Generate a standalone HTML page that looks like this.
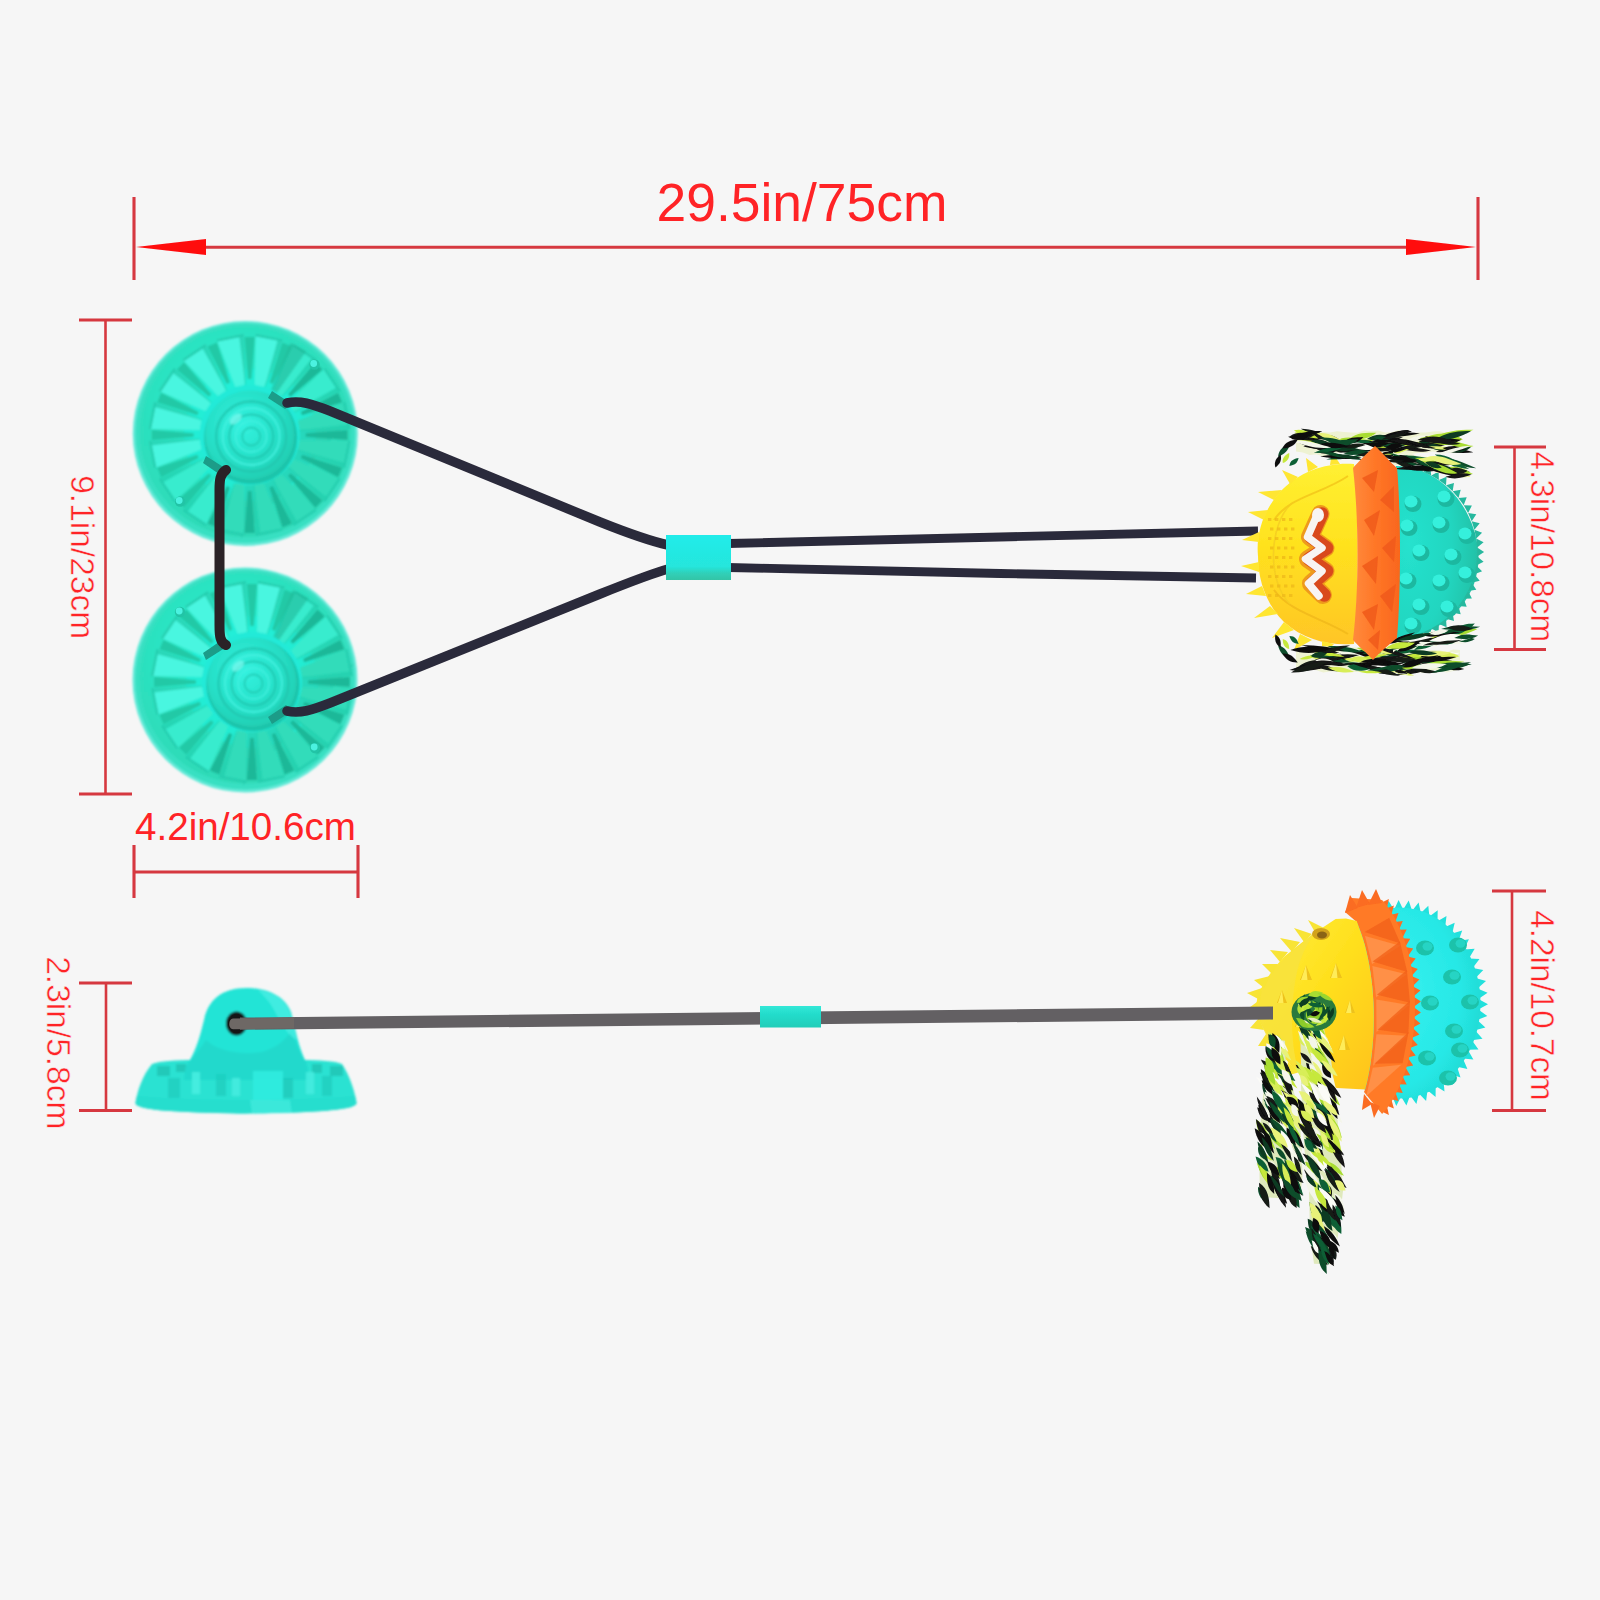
<!DOCTYPE html>
<html><head><meta charset="utf-8">
<style>
html,body{margin:0;padding:0;background:#f6f6f6;}
body{width:1600px;height:1600px;overflow:hidden;position:relative;font-family:"Liberation Sans",sans-serif;}
svg{position:absolute;left:0;top:0;display:block}
text{font-family:"Liberation Sans",sans-serif;fill:#ff2326}
</style></head>
<body>
<svg width="1600" height="1600" viewBox="0 0 1600 1600">
<defs>
<filter id="soft" x="-5%" y="-5%" width="110%" height="110%"><feGaussianBlur stdDeviation="0.7"/></filter>
<filter id="soft2" x="-5%" y="-5%" width="110%" height="110%"><feGaussianBlur stdDeviation="1.1"/></filter>
<filter id="soft3" x="-10%" y="-10%" width="120%" height="120%"><feGaussianBlur stdDeviation="2"/></filter>
<radialGradient id="cupg" cx="0.45" cy="0.4" r="0.65">
<stop offset="0" stop-color="#20f0d6"/><stop offset="0.5" stop-color="#2ce5c4"/><stop offset="1" stop-color="#2ed7b3"/>
</radialGradient>
<radialGradient id="hubg" cx="0.42" cy="0.38" r="0.65">
<stop offset="0" stop-color="#34f2e0"/><stop offset="0.6" stop-color="#26e0c8"/><stop offset="1" stop-color="#22ceb2"/>
</radialGradient>
<linearGradient id="yel1" x1="0" y1="0" x2="0" y2="1">
<stop offset="0" stop-color="#fff032"/><stop offset="0.45" stop-color="#ffe21e"/><stop offset="1" stop-color="#ffc526"/>
</linearGradient>
<linearGradient id="yel2" x1="0" y1="0" x2="1" y2="1">
<stop offset="0" stop-color="#fff040"/><stop offset="0.5" stop-color="#ffdf1c"/><stop offset="1" stop-color="#ffc21c"/>
</linearGradient>
<linearGradient id="org1" x1="0" y1="0" x2="1" y2="0">
<stop offset="0" stop-color="#ff8a3c"/><stop offset="0.5" stop-color="#ff7626"/><stop offset="1" stop-color="#f9661e"/>
</linearGradient>
<radialGradient id="teal1" cx="0.15" cy="0.45" r="0.95">
<stop offset="0" stop-color="#26e2ce"/><stop offset="0.55" stop-color="#20d6c0"/><stop offset="0.85" stop-color="#24c4aa"/><stop offset="1" stop-color="#27b096"/>
</radialGradient>
<radialGradient id="teal2" cx="0.35" cy="0.45" r="0.75">
<stop offset="0" stop-color="#3cf4f2"/><stop offset="0.7" stop-color="#26e8e6"/><stop offset="1" stop-color="#20d4cc"/>
</radialGradient>
<linearGradient id="clipg" x1="0" y1="0" x2="0" y2="1">
<stop offset="0" stop-color="#22ecea"/><stop offset="0.7" stop-color="#25e6dc"/><stop offset="0.85" stop-color="#2fd0b8"/><stop offset="1" stop-color="#34c4a6"/>
</linearGradient>
<linearGradient id="clip2g" x1="0" y1="0" x2="0" y2="1">
<stop offset="0" stop-color="#34e8d8"/><stop offset="0.4" stop-color="#22dccb"/><stop offset="1" stop-color="#20cdb8"/>
</linearGradient>
<linearGradient id="sideg" x1="0" y1="0" x2="1" y2="0">
<stop offset="0" stop-color="#36dcc8"/><stop offset="0.5" stop-color="#24dccc"/><stop offset="1" stop-color="#30d8c4"/>
</linearGradient>
</defs>
<rect width="1600" height="1600" fill="#f6f6f6"/>

<g stroke="#d6383f" stroke-width="3.1" fill="none" filter="url(#soft)">
<line x1="134" y1="197" x2="134" y2="280"/>
<line x1="1478" y1="197" x2="1478" y2="280"/>
<line x1="200" y1="247.3" x2="1410" y2="247.3"/>
<line x1="79" y1="320" x2="132" y2="320"/>
<line x1="79" y1="794" x2="132" y2="794"/>
<line x1="105.5" y1="320" x2="105.5" y2="794" stroke-width="2.6"/>
<line x1="134" y1="872" x2="358" y2="872"/>
<line x1="134" y1="845" x2="134" y2="898"/>
<line x1="358" y1="845" x2="358" y2="898"/>
<line x1="79" y1="983" x2="132" y2="983"/>
<line x1="79" y1="1110.5" x2="132" y2="1110.5"/>
<line x1="106" y1="983" x2="106" y2="1110" stroke-width="2.6"/>
<line x1="1494" y1="447" x2="1546" y2="447"/>
<line x1="1494" y1="649.5" x2="1546" y2="649.5"/>
<line x1="1514.5" y1="447" x2="1514.5" y2="649" stroke-width="2.6"/>
<line x1="1492" y1="891" x2="1546" y2="891"/>
<line x1="1492" y1="1110.5" x2="1546" y2="1110.5"/>
<line x1="1512" y1="891" x2="1512" y2="1110" stroke-width="2.6"/>
</g>
<g fill="#ff0a0e" filter="url(#soft)">
<polygon points="136,247 206,239 206,255"/>
<polygon points="1476,247 1406,239 1406,255"/>
</g>
<g>
<text id="t1" x="656.5" y="221" font-size="53.4">29.5in/75cm</text>
<text id="t3" x="135" y="840" font-size="38.6">4.2in/10.6cm</text>
<text id="t2" transform="translate(70.5,475.2) rotate(90)" stroke="#f6f6f6" stroke-width="0.5" font-size="33.5">9.1in/23cm</text>
<text id="t4" transform="translate(47.3,956.2) rotate(90)" stroke="#f6f6f6" stroke-width="0.5" font-size="33.5">2.3in/5.8cm</text>
<text id="t5" transform="translate(1531.3,451.5) rotate(90)" stroke="#f6f6f6" stroke-width="0.5" font-size="33.3">4.3in/10.8cm</text>
<text id="t6" transform="translate(1531.3,910.2) rotate(90)" stroke="#f6f6f6" stroke-width="0.5" font-size="33.3">4.2in/10.7cm</text>
</g>

<g id="cups">
<g filter="url(#soft2)">
<circle cx="245.3" cy="433.5" r="112.5" fill="#62ead8"/>
<circle cx="245.3" cy="433.0" r="110.0" fill="#38e0c2"/>
<circle cx="245.3" cy="431.5" r="105.5" fill="url(#cupg)"/>
<circle cx="249.7" cy="435" r="66" fill="#1ff0de" opacity="0.55"/>
<path d="M293,427.4 L352.1,416.9 L240.6,538.6 L245.9,478.8Z" fill="#27c6a6" opacity="0.5"/>
<path d="M299.4,440.1 L348.5,440.9 L343.2,467.4 L297.6,449.3Z" fill="#30dcba"/>
<path d="M297.4,450 L344.7,463 L343.2,467.4 L297.2,450.5Z" fill="#24cfae" opacity="0.8"/>
<path d="M305.7,433.2 L347.6,429.9 L347.6,440.1 L305.7,436.8Z" fill="#1fb898"/>
<path d="M349.5,440.9 L344.2,467.7" stroke="#25cdae" stroke-width="2.2" fill="none"/>
<path d="M293.7,458.8 L338.8,478.2 L323.7,500.7 L288.5,466.5Z" fill="#30dcba"/>
<path d="M288.1,467.1 L326.7,497.2 L323.7,500.7 L287.7,467.5Z" fill="#24cfae" opacity="0.8"/>
<path d="M302.1,454.8 L342.1,467.7 L338.2,477.2 L300.7,458Z" fill="#1fb898"/>
<path d="M339.7,478.7 L324.5,501.4" stroke="#25cdae" stroke-width="2.2" fill="none"/>
<path d="M281.2,473.8 L315.4,509 L292.9,524.1 L273.5,479Z" fill="#30dcba"/>
<path d="M272.9,479.3 L297.1,521.9 L292.9,524.1 L272.3,479.6Z" fill="#24cfae" opacity="0.8"/>
<path d="M290.5,473.3 L322.5,500.6 L315.3,507.8 L288,475.8Z" fill="#1fb898"/>
<path d="M316.1,509.8 L293.4,525" stroke="#25cdae" stroke-width="2.2" fill="none"/>
<path d="M264,482.9 L282.1,528.5 L255.6,533.8 L254.8,484.7Z" fill="#30dcba"/>
<path d="M254.1,484.8 L260.2,533.4 L255.6,533.8 L253.5,484.9Z" fill="#24cfae" opacity="0.8"/>
<path d="M272.7,486 L291.9,523.5 L282.4,527.4 L269.5,487.4Z" fill="#1fb898"/>
<path d="M282.4,529.5 L255.6,534.8" stroke="#25cdae" stroke-width="2.2" fill="none"/>
<path d="M244.6,484.7 L243.8,533.8 L217.3,528.5 L235.4,482.9Z" fill="#30dcba"/>
<path d="M234.7,482.7 L221.7,530 L217.3,528.5 L234.2,482.5Z" fill="#24cfae" opacity="0.8"/>
<path d="M251.5,491 L254.8,532.9 L244.6,532.9 L247.9,491Z" fill="#1fb898"/>
<path d="M243.8,534.8 L217,529.5" stroke="#25cdae" stroke-width="2.2" fill="none"/>
<path d="M225.9,479 L206.5,524.1 L184,509 L218.2,473.8Z" fill="#38ecce"/>
<path d="M217.6,473.4 L187.5,512 L184,509 L217.2,473Z" fill="#24cfae" opacity="0.8"/>
<path d="M229.9,487.4 L217,527.4 L207.5,523.5 L226.7,486Z" fill="#1fb898"/>
<path d="M206,525 L183.3,509.8" stroke="#25cdae" stroke-width="2.2" fill="none"/>
<path d="M210.9,466.5 L175.7,500.7 L160.6,478.2 L205.7,458.8Z" fill="#38ecce"/>
<path d="M205.4,458.2 L162.8,482.4 L160.6,478.2 L205.1,457.6Z" fill="#24cfae" opacity="0.8"/>
<path d="M211.4,475.8 L184.1,507.8 L176.9,500.6 L208.9,473.3Z" fill="#22c9a6"/>
<path d="M174.9,501.4 L159.7,478.7" stroke="#25cdae" stroke-width="2.2" fill="none"/>
<path d="M201.8,449.3 L156.2,467.4 L150.9,440.9 L200,440.1Z" fill="#48f6e0"/>
<path d="M199.9,439.4 L151.3,445.5 L150.9,440.9 L199.8,438.8Z" fill="#24cfae" opacity="0.8"/>
<path d="M198.7,458 L161.2,477.2 L157.3,467.7 L197.3,454.8Z" fill="#22c9a6"/>
<path d="M155.2,467.7 L149.9,440.9" stroke="#25cdae" stroke-width="2.2" fill="none"/>
<path d="M200,429.9 L150.9,429.1 L156.2,402.6 L201.8,420.7Z" fill="#48f6e0"/>
<path d="M202,420 L154.7,407 L156.2,402.6 L202.2,419.5Z" fill="#24cfae" opacity="0.8"/>
<path d="M193.7,436.8 L151.8,440.1 L151.8,429.9 L193.7,433.2Z" fill="#22c9a6"/>
<path d="M149.9,429.1 L155.2,402.3" stroke="#25cdae" stroke-width="2.2" fill="none"/>
<path d="M205.7,411.2 L160.6,391.8 L175.7,369.3 L210.9,403.5Z" fill="#48f6e0"/>
<path d="M211.3,402.9 L172.7,372.8 L175.7,369.3 L211.7,402.5Z" fill="#24cfae" opacity="0.8"/>
<path d="M197.3,415.2 L157.3,402.3 L161.2,392.8 L198.7,412Z" fill="#22c9a6"/>
<path d="M159.7,391.3 L174.9,368.6" stroke="#25cdae" stroke-width="2.2" fill="none"/>
<path d="M218.2,396.2 L184,361 L206.5,345.9 L225.9,391Z" fill="#48f6e0"/>
<path d="M226.5,390.7 L202.3,348.1 L206.5,345.9 L227.1,390.4Z" fill="#24cfae" opacity="0.8"/>
<path d="M208.9,396.7 L176.9,369.4 L184.1,362.2 L211.4,394.2Z" fill="#22c9a6"/>
<path d="M183.3,360.2 L206,345" stroke="#25cdae" stroke-width="2.2" fill="none"/>
<path d="M235.4,387.1 L217.3,341.5 L243.8,336.2 L244.6,385.3Z" fill="#48f6e0"/>
<path d="M245.3,385.2 L239.2,336.6 L243.8,336.2 L245.9,385.1Z" fill="#24cfae" opacity="0.8"/>
<path d="M226.7,384 L207.5,346.5 L217,342.6 L229.9,382.6Z" fill="#22c9a6"/>
<path d="M217,340.5 L243.8,335.2" stroke="#25cdae" stroke-width="2.2" fill="none"/>
<path d="M254.8,385.3 L255.6,336.2 L282.1,341.5 L264,387.1Z" fill="#48f6e0"/>
<path d="M264.7,387.3 L277.7,340 L282.1,341.5 L265.2,387.5Z" fill="#24cfae" opacity="0.8"/>
<path d="M247.9,379 L244.6,337.1 L254.8,337.1 L251.5,379Z" fill="#22c9a6"/>
<path d="M255.6,335.2 L282.4,340.5" stroke="#25cdae" stroke-width="2.2" fill="none"/>
<path d="M273.5,391 L292.9,345.9 L315.4,361 L281.2,396.2Z" fill="#38ecce"/>
<path d="M281.8,396.6 L311.9,358 L315.4,361 L282.2,397Z" fill="#24cfae" opacity="0.8"/>
<path d="M269.5,382.6 L282.4,342.6 L291.9,346.5 L272.7,384Z" fill="#22c9a6"/>
<path d="M293.4,345 L316.1,360.2" stroke="#25cdae" stroke-width="2.2" fill="none"/>
<path d="M288.5,403.5 L323.7,369.3 L338.8,391.8 L293.7,411.2Z" fill="#38ecce"/>
<path d="M294,411.8 L336.6,387.6 L338.8,391.8 L294.3,412.4Z" fill="#24cfae" opacity="0.8"/>
<path d="M288,394.2 L315.3,362.2 L322.5,369.4 L290.5,396.7Z" fill="#1fb898"/>
<path d="M324.5,368.6 L339.7,391.3" stroke="#25cdae" stroke-width="2.2" fill="none"/>
<path d="M297.6,420.7 L343.2,402.6 L348.5,429.1 L299.4,429.9Z" fill="#30dcba"/>
<path d="M299.5,430.6 L348.1,424.5 L348.5,429.1 L299.6,431.2Z" fill="#24cfae" opacity="0.8"/>
<path d="M300.7,412 L338.2,392.8 L342.1,402.3 L302.1,415.2Z" fill="#1fb898"/>
<path d="M344.2,402.3 L349.5,429.1" stroke="#25cdae" stroke-width="2.2" fill="none"/>
<path d="M269.5,393.5 L290.8,342.7 L306.2,351.3 L274.4,396.2Z" fill="#1fb494" opacity="0.55"/>
<circle cx="249.7" cy="435" r="50" fill="#20ead8"/>
<circle cx="250.7" cy="437.5" r="46.5" fill="#1fc4aa"/>
<circle cx="249.7" cy="435" r="44.5" fill="url(#hubg)"/>
<circle cx="251.2" cy="436.5" r="35" fill="none" stroke="#20c6ae" stroke-width="2.4" opacity="0.85"/>
<circle cx="251.2" cy="436.5" r="28.5" fill="none" stroke="#46f4e4" stroke-width="1.8" opacity="0.85"/>
<circle cx="251.2" cy="436.5" r="22" fill="none" stroke="#20c6ae" stroke-width="2.0" opacity="0.85"/>
<circle cx="251.2" cy="436.5" r="15.5" fill="none" stroke="#44f2e2" stroke-width="1.6" opacity="0.85"/>
<circle cx="251.2" cy="436.5" r="9" fill="none" stroke="#22cab2" stroke-width="1.8" opacity="0.85"/>
<ellipse cx="235.7" cy="419" rx="7" ry="4" fill="#7ffaf0" opacity="0.7" transform="rotate(-40 235.7 419)"/>
</g>
<g filter="url(#soft2)">
<circle cx="245" cy="680" r="112.5" fill="#62ead8"/>
<circle cx="245" cy="679.5" r="110.0" fill="#38e0c2"/>
<circle cx="245" cy="678" r="105.5" fill="url(#cupg)"/>
<circle cx="252" cy="682" r="66" fill="#1ff0de" opacity="0.55"/>
<path d="M295.3,674.4 L354.4,663.9 L242.9,785.6 L248.2,725.8Z" fill="#27c6a6" opacity="0.5"/>
<path d="M301.7,687.1 L350.8,687.9 L345.5,714.4 L299.9,696.3Z" fill="#30dcba"/>
<path d="M299.7,697 L347,710 L345.5,714.4 L299.5,697.5Z" fill="#24cfae" opacity="0.8"/>
<path d="M308,680.2 L349.9,676.9 L349.9,687.1 L308,683.8Z" fill="#1fb898"/>
<path d="M351.8,687.9 L346.5,714.7" stroke="#25cdae" stroke-width="2.2" fill="none"/>
<path d="M296,705.8 L341.1,725.2 L326,747.7 L290.8,713.5Z" fill="#30dcba"/>
<path d="M290.4,714.1 L329,744.2 L326,747.7 L290,714.5Z" fill="#24cfae" opacity="0.8"/>
<path d="M304.4,701.8 L344.4,714.7 L340.5,724.2 L303,705Z" fill="#1fb898"/>
<path d="M342,725.7 L326.8,748.4" stroke="#25cdae" stroke-width="2.2" fill="none"/>
<path d="M283.5,720.8 L317.7,756 L295.2,771.1 L275.8,726Z" fill="#30dcba"/>
<path d="M275.2,726.3 L299.4,768.9 L295.2,771.1 L274.6,726.6Z" fill="#24cfae" opacity="0.8"/>
<path d="M292.8,720.3 L324.8,747.6 L317.6,754.8 L290.3,722.8Z" fill="#1fb898"/>
<path d="M318.4,756.8 L295.7,772" stroke="#25cdae" stroke-width="2.2" fill="none"/>
<path d="M266.3,729.9 L284.4,775.5 L257.9,780.8 L257.1,731.7Z" fill="#30dcba"/>
<path d="M256.4,731.8 L262.5,780.4 L257.9,780.8 L255.8,731.9Z" fill="#24cfae" opacity="0.8"/>
<path d="M275,733 L294.2,770.5 L284.7,774.4 L271.8,734.4Z" fill="#1fb898"/>
<path d="M284.7,776.5 L257.9,781.8" stroke="#25cdae" stroke-width="2.2" fill="none"/>
<path d="M246.9,731.7 L246.1,780.8 L219.6,775.5 L237.7,729.9Z" fill="#30dcba"/>
<path d="M237,729.7 L224,777 L219.6,775.5 L236.5,729.5Z" fill="#24cfae" opacity="0.8"/>
<path d="M253.8,738 L257.1,779.9 L246.9,779.9 L250.2,738Z" fill="#1fb898"/>
<path d="M246.1,781.8 L219.3,776.5" stroke="#25cdae" stroke-width="2.2" fill="none"/>
<path d="M228.2,726 L208.8,771.1 L186.3,756 L220.5,720.8Z" fill="#38ecce"/>
<path d="M219.9,720.4 L189.8,759 L186.3,756 L219.5,720Z" fill="#24cfae" opacity="0.8"/>
<path d="M232.2,734.4 L219.3,774.4 L209.8,770.5 L229,733Z" fill="#1fb898"/>
<path d="M208.3,772 L185.6,756.8" stroke="#25cdae" stroke-width="2.2" fill="none"/>
<path d="M213.2,713.5 L178,747.7 L162.9,725.2 L208,705.8Z" fill="#38ecce"/>
<path d="M207.7,705.2 L165.1,729.4 L162.9,725.2 L207.4,704.6Z" fill="#24cfae" opacity="0.8"/>
<path d="M213.7,722.8 L186.4,754.8 L179.2,747.6 L211.2,720.3Z" fill="#22c9a6"/>
<path d="M177.2,748.4 L162,725.7" stroke="#25cdae" stroke-width="2.2" fill="none"/>
<path d="M204.1,696.3 L158.5,714.4 L153.2,687.9 L202.3,687.1Z" fill="#48f6e0"/>
<path d="M202.2,686.4 L153.6,692.5 L153.2,687.9 L202.1,685.8Z" fill="#24cfae" opacity="0.8"/>
<path d="M201,705 L163.5,724.2 L159.6,714.7 L199.6,701.8Z" fill="#22c9a6"/>
<path d="M157.5,714.7 L152.2,687.9" stroke="#25cdae" stroke-width="2.2" fill="none"/>
<path d="M202.3,676.9 L153.2,676.1 L158.5,649.6 L204.1,667.7Z" fill="#48f6e0"/>
<path d="M204.3,667 L157,654 L158.5,649.6 L204.5,666.5Z" fill="#24cfae" opacity="0.8"/>
<path d="M196,683.8 L154.1,687.1 L154.1,676.9 L196,680.2Z" fill="#22c9a6"/>
<path d="M152.2,676.1 L157.5,649.3" stroke="#25cdae" stroke-width="2.2" fill="none"/>
<path d="M208,658.2 L162.9,638.8 L178,616.3 L213.2,650.5Z" fill="#48f6e0"/>
<path d="M213.6,649.9 L175,619.8 L178,616.3 L214,649.5Z" fill="#24cfae" opacity="0.8"/>
<path d="M199.6,662.2 L159.6,649.3 L163.5,639.8 L201,659Z" fill="#22c9a6"/>
<path d="M162,638.3 L177.2,615.6" stroke="#25cdae" stroke-width="2.2" fill="none"/>
<path d="M220.5,643.2 L186.3,608 L208.8,592.9 L228.2,638Z" fill="#48f6e0"/>
<path d="M228.8,637.7 L204.6,595.1 L208.8,592.9 L229.4,637.4Z" fill="#24cfae" opacity="0.8"/>
<path d="M211.2,643.7 L179.2,616.4 L186.4,609.2 L213.7,641.2Z" fill="#22c9a6"/>
<path d="M185.6,607.2 L208.3,592" stroke="#25cdae" stroke-width="2.2" fill="none"/>
<path d="M237.7,634.1 L219.6,588.5 L246.1,583.2 L246.9,632.3Z" fill="#48f6e0"/>
<path d="M247.6,632.2 L241.5,583.6 L246.1,583.2 L248.2,632.1Z" fill="#24cfae" opacity="0.8"/>
<path d="M229,631 L209.8,593.5 L219.3,589.6 L232.2,629.6Z" fill="#22c9a6"/>
<path d="M219.3,587.5 L246.1,582.2" stroke="#25cdae" stroke-width="2.2" fill="none"/>
<path d="M257.1,632.3 L257.9,583.2 L284.4,588.5 L266.3,634.1Z" fill="#48f6e0"/>
<path d="M267,634.3 L280,587 L284.4,588.5 L267.5,634.5Z" fill="#24cfae" opacity="0.8"/>
<path d="M250.2,626 L246.9,584.1 L257.1,584.1 L253.8,626Z" fill="#22c9a6"/>
<path d="M257.9,582.2 L284.7,587.5" stroke="#25cdae" stroke-width="2.2" fill="none"/>
<path d="M275.8,638 L295.2,592.9 L317.7,608 L283.5,643.2Z" fill="#38ecce"/>
<path d="M284.1,643.6 L314.2,605 L317.7,608 L284.5,644Z" fill="#24cfae" opacity="0.8"/>
<path d="M271.8,629.6 L284.7,589.6 L294.2,593.5 L275,631Z" fill="#22c9a6"/>
<path d="M295.7,592 L318.4,607.2" stroke="#25cdae" stroke-width="2.2" fill="none"/>
<path d="M290.8,650.5 L326,616.3 L341.1,638.8 L296,658.2Z" fill="#38ecce"/>
<path d="M296.3,658.8 L338.9,634.6 L341.1,638.8 L296.6,659.4Z" fill="#24cfae" opacity="0.8"/>
<path d="M290.3,641.2 L317.6,609.2 L324.8,616.4 L292.8,643.7Z" fill="#1fb898"/>
<path d="M326.8,615.6 L342,638.3" stroke="#25cdae" stroke-width="2.2" fill="none"/>
<path d="M299.9,667.7 L345.5,649.6 L350.8,676.1 L301.7,676.9Z" fill="#30dcba"/>
<path d="M301.8,677.6 L350.4,671.5 L350.8,676.1 L301.9,678.2Z" fill="#24cfae" opacity="0.8"/>
<path d="M303,659 L340.5,639.8 L344.4,649.3 L304.4,662.2Z" fill="#1fb898"/>
<path d="M346.5,649.3 L351.8,676.1" stroke="#25cdae" stroke-width="2.2" fill="none"/>
<path d="M271.8,640.5 L293.1,589.7 L308.5,598.3 L276.7,643.2Z" fill="#1fb494" opacity="0.55"/>
<circle cx="252" cy="682" r="50" fill="#20ead8"/>
<circle cx="253" cy="684.5" r="46.5" fill="#1fc4aa"/>
<circle cx="252" cy="682" r="44.5" fill="url(#hubg)"/>
<circle cx="253.5" cy="683.5" r="35" fill="none" stroke="#20c6ae" stroke-width="2.4" opacity="0.85"/>
<circle cx="253.5" cy="683.5" r="28.5" fill="none" stroke="#46f4e4" stroke-width="1.8" opacity="0.85"/>
<circle cx="253.5" cy="683.5" r="22" fill="none" stroke="#20c6ae" stroke-width="2.0" opacity="0.85"/>
<circle cx="253.5" cy="683.5" r="15.5" fill="none" stroke="#44f2e2" stroke-width="1.6" opacity="0.85"/>
<circle cx="253.5" cy="683.5" r="9" fill="none" stroke="#22cab2" stroke-width="1.8" opacity="0.85"/>
<ellipse cx="238" cy="666" rx="7" ry="4" fill="#7ffaf0" opacity="0.7" transform="rotate(-40 238 666)"/>
</g>
<g filter="url(#soft)">
<circle cx="314.5" cy="364.5" r="5.2" fill="#21c4a6"/>
<circle cx="313.7" cy="363.5" r="3.4" fill="#4cf2e0"/>
<circle cx="180" cy="501.5" r="5.2" fill="#21c4a6"/>
<circle cx="179.2" cy="500.5" r="3.4" fill="#4cf2e0"/>
<circle cx="180" cy="612" r="5.2" fill="#21c4a6"/>
<circle cx="179.2" cy="611" r="3.4" fill="#4cf2e0"/>
<circle cx="315" cy="748" r="5.2" fill="#21c4a6"/>
<circle cx="314.2" cy="747" r="3.4" fill="#4cf2e0"/>
</g>
</g>
<g id="cords" fill="none" stroke-linecap="round" filter="url(#soft)">
<path d="M272,391 L292,404 L285,409 L268,398Z" fill="#1a9c88" stroke="none"/>
<path d="M206,456 L228,470 L222,476 L203,463Z" fill="#1a9c88" stroke="none"/>
<path d="M272,724 L292,711 L286,705 L268,717Z" fill="#1a9c88" stroke="none"/>
<path d="M206,660 L228,646 L222,640 L203,653Z" fill="#1a9c88" stroke="none"/>
<path d="M226,470 C220,474 219.5,480 219.5,490 L219.5,625 C219.5,636 220,642 226,645" stroke="#2a2426" stroke-width="10"/>
<path d="M287,403 C300,400 312,404 330,411 L600,522 C630,534 650,541 668,545" stroke="#2b2a3a" stroke-width="9.5"/>
<path d="M287,711 C300,714 312,710 330,703 L600,594 C630,582 650,574 668,569" stroke="#2b2a3a" stroke-width="9.5"/>
<path d="M728,543.5 L1000,537 L1258,531" stroke="#2b2a3a" stroke-width="8.8" stroke-linecap="butt"/>
<path d="M728,567.5 L1000,573.5 L1256,578" stroke="#2b2a3a" stroke-width="8.8" stroke-linecap="butt"/>
</g>
<g filter="url(#soft)"><rect x="666" y="535" width="65" height="45" fill="url(#clipg)"/></g>
<g id="sidecup" filter="url(#soft2)">
<path d="M135.5,1103 C137,1092 142,1076 152,1064 C160,1061 175,1060 195,1060 L300,1060 C320,1060 335,1061 342,1064 C350,1076 355,1092 356.5,1103 C356,1109 330,1112.5 246,1113.5 C162,1112.5 136,1109 135.5,1103Z" fill="#2ae2d2"/>
<rect x="157" y="1066" width="13" height="10" fill="#1fc6b6" opacity="0.9"/>
<rect x="176" y="1064" width="10" height="8" fill="#1fc6b6" opacity="0.9"/>
<rect x="286" y="1066" width="19" height="13" fill="#1fc6b6" opacity="0.9"/>
<rect x="312" y="1064" width="10" height="9" fill="#1fc6b6" opacity="0.9"/>
<rect x="330" y="1066" width="13" height="10" fill="#1fc6b6" opacity="0.9"/>
<path d="M186,1066 C196,1052 200,1036 204,1020 C208,1000 222,988 246,988 C270,988 286,998 291,1012 C296,1030 298,1046 306,1062 L310,1080 L184,1080Z" fill="#24e4d6"/>
<path d="M206,1040 C216,1050 240,1056 262,1052 C276,1048 286,1040 292,1030 C296,1044 300,1054 306,1062 L310,1080 L184,1080 L186,1066 C196,1054 202,1046 206,1040Z" fill="#1fd6c8" opacity="0.75"/>
<path d="M258,990 C274,992 286,1000 290,1012 C293,1022 295,1032 297,1040 C288,1036 282,1024 274,1010 C270,1002 264,996 258,990Z" fill="#4cf0e6" opacity="0.7"/>
<rect x="168" y="1078" width="12" height="20" fill="#20cfc0" opacity="0.85"/>
<rect x="192" y="1072" width="8" height="22" fill="#4aeee2" opacity="0.85"/>
<rect x="216" y="1074" width="10" height="22" fill="#20cfc0" opacity="0.85"/>
<rect x="232" y="1078" width="8" height="18" fill="#46ece0" opacity="0.85"/>
<rect x="253" y="1071" width="30" height="29" fill="#30ece0" opacity="0.85"/>
<rect x="283" y="1078" width="10" height="20" fill="#1fcabc" opacity="0.85"/>
<rect x="306" y="1072" width="8" height="22" fill="#46ece0" opacity="0.85"/>
<rect x="322" y="1076" width="10" height="20" fill="#20cfc0" opacity="0.85"/>
<path d="M137,1096 C170,1099 210,1100 246,1100 C282,1100 322,1099 355,1096 C356,1100 356.5,1102 356.5,1103 C356,1109 330,1112.5 246,1113.5 C162,1112.5 136,1109 135.5,1103 C135.5,1102 136,1100 137,1096Z" fill="#26dece"/>
<path d="M250,1100 L290,1100 L292,1113 L252,1113.5Z" fill="#48eee2" opacity="0.6"/>
<ellipse cx="236.5" cy="1023.5" rx="10.5" ry="12" fill="#121212"/>
</g>
<g id="ball1">
<g filter="url(#soft)">
<path d="M1396,466 C1430,466 1462,492 1474,530 C1480,550 1480,566 1474,584 C1462,616 1430,638 1396,638Z" fill="url(#teal1)"/>
<path d="M1406.2,467.1 L1411.9,461 L1414.8,468.9Z M1414.8,468.9 L1421.2,463.6 L1423.2,471.7Z M1423.2,471.7 L1430.1,467 L1431.3,475.4Z M1431.3,475.4 L1438.6,471.5 L1438.9,479.9Z M1438.9,479.9 L1446.6,476.8 L1446,485.2Z M1446,485.2 L1454,482.9 L1452.6,491.2Z M1452.6,491.2 L1460.7,489.8 L1458.5,497.9Z M1458.5,497.9 L1466.7,497.3 L1463.7,505.2Z M1463.7,505.2 L1471.9,505.5 L1468.1,513Z M1468.1,513 L1476.3,514.2 L1471.7,521.2Z M1471.7,521.2 L1479.7,523.3 L1474.4,529.7Z M1474.4,529.7 L1482.1,532.7 L1476.2,538.5Z M1476.2,538.5 L1483.6,542.3 L1477.2,547.5Z M1477.2,547.5 L1484.1,552 L1477.2,556.5Z M1477.2,556.5 L1483.6,561.7 L1476.2,565.5Z M1476.2,565.5 L1482.1,571.3 L1474.4,574.3Z M1474.4,574.3 L1479.7,580.7 L1471.7,582.8Z M1471.7,582.8 L1476.3,589.8 L1468.1,591Z M1468.1,591 L1471.9,598.5 L1463.7,598.8Z M1463.7,598.8 L1466.7,606.7 L1458.5,606.1Z M1458.5,606.1 L1460.7,614.2 L1452.6,612.8Z M1452.6,612.8 L1454,621.1 L1446,618.8Z M1446,618.8 L1446.6,627.2 L1438.9,624.1Z M1438.9,624.1 L1438.6,632.5 L1431.3,628.6Z M1431.3,628.6 L1430.1,637 L1423.2,632.3Z M1423.2,632.3 L1421.2,640.4 L1414.8,635.1Z M1414.8,635.1 L1411.9,643 L1406.2,636.9Z" fill="#27b89e"/>
<ellipse cx="1413" cy="504" rx="8.5" ry="8" fill="#1fb8a0"/>
<ellipse cx="1411" cy="501.5" rx="6.5" ry="6" fill="#34f0dc"/>
<ellipse cx="1446" cy="499" rx="8.5" ry="8" fill="#1fb8a0"/>
<ellipse cx="1444" cy="496.5" rx="6.5" ry="6" fill="#34f0dc"/>
<ellipse cx="1409" cy="528" rx="8.5" ry="8" fill="#1fb8a0"/>
<ellipse cx="1407" cy="525.5" rx="6.5" ry="6" fill="#34f0dc"/>
<ellipse cx="1441" cy="525" rx="8.5" ry="8" fill="#1fb8a0"/>
<ellipse cx="1439" cy="522.5" rx="6.5" ry="6" fill="#34f0dc"/>
<ellipse cx="1467" cy="536" rx="8.5" ry="8" fill="#1fb8a0"/>
<ellipse cx="1465" cy="533.5" rx="6.5" ry="6" fill="#34f0dc"/>
<ellipse cx="1421" cy="553" rx="8.5" ry="8" fill="#1fb8a0"/>
<ellipse cx="1419" cy="550.5" rx="6.5" ry="6" fill="#34f0dc"/>
<ellipse cx="1453" cy="557" rx="8.5" ry="8" fill="#1fb8a0"/>
<ellipse cx="1451" cy="554.5" rx="6.5" ry="6" fill="#34f0dc"/>
<ellipse cx="1408" cy="581" rx="8.5" ry="8" fill="#1fb8a0"/>
<ellipse cx="1406" cy="578.5" rx="6.5" ry="6" fill="#34f0dc"/>
<ellipse cx="1441" cy="583" rx="8.5" ry="8" fill="#1fb8a0"/>
<ellipse cx="1439" cy="580.5" rx="6.5" ry="6" fill="#34f0dc"/>
<ellipse cx="1467" cy="575" rx="8.5" ry="8" fill="#1fb8a0"/>
<ellipse cx="1465" cy="572.5" rx="6.5" ry="6" fill="#34f0dc"/>
<ellipse cx="1421" cy="607" rx="8.5" ry="8" fill="#1fb8a0"/>
<ellipse cx="1419" cy="604.5" rx="6.5" ry="6" fill="#34f0dc"/>
<ellipse cx="1449" cy="609" rx="8.5" ry="8" fill="#1fb8a0"/>
<ellipse cx="1447" cy="606.5" rx="6.5" ry="6" fill="#34f0dc"/>
<ellipse cx="1413" cy="626" rx="8.5" ry="8" fill="#1fb8a0"/>
<ellipse cx="1411" cy="623.5" rx="6.5" ry="6" fill="#34f0dc"/>
<path d="M1354,464 C1330,462 1300,470 1280,492 C1262,512 1256,536 1258,556 C1258,580 1266,604 1284,622 C1304,640 1330,646 1354,644 C1359,600 1359,510 1354,464Z" fill="url(#yel1)"/>
<polygon points="1330,465 1332,452 1340,464" fill="#ffe630"/>
<polygon points="1308,472 1306,458 1318,467" fill="#ffe630"/>
<polygon points="1290,484 1282,470 1298,477" fill="#ffe630"/>
<polygon points="1274,500 1258,492 1282,490" fill="#ffe630"/>
<polygon points="1264,520 1248,512 1268,510" fill="#ffe630"/>
<polygon points="1259,542 1242,540 1259,532" fill="#ffe630"/>
<polygon points="1259,562 1241,566 1259,572" fill="#ffe630"/>
<polygon points="1262,586 1246,594 1266,596" fill="#ffe630"/>
<polygon points="1270,606 1254,618 1278,614" fill="#ffe630"/>
<polygon points="1284,622 1272,638 1294,630" fill="#ffe630"/>
<polygon points="1300,634 1294,650 1312,640" fill="#ffe630"/>
<polygon points="1322,641 1322,656 1334,644" fill="#ffe630"/>
<path d="M1348,476 C1322,494 1290,496 1274,520" fill="none" stroke="#f2c41a" stroke-width="2" opacity="0.8"/>
<path d="M1348,634 C1322,618 1290,612 1274,590" fill="none" stroke="#f0b81a" stroke-width="2" opacity="0.8"/>
<path d="M1290,505 C1270,525 1266,580 1290,604" fill="none" stroke="#f4cc20" stroke-width="1.6" opacity="0.8"/>
<rect x="1268" y="518.0" width="3.4" height="3" fill="#eeb818" opacity="0.75"/>
<rect x="1275" y="518.0" width="3.4" height="3" fill="#eeb818" opacity="0.75"/>
<rect x="1282" y="518.0" width="3.4" height="3" fill="#eeb818" opacity="0.75"/>
<rect x="1289" y="518.0" width="3.4" height="3" fill="#eeb818" opacity="0.75"/>
<rect x="1270" y="527.5" width="3.4" height="3" fill="#eeb818" opacity="0.75"/>
<rect x="1277" y="527.5" width="3.4" height="3" fill="#eeb818" opacity="0.75"/>
<rect x="1284" y="527.5" width="3.4" height="3" fill="#eeb818" opacity="0.75"/>
<rect x="1291" y="527.5" width="3.4" height="3" fill="#eeb818" opacity="0.75"/>
<rect x="1268" y="537.0" width="3.4" height="3" fill="#eeb818" opacity="0.75"/>
<rect x="1275" y="537.0" width="3.4" height="3" fill="#eeb818" opacity="0.75"/>
<rect x="1282" y="537.0" width="3.4" height="3" fill="#eeb818" opacity="0.75"/>
<rect x="1289" y="537.0" width="3.4" height="3" fill="#eeb818" opacity="0.75"/>
<rect x="1270" y="546.5" width="3.4" height="3" fill="#eeb818" opacity="0.75"/>
<rect x="1277" y="546.5" width="3.4" height="3" fill="#eeb818" opacity="0.75"/>
<rect x="1284" y="546.5" width="3.4" height="3" fill="#eeb818" opacity="0.75"/>
<rect x="1291" y="546.5" width="3.4" height="3" fill="#eeb818" opacity="0.75"/>
<rect x="1268" y="556.0" width="3.4" height="3" fill="#eeb818" opacity="0.75"/>
<rect x="1275" y="556.0" width="3.4" height="3" fill="#eeb818" opacity="0.75"/>
<rect x="1282" y="556.0" width="3.4" height="3" fill="#eeb818" opacity="0.75"/>
<rect x="1289" y="556.0" width="3.4" height="3" fill="#eeb818" opacity="0.75"/>
<rect x="1270" y="565.5" width="3.4" height="3" fill="#eeb818" opacity="0.75"/>
<rect x="1277" y="565.5" width="3.4" height="3" fill="#eeb818" opacity="0.75"/>
<rect x="1284" y="565.5" width="3.4" height="3" fill="#eeb818" opacity="0.75"/>
<rect x="1291" y="565.5" width="3.4" height="3" fill="#eeb818" opacity="0.75"/>
<rect x="1268" y="575.0" width="3.4" height="3" fill="#eeb818" opacity="0.75"/>
<rect x="1275" y="575.0" width="3.4" height="3" fill="#eeb818" opacity="0.75"/>
<rect x="1282" y="575.0" width="3.4" height="3" fill="#eeb818" opacity="0.75"/>
<rect x="1289" y="575.0" width="3.4" height="3" fill="#eeb818" opacity="0.75"/>
<rect x="1270" y="584.5" width="3.4" height="3" fill="#eeb818" opacity="0.75"/>
<rect x="1277" y="584.5" width="3.4" height="3" fill="#eeb818" opacity="0.75"/>
<rect x="1284" y="584.5" width="3.4" height="3" fill="#eeb818" opacity="0.75"/>
<rect x="1291" y="584.5" width="3.4" height="3" fill="#eeb818" opacity="0.75"/>
<rect x="1268" y="594.0" width="3.4" height="3" fill="#eeb818" opacity="0.75"/>
<rect x="1275" y="594.0" width="3.4" height="3" fill="#eeb818" opacity="0.75"/>
<rect x="1282" y="594.0" width="3.4" height="3" fill="#eeb818" opacity="0.75"/>
<rect x="1289" y="594.0" width="3.4" height="3" fill="#eeb818" opacity="0.75"/>
<path d="M1320.5,514 L1310,537 L1325.5,548 L1308,559 L1325.5,571 L1311,583.5 L1323,595" fill="none" stroke="#ee9a1a" stroke-width="18" stroke-linejoin="round" stroke-linecap="round"/>
<path d="M1320.5,514 L1310,537 L1325.5,548 L1308,559 L1325.5,571 L1311,583.5 L1323,595" fill="none" stroke="#d9481c" stroke-width="13.5" stroke-linejoin="round" stroke-linecap="round" transform="translate(1.2,0)"/>
<path d="M1318,513 L1307.5,537 L1322,548 L1305.5,559 L1322,571 L1308.5,583.5 L1319,596" fill="none" stroke="#f8f4f2" stroke-width="7.5" stroke-linejoin="round" stroke-linecap="round"/>
<ellipse cx="1318" cy="515" rx="6" ry="7" fill="#f8f4f2"/>
</g>
<g filter="url(#soft)">
<path d="M1296,434.7 L1302.8,432.7 L1309.7,433.7 L1316.5,432.2 L1323.3,432.3 L1330.2,432.5 L1337,431.2 L1343.8,432.1 L1350.7,432.4 L1357.5,432.8 L1364.3,430.6 L1371.2,431.2 L1378,430.5 L1384.8,432.6 L1391.7,432.2 L1398.5,430.1 L1405.3,433.1 L1412.2,433.2 L1419,432.5 L1425.8,432.6 L1432.7,431.4 L1439.5,431.2 L1446.3,432.9 L1453.2,431.7 L1460,432.3 L1460,451.8 L1453.2,452.9 L1446.3,452 L1439.5,452.4 L1432.7,451.6 L1425.8,453 L1419,453 L1412.2,453.8 L1405.3,453.7 L1398.5,454.7 L1391.7,455.8 L1384.8,454.1 L1378,454.6 L1371.2,455.6 L1364.3,456.5 L1357.5,458.1 L1350.7,458.9 L1343.8,459 L1337,458.9 L1330.2,456.1 L1323.3,456.4 L1316.5,454.3 L1309.7,454.9 L1302.8,452.4 L1296,451.5Z" fill="#eef2d2"/>
<path d="M1377.2,438 C1388.6,436.8 1398.2,437.6 1409,441.4 C1397.7,442.3 1388.1,442.1 1377.2,438Z" fill="#0c0c0c"/>
<path d="M1349.4,448.7 C1355,445.6 1359.7,442.7 1366.5,444.4 C1360.8,447.2 1356.3,450.7 1349.4,448.7Z" fill="#0d4d2c"/>
<path d="M1426.8,445.2 C1438.2,441.2 1447.3,444.9 1457.9,448.3 C1446.6,451.8 1437.4,449.1 1426.8,445.2Z" fill="#fbfbf7"/>
<path d="M1317.5,452 C1324.7,449.9 1330.9,447.8 1338.5,450.7 C1331.2,452.6 1325.1,455.3 1317.5,452Z" fill="#0f0f0f"/>
<path d="M1435.9,451.9 C1446.1,446.2 1455.6,447.3 1466.7,447.5 C1456.4,452.9 1447,452.5 1435.9,451.9Z" fill="#121212"/>
<path d="M1364.6,447.5 C1379.2,441.4 1392.3,442.2 1407.6,444 C1392.9,449.7 1379.9,449.9 1364.6,447.5Z" fill="#0f0f0f"/>
<path d="M1368.7,444 C1377.3,440.4 1383.6,444.8 1391.2,447.5 C1382.6,450.7 1376.3,447.1 1368.7,444Z" fill="#0a3a22"/>
<path d="M1297.8,431.4 C1311.3,430.2 1322,433 1333.8,439.5 C1320.4,440.2 1309.5,438.4 1297.8,431.4Z" fill="#141a16"/>
<path d="M1421.6,447.6 C1434.8,440.5 1446.7,437.1 1461.8,438.1 C1448.5,444.8 1436.8,449.1 1421.6,447.6Z" fill="#0c0c0c"/>
<path d="M1430.9,437.9 C1445.1,431.3 1458,429.7 1473.5,429.8 C1459.2,436 1446.5,438.4 1430.9,437.9Z" fill="#a8dc30"/>
<path d="M1326.2,459.4 C1340.2,455.1 1352.6,454.3 1367.1,454.4 C1353.1,458.4 1340.8,459.8 1326.2,459.4Z" fill="#0d4d2c"/>
<path d="M1335,441.7 C1344.4,435.3 1353.1,438 1363.1,439.3 C1353.7,445.3 1345,443.5 1335,441.7Z" fill="#a8dc30"/>
<path d="M1413.8,437.5 C1425.7,434.8 1435.7,436.2 1447.3,439 C1435.5,441.4 1425.4,440.7 1413.8,437.5Z" fill="#0f0f0f"/>
<path d="M1354.2,448 C1362.4,445.4 1369.4,444.3 1377.8,446.9 C1369.6,449.1 1362.6,450.9 1354.2,448Z" fill="#141a16"/>
<path d="M1334.5,450.2 C1342.5,448 1349.2,447.7 1356.6,451.9 C1348.7,453.8 1341.9,454.9 1334.5,450.2Z" fill="#141a16"/>
<path d="M1294.5,432.5 C1303.1,431 1310.1,431.6 1317,437.5 C1308.5,438.5 1301.4,438.9 1294.5,432.5Z" fill="#d8ee58"/>
<path d="M1300.9,428.8 C1312,429 1320.5,432.4 1329.9,437.9 C1318.9,437.4 1310.2,434.6 1300.9,428.8Z" fill="#141a16"/>
<path d="M1418.7,441.4 C1425.5,438.7 1429.7,443.1 1435.3,445.4 C1428.6,447.8 1424.2,444 1418.7,441.4Z" fill="#141a16"/>
<path d="M1368.4,449.7 C1374,444 1379.9,445.9 1386.5,446.9 C1380.8,452.1 1375.1,451 1368.4,449.7Z" fill="#c6e83c"/>
<path d="M1367,439 C1375.4,432.8 1383.3,434.6 1392.5,436.6 C1384,442.3 1376.2,441.6 1367,439Z" fill="#0a3a22"/>
<path d="M1408.1,440.2 C1414,435.5 1420,435.1 1427.3,435.5 C1421.2,439.9 1415.4,440.9 1408.1,440.2Z" fill="#f4f6ea"/>
<path d="M1396.9,448.3 C1409.1,445.2 1419.2,448.6 1431.1,450.5 C1418.9,453.4 1408.8,450.5 1396.9,448.3Z" fill="#121212"/>
<path d="M1359.3,450.6 C1374.3,448 1387.2,446.9 1402.4,448.9 C1387.4,451.2 1374.5,453 1359.3,450.6Z" fill="#121212"/>
<path d="M1379.4,443.2 C1386,440.3 1390.4,443.5 1395.6,446.9 C1389.1,449.4 1384.5,447.1 1379.4,443.2Z" fill="#141a16"/>
<path d="M1356,442 C1361.5,437.2 1366.9,439.9 1373,440.1 C1367.5,444.6 1362.1,442.6 1356,442Z" fill="#a8dc30"/>
<path d="M1345.2,442.9 C1355.9,439.9 1365.1,439 1376,442.1 C1365.3,444.7 1356.1,446.4 1345.2,442.9Z" fill="#121212"/>
<path d="M1397.4,445.3 C1409.9,441.1 1420.9,441.9 1433.7,443.6 C1421.2,447.5 1410.2,447.3 1397.4,445.3Z" fill="#c6e83c"/>
<path d="M1293.9,430.2 C1304.1,428.1 1310.7,432.7 1318.4,438.3 C1308.3,440 1301.4,436.3 1293.9,430.2Z" fill="#c6e83c"/>
<path d="M1356.8,442.7 C1369.5,439.9 1380.1,443.4 1392.5,444.8 C1379.8,447.3 1369.3,444.3 1356.8,442.7Z" fill="#0f5e36"/>
<path d="M1378.4,440.5 C1393.8,438.1 1406.2,442.9 1421.2,444.8 C1405.8,446.9 1393.3,442.6 1378.4,440.5Z" fill="#0c0c0c"/>
<path d="M1435.9,447.9 C1449.5,445.3 1460.6,448.3 1473.4,452.3 C1459.8,454.4 1448.7,452.2 1435.9,447.9Z" fill="#0c0c0c"/>
<path d="M1303.2,446.5 C1316.9,442.1 1328.5,445 1342.1,447.5 C1328.4,451.4 1316.7,449.4 1303.2,446.5Z" fill="#0c0c0c"/>
<path d="M1348.8,439.4 C1357.2,432 1366.2,432.8 1376.4,432.7 C1367.8,439.7 1359.1,439.7 1348.8,439.4Z" fill="#a8dc30"/>
<path d="M1320.3,444.3 C1331.3,442.6 1340.5,444 1351.1,447.4 C1340.1,448.8 1330.8,448 1320.3,444.3Z" fill="#0a3a22"/>
<path d="M1330.5,448.7 C1342.1,446.1 1351.9,446.3 1363.3,449.5 C1351.7,451.8 1341.9,452.3 1330.5,448.7Z" fill="#0a3a22"/>
<path d="M1330.4,455 C1339.8,451.4 1347.9,452.1 1357.3,455 C1347.9,458.2 1339.9,458.3 1330.4,455Z" fill="#fbfbf7"/>
<path d="M1322.9,437 C1330.5,432.7 1335.4,436.6 1341.3,440.7 C1333.8,444.5 1328.6,441.6 1322.9,437Z" fill="#0f0f0f"/>
<path d="M1298.3,442.6 C1311,439.8 1320.4,444.3 1331.5,449.2 C1319,451.5 1309.4,447.9 1298.3,442.6Z" fill="#121212"/>
<path d="M1345.1,443.5 C1353.7,438.6 1361.8,440 1371.1,440.8 C1362.3,445.4 1354.4,444.7 1345.1,443.5Z" fill="#0f5e36"/>
<path d="M1376.5,440.3 C1386.8,433 1396.9,430.5 1409.3,430.1 C1398.9,437 1389.1,440.4 1376.5,440.3Z" fill="#0f0f0f"/>
<path d="M1441.8,439.7 C1448,438.3 1452.4,440.3 1457.3,443.8 C1451.2,444.9 1446.6,443.5 1441.8,439.7Z" fill="#0c0c0c"/>
<path d="M1425,439.9 C1436.9,437.1 1447.2,435.5 1459.4,438.3 C1447.4,440.8 1437.2,443.1 1425,439.9Z" fill="#0a3a22"/>
<path d="M1418.4,442.6 C1430.2,439.4 1438,445.7 1448,449.7 C1436.4,452.5 1428.3,447 1418.4,442.6Z" fill="#0a3a22"/>
<path d="M1361.7,449.1 C1370,444.4 1377.4,441.3 1387,441 C1378.6,445.4 1371.4,449 1361.7,449.1Z" fill="#0c0c0c"/>
<path d="M1383.5,435.8 C1396.1,433.1 1407,431.4 1419.9,433.4 C1407.3,435.8 1396.5,438.1 1383.5,435.8Z" fill="#0f0f0f"/>
<path d="M1357.7,444 C1367.1,441.3 1374.4,445 1383.3,446.8 C1374,449.2 1366.5,446.1 1357.7,444Z" fill="#0c0c0c"/>
<path d="M1450.1,451.9 C1456.3,445.2 1463.1,445.8 1471.2,446.7 C1464.9,453 1458.3,453.3 1450.1,451.9Z" fill="#0a3a22"/>
<path d="M1320.3,456.6 C1335,453.4 1347.4,455.9 1361.9,457.6 C1347.3,460.5 1334.8,458.6 1320.3,456.6Z" fill="#0f0f0f"/>
<path d="M1310.6,445.3 C1321.2,444.3 1328.3,449.4 1336.9,454.2 C1326.4,454.8 1319.1,450.4 1310.6,445.3Z" fill="#121212"/>
<path d="M1423.8,437.6 C1432.6,434.3 1439.9,435.7 1448.4,438.8 C1439.6,441.7 1432.2,441.1 1423.8,437.6Z" fill="#e8f27a"/>
<path d="M1379.1,456.8 C1383.3,449.1 1389.5,452.3 1395.8,452.5 C1391.4,459.8 1385.5,457.6 1379.1,456.8Z" fill="#121212"/>
<path d="M1442.2,434.4 C1450.9,430.4 1456.1,436.2 1462.9,439.4 C1454.4,443 1449,438.1 1442.2,434.4Z" fill="#a8dc30"/>
<path d="M1371.1,442.5 C1381.5,435.9 1391.7,438.1 1403,437.1 C1392.5,443.2 1382.5,441.7 1371.1,442.5Z" fill="#0f0f0f"/>
<path d="M1429.9,442.4 C1440.3,435.5 1450.1,439.1 1461.2,439.7 C1450.7,446.1 1441,443.5 1429.9,442.4Z" fill="#0f0f0f"/>
<path d="M1419.1,438.3 C1432.3,433.6 1442,440.1 1453.9,443.5 C1440.9,447.7 1431,442.2 1419.1,438.3Z" fill="#a8dc30"/>
<path d="M1373.5,437.3 C1379.7,435.9 1384.9,435.6 1390.7,438.9 C1384.5,440 1379.2,440.8 1373.5,437.3Z" fill="#0d4d2c"/>
<path d="M1287.8,436.1 C1302.6,435.8 1315.1,437.5 1329.1,442.4 C1314.3,442.4 1301.8,441.4 1287.8,436.1Z" fill="#121212"/>
<path d="M1358.9,449.6 C1364.2,445.5 1369.3,443.9 1376,445 C1370.6,448.8 1365.7,451 1358.9,449.6Z" fill="#0c0c0c"/>
<path d="M1316.3,433.4 C1329.4,431.3 1337.6,438.8 1348.4,443.9 C1335.4,445.6 1326.9,438.9 1316.3,433.4Z" fill="#e8f27a"/>
<path d="M1289.9,436.3 C1298.3,430.4 1305.8,433.4 1314.5,435.2 C1306.1,440.6 1298.6,438.6 1289.9,436.3Z" fill="#141a16"/>
<path d="M1313.8,452.8 C1324.5,447.7 1334.2,446.3 1345.9,446.6 C1335.1,451.4 1325.6,453.4 1313.8,452.8Z" fill="#0f5e36"/>
<path d="M1426.5,446.5 C1437.2,446.2 1446.4,445.5 1456.7,449.5 C1446,449.5 1436.8,450.7 1426.5,446.5Z" fill="#e8f27a"/>
<path d="M1442.6,448.1 C1450.9,445.4 1457.9,444.7 1465.8,449.2 C1457.5,451.4 1450.5,453 1442.6,448.1Z" fill="#121212"/>
<path d="M1356.4,445.9 C1369.2,441.7 1380.4,441.4 1393.7,442.9 C1380.8,446.7 1369.7,447.7 1356.4,445.9Z" fill="#0c0c0c"/>
<path d="M1344.5,443.4 C1357,440.3 1366.5,444.2 1377.6,449.1 C1365.2,451.8 1355.5,448.9 1344.5,443.4Z" fill="#fbfbf7"/>
<path d="M1347.2,450.8 C1361.1,448 1371.9,452.3 1384.5,457.2 C1370.6,459.5 1359.7,456.2 1347.2,450.8Z" fill="#141a16"/>
<path d="M1384,454.5 C1392.4,450.7 1399.7,448.1 1409.2,449.2 C1400.7,452.6 1393.5,455.9 1384,454.5Z" fill="#d8ee58"/>
<path d="M1442.7,443.1 C1454,439 1462.8,444.3 1473.5,446.1 C1462.2,449.8 1453.3,445.3 1442.7,443.1Z" fill="#a8dc30"/>
<path d="M1342.9,443.5 C1348.4,435.9 1355.7,437.7 1363.4,436.9 C1357.8,444.1 1350.7,443.2 1342.9,443.5Z" fill="#0c0c0c"/>
<path d="M1319.9,437.5 C1334.6,436.6 1345.5,441.8 1358.2,448 C1343.7,448.4 1332.5,444.1 1319.9,437.5Z" fill="#0d4d2c"/>
<path d="M1423.2,439.6 C1432.3,432.6 1441.7,433.9 1452.2,433.5 C1443,440 1433.8,439.6 1423.2,439.6Z" fill="#a8dc30"/>
<path d="M1383.8,446.1 C1391.1,441.1 1397.7,444.1 1405.3,444.9 C1398,449.5 1391.4,447.2 1383.8,446.1Z" fill="#0d4d2c"/>
<path d="M1386.2,447 C1391.7,442.9 1396.6,441.9 1402.8,445.4 C1397.3,449.1 1392.4,450.9 1386.2,447Z" fill="#0c0c0c"/>
<path d="M1435.8,454.6 C1447.8,449.3 1458.5,446.4 1471.6,445.4 C1459.5,450.3 1449,453.8 1435.8,454.6Z" fill="#f4f6ea"/>
<path d="M1382.1,454.1 C1393.8,449.1 1403.8,445.2 1416.7,445.1 C1405,449.8 1395.1,454.3 1382.1,454.1Z" fill="#0f0f0f"/>
<path d="M1288.5,437.7 C1299.9,432.9 1309.9,430.2 1322.4,431.2 C1310.9,435.6 1301.1,439 1288.5,437.7Z" fill="#0f0f0f"/>
<path d="M1434.2,439.9 C1446.2,433 1457.2,430.5 1471,431.2 C1458.9,437.5 1448.1,441 1434.2,439.9Z" fill="#0a3a22"/>
<path d="M1393.9,433.3 C1400,430.9 1405.3,428.9 1411.9,431.6 C1405.8,433.6 1400.6,436.3 1393.9,433.3Z" fill="#121212"/>
<path d="M1381.6,439.6 C1389.7,433.5 1398.1,433.8 1407.5,432.4 C1399.4,438.2 1391.1,438.5 1381.6,439.6Z" fill="#141a16"/>
<path d="M1315,447 C1329.3,440.7 1342.3,440.6 1357.5,441.5 C1343.2,447.3 1330.3,448.3 1315,447Z" fill="#0d4d2c"/>
<path d="M1401.1,448.4 C1412.5,444.8 1422.3,442 1434.4,443.2 C1423,446.5 1413.3,449.9 1401.1,448.4Z" fill="#141a16"/>
<path d="M1319.4,451.8 C1331.3,451 1340.9,454.3 1352,458 C1340.1,458.5 1330.4,455.7 1319.4,451.8Z" fill="#0d4d2c"/>
<path d="M1343.3,454.1 C1351.6,449.2 1359.4,449.5 1368.5,450.7 C1360.1,455.3 1352.5,455.8 1343.3,454.1Z" fill="#0d4d2c"/>
<path d="M1291,438.8 C1296.9,433.4 1302.8,432.8 1310.2,434.9 C1304.2,439.9 1298.5,441.4 1291,438.8Z" fill="#0f0f0f"/>
<path d="M1295.6,441 C1309.1,438.6 1320.1,442.1 1333.1,444.7 C1319.6,446.7 1308.5,443.9 1295.6,441Z" fill="#c6e83c"/>
<path d="M1342.5,446.9 C1350.4,444.3 1357.2,442.1 1365.6,444.9 C1357.7,447.1 1350.9,450 1342.5,446.9Z" fill="#141a16"/>
<path d="M1336.5,454.3 C1346,454.5 1354.2,455.2 1362.8,459.9 C1353.3,459.4 1345,459.2 1336.5,454.3Z" fill="#0a3a22"/>
<path d="M1326.3,446.4 C1336.3,437.8 1347.1,440.3 1358.7,438.9 C1348.6,447.1 1338,445.6 1326.3,446.4Z" fill="#0d4d2c"/>
<path d="M1425,437.7 C1438.5,433.9 1448.4,440.4 1460.7,443.8 C1447.3,447.2 1437.2,441.5 1425,437.7Z" fill="#141a16"/>
<path d="M1310.2,441.1 C1317.7,438 1323.5,440.6 1330.4,443.2 C1323,446 1317,444.1 1310.2,441.1Z" fill="#0a3a22"/>
<path d="M1388,440 C1403.1,436.8 1415,441.9 1429.2,445.5 C1414.2,448.3 1402.2,444.1 1388,440Z" fill="#121212"/>
<path d="M1317.9,444.7 C1328.9,441.2 1338,443.1 1348.6,446.3 C1337.6,449.4 1328.5,448.4 1317.9,444.7Z" fill="#0c0c0c"/>
<path d="M1417.5,439.7 C1431.2,433.9 1442.6,438.5 1456,440.9 C1442.4,446.2 1430.9,442.6 1417.5,439.7Z" fill="#121212"/>
<path d="M1406.8,441.9 C1417.7,440.5 1425.7,445.3 1435.7,448.1 C1424.9,449.2 1416.7,445 1406.8,441.9Z" fill="#121212"/>
<path d="M1291.4,441.2 C1306.1,438.6 1317.5,444 1331.2,447.4 C1316.6,449.6 1305.1,444.9 1291.4,441.2Z" fill="#f4f6ea"/>
<path d="M1393,451.9 L1396.1,453.6 L1399.2,454 L1402.2,455 L1405.3,453.4 L1408.4,454 L1411.5,454.1 L1414.6,454.8 L1417.7,456.8 L1420.8,455.4 L1423.8,457 L1426.9,456.5 L1430,457.2 L1433.1,458 L1436.2,459.7 L1439.2,459.4 L1442.3,458.1 L1445.4,459.3 L1448.5,459.3 L1451.6,461.9 L1454.7,462.2 L1457.8,462.6 L1460.8,463.1 L1463.9,463.3 L1467,464.3 L1467,477.3 L1463.9,478.3 L1460.8,475.8 L1457.8,476.3 L1454.7,474.8 L1451.6,474.7 L1448.5,474.5 L1445.4,474 L1442.3,473.2 L1439.2,472.9 L1436.2,473 L1433.1,470.3 L1430,469.8 L1426.9,468.7 L1423.8,469 L1420.8,468.8 L1417.7,467.7 L1414.6,469 L1411.5,466.8 L1408.4,466.9 L1405.3,467.2 L1402.2,466.5 L1399.2,465 L1396.1,465.3 L1393,464.1Z" fill="#eef2d2"/>
<path d="M1435.9,456.2 C1450.9,457.4 1462.7,461.9 1476.2,468.3 C1461.2,466.9 1449.2,463 1435.9,456.2Z" fill="#0d4d2c"/>
<path d="M1443.8,464.9 C1451.7,465.2 1457.4,468 1463.3,473 C1455.6,472.4 1449.6,470.2 1443.8,464.9Z" fill="#0d4d2c"/>
<path d="M1425.4,462.7 C1433.1,458 1439.3,462 1446.7,463.7 C1439.1,467.9 1432.8,464.7 1425.4,462.7Z" fill="#121212"/>
<path d="M1421.5,462.8 C1434.5,462.6 1445,465.8 1456.9,470.6 C1443.9,470.5 1433.4,467.9 1421.5,462.8Z" fill="#0a3a22"/>
<path d="M1396.3,456.7 C1409.4,453.8 1420.3,457.3 1433.2,458.9 C1420.1,461.5 1409.1,458.6 1396.3,456.7Z" fill="#0f5e36"/>
<path d="M1432.1,466.8 C1438.4,460.9 1444.7,464.5 1451.6,464.6 C1445.3,470.2 1439.1,467.3 1432.1,466.8Z" fill="#141a16"/>
<path d="M1411.9,465.9 C1419.4,461.4 1425.9,462 1433.7,465.2 C1426.2,469.3 1419.6,469.6 1411.9,465.9Z" fill="#0d4d2c"/>
<path d="M1403.1,461.9 C1412.5,460.3 1418.8,464.9 1426.7,468.6 C1417.4,469.9 1410.9,465.9 1403.1,461.9Z" fill="#0f0f0f"/>
<path d="M1414,462.2 C1420.3,456.8 1426.1,461 1432.6,461.6 C1426.3,466.6 1420.6,463.1 1414,462.2Z" fill="#0f0f0f"/>
<path d="M1425.1,467 C1432.4,464.7 1437.6,468.1 1444.1,470.5 C1436.8,472.5 1431.5,469.7 1425.1,467Z" fill="#0f5e36"/>
<path d="M1430.3,463.3 C1445,462.6 1456.5,466.9 1469.9,471.9 C1455.3,472.3 1443.7,468.7 1430.3,463.3Z" fill="#141a16"/>
<path d="M1406.8,466.4 C1417.1,463.7 1425.9,463.2 1436.2,466.3 C1425.9,468.6 1417.1,469.9 1406.8,466.4Z" fill="#0a3a22"/>
<path d="M1407.8,465.1 C1415.2,460.6 1420.1,465.8 1426.5,468 C1419.1,472.1 1414.1,467.7 1407.8,465.1Z" fill="#141a16"/>
<path d="M1395.6,462.7 C1405.6,459.4 1411.8,465.7 1420.1,469.1 C1410.2,472 1403.7,466.6 1395.6,462.7Z" fill="#141a16"/>
<path d="M1440.1,462.6 C1448.4,459.9 1455.2,460.2 1462.7,465.1 C1454.4,467.3 1447.5,468 1440.1,462.6Z" fill="#0f5e36"/>
<path d="M1396.6,456.3 C1403.6,452.9 1407.9,457.7 1413.6,460 C1406.7,463 1402.2,459 1396.6,456.3Z" fill="#0f0f0f"/>
<path d="M1409.4,458.6 C1425.3,455.9 1438,459.8 1452.8,464.6 C1437,466.8 1424.2,463.8 1409.4,458.6Z" fill="#a8dc30"/>
<path d="M1424.5,455.4 C1437.7,456.3 1446.6,463.2 1458.2,468.3 C1445.1,467.2 1436,460.8 1424.5,455.4Z" fill="#fbfbf7"/>
<path d="M1394.4,468.7 C1408.9,465.6 1421.5,463.4 1436.4,465.8 C1421.8,468.5 1409.4,471.4 1394.4,468.7Z" fill="#121212"/>
<path d="M1434.7,454.5 C1449,454.4 1457.9,462.3 1469.2,469 C1455.2,468.6 1445.9,461.6 1434.7,454.5Z" fill="#0f5e36"/>
<path d="M1421,465.5 C1436.1,466.9 1448.5,470.1 1462.1,477 C1447.1,475.3 1434.5,472.7 1421,465.5Z" fill="#0c0c0c"/>
<path d="M1387.7,452.7 C1402.2,454 1411.5,462.3 1424.1,468 C1409.8,466.5 1400.2,458.7 1387.7,452.7Z" fill="#0d4d2c"/>
<path d="M1423.9,464 C1438.2,463.4 1449.3,467.1 1461.5,474.1 C1447.3,474.3 1436,471.5 1423.9,464Z" fill="#0f0f0f"/>
<path d="M1391.8,460.4 C1403.3,457.5 1413.2,457.9 1424.7,460.8 C1413.2,463.4 1403.3,463.8 1391.8,460.4Z" fill="#121212"/>
<path d="M1426.1,464.9 C1439.5,464 1450.4,466.9 1462.7,471.7 C1449.4,472.1 1438.4,470 1426.1,464.9Z" fill="#0a3a22"/>
<path d="M1415.4,460.3 C1424.9,456.7 1433.2,455.7 1443.2,457.7 C1433.7,460.9 1425.4,462.6 1415.4,460.3Z" fill="#e8f27a"/>
<path d="M1417.2,463.2 C1431.2,460.6 1443.1,461.3 1457,464 C1443,466.3 1431.1,466.2 1417.2,463.2Z" fill="#121212"/>
<path d="M1418,466 C1424.7,464.6 1430,465.4 1434.6,471 C1428,471.9 1422.5,472 1418,466Z" fill="#121212"/>
<path d="M1449.3,467 C1458.8,465.4 1465.3,469.7 1473,473.9 C1463.7,475.1 1457,471.5 1449.3,467Z" fill="#a8dc30"/>
<path d="M1454.3,469.7 C1461.5,468.3 1465.1,473.4 1470.4,476.5 C1463.3,477.6 1459.5,473.1 1454.3,469.7Z" fill="#e8f27a"/>
<path d="M1410.3,467.3 C1416.3,463.8 1421.3,465.7 1427.2,467.6 C1421.2,470.7 1416.2,469.4 1410.3,467.3Z" fill="#fbfbf7"/>
<path d="M1404.4,454.9 C1418.3,457.4 1428,464.7 1440.3,471 C1426.4,468.3 1416.5,461.5 1404.4,454.9Z" fill="#0d4d2c"/>
<path d="M1426.3,457.2 C1439.7,453.4 1449.5,459.6 1461.4,463.9 C1448,467.2 1438.1,462 1426.3,457.2Z" fill="#e8f27a"/>
<path d="M1447.7,471 C1454.6,465.3 1460.7,468.6 1467.7,470.7 C1460.8,475.9 1454.8,473.5 1447.7,471Z" fill="#141a16"/>
<path d="M1404,468.7 C1414.9,463.2 1424.4,466.3 1435.5,467.7 C1424.6,472.8 1415.1,470.6 1404,468.7Z" fill="#0c0c0c"/>
<path d="M1423.7,462 C1431.3,460.4 1435.4,465.3 1441,468.9 C1433.4,470.2 1429.1,465.9 1423.7,462Z" fill="#e8f27a"/>
<path d="M1392,460.6 C1398.8,458 1404.6,457.4 1411.5,459.8 C1404.8,462 1399,463.3 1392,460.6Z" fill="#0c0c0c"/>
<path d="M1427.1,464.5 C1439.5,461.7 1447.6,468.3 1457.7,473.3 C1445.5,475.6 1437.1,470 1427.1,464.5Z" fill="#a8dc30"/>
<path d="M1386,457.9 C1397.4,453.5 1406.6,458 1417.5,460.2 C1406.1,464.2 1396.9,460.5 1386,457.9Z" fill="#0c0c0c"/>
<path d="M1386.4,461.6 C1392.7,457.3 1398.4,460.5 1404.8,460.5 C1398.6,464.6 1392.9,461.9 1386.4,461.6Z" fill="#141a16"/>
<path d="M1425.2,462.3 C1432.1,460.9 1437,462.6 1441.8,467.8 C1435,468.8 1429.8,467.9 1425.2,462.3Z" fill="#0a3a22"/>
<path d="M1445.5,476.8 C1454.4,473.7 1462.1,471.8 1471.6,474.7 C1462.6,477.5 1455,480.2 1445.5,476.8Z" fill="#121212"/>
<path d="M1296,649.4 L1302.8,648.8 L1309.7,648.6 L1316.5,646.7 L1323.3,646 L1330.2,646.8 L1337,646.2 L1343.8,647.5 L1350.7,647.4 L1357.5,647.5 L1364.3,647.7 L1371.2,648.4 L1378,647.2 L1384.8,648.5 L1391.7,648 L1398.5,650.6 L1405.3,648.3 L1412.2,650.8 L1419,648.8 L1425.8,650.8 L1432.7,649.9 L1439.5,650.3 L1446.3,651.9 L1453.2,649.6 L1460,649.9 L1460,669.5 L1453.2,671 L1446.3,672.4 L1439.5,669.9 L1432.7,670.2 L1425.8,672.9 L1419,672.2 L1412.2,673.2 L1405.3,672.9 L1398.5,672.1 L1391.7,673.3 L1384.8,671.6 L1378,673.4 L1371.2,672.9 L1364.3,670.8 L1357.5,671.9 L1350.7,671.8 L1343.8,671.1 L1337,671.3 L1330.2,671.4 L1323.3,672.4 L1316.5,670.2 L1309.7,669.3 L1302.8,669.1 L1296,667.3Z" fill="#eef2d2"/>
<path d="M1389.5,663.6 C1396.8,661.9 1402.4,662.7 1407.2,669 C1400,670.2 1394.2,670.4 1389.5,663.6Z" fill="#fbfbf7"/>
<path d="M1402.6,656.5 C1413.3,651 1422.7,652.2 1433.8,655.1 C1423.1,660.1 1413.7,660 1402.6,656.5Z" fill="#0a3a22"/>
<path d="M1396,675.1 C1406.9,667.5 1417.9,668.8 1430.3,667.6 C1419.2,674.7 1408.4,674.3 1396,675.1Z" fill="#121212"/>
<path d="M1431.2,672.4 C1443.7,666.4 1455.1,665.2 1468.6,665 C1456.1,670.6 1444.9,672.6 1431.2,672.4Z" fill="#f4f6ea"/>
<path d="M1402.9,664.3 C1416.1,654.3 1429.9,656.1 1445.1,654.2 C1431.7,663.7 1418.2,662.8 1402.9,664.3Z" fill="#0d4d2c"/>
<path d="M1390.1,660.4 C1402.1,653.1 1413,657.3 1425.4,658.5 C1413.4,665.2 1402.6,662.1 1390.1,660.4Z" fill="#141a16"/>
<path d="M1311.2,664 C1320.9,658.5 1330.1,659.6 1340.7,659.9 C1330.9,665 1321.8,664.6 1311.2,664Z" fill="#0f0f0f"/>
<path d="M1314.3,651.7 C1323.6,647.4 1330.7,652 1339.2,654.6 C1329.9,658.4 1322.8,654.6 1314.3,651.7Z" fill="#121212"/>
<path d="M1432.7,655.8 C1440.1,649.1 1447.4,651.4 1455.9,653.1 C1448.4,659.2 1441.2,658 1432.7,655.8Z" fill="#fbfbf7"/>
<path d="M1411.7,659.9 C1422.7,657.4 1431.9,657.8 1442.3,662.3 C1431.4,664.4 1422.1,664.9 1411.7,659.9Z" fill="#0a3a22"/>
<path d="M1423.4,662.1 C1435.4,655.6 1446.5,653.3 1460,652.7 C1447.9,658.9 1437,661.9 1423.4,662.1Z" fill="#fbfbf7"/>
<path d="M1377.2,652.6 C1391.1,646.2 1403.6,649.4 1418,650 C1404,656 1391.6,653.6 1377.2,652.6Z" fill="#0f5e36"/>
<path d="M1309.9,656.1 C1316.1,651.6 1321.8,650.8 1329.1,652.6 C1322.9,656.6 1317.3,658.2 1309.9,656.1Z" fill="#0d4d2c"/>
<path d="M1405.1,655.7 C1418.3,651.8 1429.5,653.7 1442.5,656.4 C1429.3,659.9 1418.1,658.8 1405.1,655.7Z" fill="#c6e83c"/>
<path d="M1420,657.7 C1425.3,651.9 1431.5,653.7 1438,653.3 C1432.7,658.7 1426.7,657.6 1420,657.7Z" fill="#121212"/>
<path d="M1378,665.9 C1391.7,665.4 1401.8,671.1 1414.2,675.6 C1400.5,675.8 1390.3,670.7 1378,665.9Z" fill="#d8ee58"/>
<path d="M1337.6,652.5 C1353.1,648.3 1365.5,652.7 1380.2,656.8 C1364.7,660.4 1352.2,657.1 1337.6,652.5Z" fill="#0f0f0f"/>
<path d="M1357.5,651.8 C1363,647.9 1367.9,648.5 1373.7,651 C1368.2,654.5 1363.3,654.7 1357.5,651.8Z" fill="#0a3a22"/>
<path d="M1298.4,666.6 C1307.8,659.8 1317.1,659.5 1328,659.5 C1318.6,665.9 1309.5,667.1 1298.4,666.6Z" fill="#141a16"/>
<path d="M1417.8,658.9 C1431.9,657.3 1443.7,658.9 1457.4,662 C1443.3,663.3 1431.5,662.2 1417.8,658.9Z" fill="#141a16"/>
<path d="M1312,657.7 C1322.7,653.5 1331.6,656 1342,659.1 C1331.3,662.8 1322.4,661.2 1312,657.7Z" fill="#d8ee58"/>
<path d="M1417.6,664.9 C1425.1,661.6 1431.5,662.7 1438.9,664.8 C1431.5,667.7 1425.1,667.3 1417.6,664.9Z" fill="#121212"/>
<path d="M1343.5,663.8 C1355.1,660.1 1364.5,664.3 1375.7,666.2 C1364.1,669.6 1354.7,666.1 1343.5,663.8Z" fill="#0a3a22"/>
<path d="M1299.6,659.1 C1305.1,656 1310,654.9 1316.2,656.1 C1310.7,658.9 1305.9,660.5 1299.6,659.1Z" fill="#c6e83c"/>
<path d="M1382.1,665.3 C1392.2,661 1400.5,664.3 1410.3,666.4 C1400.3,670.3 1391.9,667.8 1382.1,665.3Z" fill="#0f0f0f"/>
<path d="M1399.6,668.4 C1409.1,663.4 1418,663.6 1428.3,664.2 C1418.7,669 1410,669.4 1399.6,668.4Z" fill="#0a3a22"/>
<path d="M1416.2,658.7 C1428.1,654.6 1438.4,653.6 1450.6,656.8 C1438.7,660.5 1428.5,662.5 1416.2,658.7Z" fill="#0c0c0c"/>
<path d="M1314.8,664.5 C1324.6,658.4 1333.9,661.4 1344.3,661.5 C1334.5,667.2 1325.3,664.9 1314.8,664.5Z" fill="#0f0f0f"/>
<path d="M1377.6,655.4 C1390.3,654.3 1399.3,659.6 1410,665.2 C1397.4,665.9 1388.1,661.5 1377.6,655.4Z" fill="#0d4d2c"/>
<path d="M1427.4,661.6 C1434.8,658.8 1440.4,660.5 1446.7,664.7 C1439.4,667.1 1433.6,666.2 1427.4,661.6Z" fill="#0f5e36"/>
<path d="M1367.1,669.5 C1381,666.5 1392.8,668.4 1406.7,670 C1392.8,672.7 1380.9,671.3 1367.1,669.5Z" fill="#a8dc30"/>
<path d="M1359.9,664.1 C1371.3,660.2 1379.7,665.5 1390,668.7 C1378.7,672.1 1370.2,667.7 1359.9,664.1Z" fill="#e8f27a"/>
<path d="M1320.1,653.8 C1335.4,651.2 1347,657.5 1361.2,660.6 C1346.1,662.8 1334.3,657.2 1320.1,653.8Z" fill="#d8ee58"/>
<path d="M1327.5,646.3 C1342.2,644.8 1354.1,648 1367.5,653.6 C1352.8,654.6 1340.9,652.3 1327.5,646.3Z" fill="#0d4d2c"/>
<path d="M1372.1,665.6 C1382.6,663.4 1390.5,667.4 1399.7,671.5 C1389.2,673.3 1381.2,670.1 1372.1,665.6Z" fill="#e8f27a"/>
<path d="M1362.5,672.7 C1371.7,665 1381,667.7 1391.5,668.4 C1382.2,675.5 1373.1,673.9 1362.5,672.7Z" fill="#fbfbf7"/>
<path d="M1328.4,659.5 C1340.9,653.9 1352.1,651.9 1365.6,652 C1353.1,657.3 1342.1,659.9 1328.4,659.5Z" fill="#121212"/>
<path d="M1385.1,666.1 C1396,662.6 1405.2,662.7 1415.6,667.6 C1404.8,670.7 1395.6,671.6 1385.1,666.1Z" fill="#0a3a22"/>
<path d="M1389,664.7 C1395.7,660.7 1401.2,661.3 1407.4,665.7 C1400.8,669.2 1395.2,669.6 1389,664.7Z" fill="#0d4d2c"/>
<path d="M1424.1,654.1 C1431.4,649.1 1437.8,652.5 1445.1,653.6 C1437.9,658.2 1431.5,655.5 1424.1,654.1Z" fill="#121212"/>
<path d="M1335.8,658.1 C1344.9,651.8 1354,653.4 1364.2,652.8 C1355,658.7 1346,657.8 1335.8,658.1Z" fill="#0f0f0f"/>
<path d="M1386.6,667.6 C1395.4,666.2 1400.9,671.3 1408.4,674.3 C1399.7,675.4 1393.9,670.8 1386.6,667.6Z" fill="#fbfbf7"/>
<path d="M1381.4,652.7 C1389.1,647.3 1395,651.8 1402,654.4 C1394.4,659.2 1388.4,655.8 1381.4,652.7Z" fill="#0a3a22"/>
<path d="M1449.6,664.7 C1454.7,657.9 1460.5,660.1 1467.1,661.4 C1461.9,667.6 1456.3,666.5 1449.6,664.7Z" fill="#f4f6ea"/>
<path d="M1337.1,651.9 C1351.7,650.1 1362.4,655.7 1375.2,661.2 C1360.7,662.6 1349.8,657.9 1337.1,651.9Z" fill="#f4f6ea"/>
<path d="M1323.7,658.6 C1335.7,654.2 1346.4,653.5 1359.1,655 C1347,659 1336.4,660.5 1323.7,658.6Z" fill="#121212"/>
<path d="M1392.4,669.3 C1398.3,669.6 1403.3,669.6 1407.9,674 C1402.2,673.5 1396.9,674 1392.4,669.3Z" fill="#0c0c0c"/>
<path d="M1426.9,663.9 C1439.6,661.1 1450,663.1 1462,666.9 C1449.5,669.3 1439,668.1 1426.9,663.9Z" fill="#c6e83c"/>
<path d="M1314.5,653.4 C1326.6,650 1335.4,655.3 1346,659.4 C1334,662.3 1325.1,657.9 1314.5,653.4Z" fill="#0c0c0c"/>
<path d="M1294.5,668.8 C1302.5,664 1309.8,663.5 1318.7,666 C1310.6,670.4 1303.4,671.8 1294.5,668.8Z" fill="#0f0f0f"/>
<path d="M1439.5,655.7 C1446.6,652.1 1452.5,652 1459.4,656.3 C1452.4,659.4 1446.3,660.5 1439.5,655.7Z" fill="#d8ee58"/>
<path d="M1301.6,645.3 C1316.9,645.4 1329.8,646.8 1344.6,651.1 C1329.3,650.7 1316.3,649.8 1301.6,645.3Z" fill="#0f0f0f"/>
<path d="M1345.1,662.9 C1360.6,662.9 1373.5,665.4 1388.1,670.5 C1372.7,670.2 1359.7,668.3 1345.1,662.9Z" fill="#141a16"/>
<path d="M1401.9,657 C1415.4,656.2 1426.7,657.6 1439.7,661.2 C1426.2,661.6 1414.9,660.9 1401.9,657Z" fill="#a8dc30"/>
<path d="M1411,670 C1420.9,666.7 1428.9,670.1 1438.5,671.8 C1428.6,674.9 1420.5,672.1 1411,670Z" fill="#141a16"/>
<path d="M1401.5,667.7 C1407.1,662.1 1412.7,661 1420.1,663.9 C1414.3,668.9 1408.9,671.1 1401.5,667.7Z" fill="#a8dc30"/>
<path d="M1311.2,655.4 C1326.3,652 1337.8,658.3 1351.8,661.8 C1336.8,664.8 1325.2,659.3 1311.2,655.4Z" fill="#0d4d2c"/>
<path d="M1418.6,655.4 C1429.8,649.7 1440,651.1 1451.8,652.3 C1440.5,657.6 1430.4,657 1418.6,655.4Z" fill="#e8f27a"/>
<path d="M1449.2,665.3 C1454.8,660.1 1460.4,663.7 1466.4,663.9 C1460.8,668.8 1455.3,665.8 1449.2,665.3Z" fill="#141a16"/>
<path d="M1434.4,666.7 C1445.9,661.9 1455.9,661.8 1467.8,665.2 C1456.3,669.5 1446.3,670.7 1434.4,666.7Z" fill="#0d4d2c"/>
<path d="M1421.2,662 C1433.1,657.4 1443.8,656.7 1456.3,656.9 C1444.4,661.1 1433.8,662.4 1421.2,662Z" fill="#0c0c0c"/>
<path d="M1307.2,664.3 C1320.6,661.7 1330.7,667.8 1343.2,670.6 C1329.8,672.9 1319.6,667.5 1307.2,664.3Z" fill="#141a16"/>
<path d="M1314.1,652.1 C1325.1,652 1334.4,652.5 1344.7,656.8 C1333.7,656.7 1324.3,656.7 1314.1,652.1Z" fill="#c6e83c"/>
<path d="M1327.9,667.5 C1337.6,666.3 1345.6,666.9 1354.1,672.1 C1344.5,672.9 1336.4,673.1 1327.9,667.5Z" fill="#d8ee58"/>
<path d="M1314.5,650.2 C1323.2,649.9 1330.8,648.9 1339,652.9 C1330.3,652.8 1322.7,654.4 1314.5,650.2Z" fill="#121212"/>
<path d="M1356.7,648 C1366.5,646.7 1373.7,650.6 1382.3,654 C1372.6,655.1 1365.3,651.8 1356.7,648Z" fill="#a8dc30"/>
<path d="M1314.6,659.9 C1324.7,655.7 1333.6,657.6 1344,658.3 C1333.9,662.1 1325,660.8 1314.6,659.9Z" fill="#121212"/>
<path d="M1311.1,656.2 C1316.1,651.6 1320.9,650.6 1327.1,653.4 C1322.1,657.5 1317.5,659.4 1311.1,656.2Z" fill="#0a3a22"/>
<path d="M1409.2,652.4 C1419.1,648.3 1427.4,651.4 1437.2,653.2 C1427.3,656.9 1418.9,654.6 1409.2,652.4Z" fill="#0a3a22"/>
<path d="M1425.9,664.1 C1439.1,659.3 1450.8,661.1 1464.3,661.7 C1451.1,666.2 1439.5,665.1 1425.9,664.1Z" fill="#a8dc30"/>
<path d="M1347.1,666 C1355.4,663.1 1362,663.7 1369.1,669.2 C1360.9,671.6 1354.1,672.1 1347.1,666Z" fill="#0f5e36"/>
<path d="M1372.4,647.7 C1381.6,643.9 1387.7,648.4 1395,652.9 C1385.9,656.2 1379.6,652.7 1372.4,647.7Z" fill="#e8f27a"/>
<path d="M1352.1,663.3 C1366.6,661.9 1378.4,664.5 1391.7,670 C1377.2,671 1365.3,669.2 1352.1,663.3Z" fill="#0c0c0c"/>
<path d="M1347.7,662.1 C1361.7,656.1 1374.5,654.8 1389.5,653.6 C1375.4,659.3 1362.8,661.2 1347.7,662.1Z" fill="#c6e83c"/>
<path d="M1383.8,661.3 C1394.8,655.1 1404.7,657.4 1416.2,659 C1405.2,664.7 1395.4,663.3 1383.8,661.3Z" fill="#141a16"/>
<path d="M1290.4,649.9 C1303.4,645.3 1314.5,646.1 1327.5,649.8 C1314.6,653.9 1303.4,654.1 1290.4,649.9Z" fill="#0f0f0f"/>
<path d="M1289.5,669.9 C1302.2,664.5 1313.6,665.4 1327,666.6 C1314.2,671.6 1302.8,671.5 1289.5,669.9Z" fill="#121212"/>
<path d="M1371,665.4 C1382.8,660.4 1393.2,660.4 1405.5,663.8 C1393.6,668.3 1383.3,669.4 1371,665.4Z" fill="#fbfbf7"/>
<path d="M1358.6,662.5 C1373.5,658.1 1386.4,655 1402.1,656.2 C1387.1,660.2 1374.4,664.1 1358.6,662.5Z" fill="#121212"/>
<path d="M1374.2,646.4 C1389.5,648.1 1401.7,652.7 1415.6,659 C1400.4,657 1388,653 1374.2,646.4Z" fill="#121212"/>
<path d="M1397.8,667.5 C1405.9,661.6 1414,662.1 1423.2,661.9 C1415.1,667.4 1407.2,667.6 1397.8,667.5Z" fill="#0f0f0f"/>
<path d="M1443.9,667.2 C1451.4,664.4 1457.4,666.6 1464.3,669.1 C1456.9,671.6 1450.8,670.1 1443.9,667.2Z" fill="#0c0c0c"/>
<path d="M1366.3,667.5 C1376.2,663.9 1382.9,669.1 1391.3,672.9 C1381.4,676.1 1374.5,671.8 1366.3,667.5Z" fill="#141a16"/>
<path d="M1315.3,660.2 C1322.4,657.5 1328.2,658.1 1334.5,662.5 C1327.4,664.7 1321.5,665 1315.3,660.2Z" fill="#f4f6ea"/>
<path d="M1313.4,662.1 C1326.4,658 1337,662.9 1349.5,664.4 C1336.6,668.1 1326,663.9 1313.4,662.1Z" fill="#121212"/>
<path d="M1350.3,658.4 C1357.4,655.1 1363.2,655.6 1369.6,660.2 C1362.5,663 1356.6,663.5 1350.3,658.4Z" fill="#d8ee58"/>
<path d="M1431.5,672.8 C1444.5,665.7 1456.6,663.4 1471.1,661.9 C1458.1,668.6 1446.1,671.6 1431.5,672.8Z" fill="#0d4d2c"/>
<path d="M1438.3,664.3 C1450.1,662.1 1460.1,661.2 1471.8,664.6 C1460.1,666.5 1450,668.1 1438.3,664.3Z" fill="#0d4d2c"/>
<path d="M1291,672.4 C1303.3,664.6 1314.7,661.2 1329.3,661.3 C1316.8,668.6 1305.7,673 1291,672.4Z" fill="#141a16"/>
<path d="M1360.8,661.4 C1376.3,655.8 1389,661 1404,663.6 C1388.6,668.7 1375.8,664.5 1360.8,661.4Z" fill="#0f0f0f"/>
<path d="M1375.7,671.6 C1385,663.8 1394.6,664.7 1405.6,665.2 C1396.2,672.4 1386.9,672.6 1375.7,671.6Z" fill="#0d4d2c"/>
<path d="M1369.3,667.3 C1381,666.4 1389.9,670.1 1400,675.6 C1388.3,676 1379.2,673.1 1369.3,667.3Z" fill="#141a16"/>
<path d="M1411.5,668.2 C1423.2,661.2 1434.3,663.5 1446.9,664 C1435.1,670.5 1424.2,669.1 1411.5,668.2Z" fill="#f4f6ea"/>
<path d="M1321.5,652.5 C1331.1,648.2 1339.3,644.8 1350.1,645.5 C1340.5,649.4 1332.3,653.4 1321.5,652.5Z" fill="#141a16"/>
<path d="M1399.9,666.1 C1412.4,658 1425.1,657.9 1439.1,654.9 C1426.5,662.7 1414,663.4 1399.9,666.1Z" fill="#0c0c0c"/>
<path d="M1393,637.2 L1396.1,638.5 L1399.2,637.9 L1402.2,638.3 L1405.3,635.9 L1408.4,635.4 L1411.5,636.3 L1414.6,635.7 L1417.7,634.2 L1420.8,634.9 L1423.8,633.5 L1426.9,634.2 L1430,631.8 L1433.1,631.7 L1436.2,633.3 L1439.2,631.2 L1442.3,630.3 L1445.4,631.3 L1448.5,630.1 L1451.6,628 L1454.7,628.6 L1457.8,628.3 L1460.8,626.1 L1463.9,626.9 L1467,624.7 L1467,640.6 L1463.9,641.9 L1460.8,642 L1457.8,640.1 L1454.7,642.3 L1451.6,641 L1448.5,643.1 L1445.4,643.1 L1442.3,642.8 L1439.2,643.8 L1436.2,646 L1433.1,645 L1430,645.3 L1426.9,647.1 L1423.8,647.9 L1420.8,646 L1417.7,647.5 L1414.6,649 L1411.5,648.7 L1408.4,649.8 L1405.3,648.5 L1402.2,649.9 L1399.2,651.6 L1396.1,649.9 L1393,652.5Z" fill="#eef2d2"/>
<path d="M1450.5,636.2 C1459.4,631.7 1467.2,628.5 1477.4,628.9 C1468.4,633 1460.8,636.8 1450.5,636.2Z" fill="#a8dc30"/>
<path d="M1439.5,638.9 C1444.5,633.6 1450.4,635.7 1456.5,635 C1451.3,639.9 1445.6,638.4 1439.5,638.9Z" fill="#0c0c0c"/>
<path d="M1410.1,636.7 C1422,632.5 1432.3,632.9 1444.3,636.3 C1432.4,640.1 1422.1,640.6 1410.1,636.7Z" fill="#0a3a22"/>
<path d="M1401.8,649.3 C1407.9,644.8 1413.7,643.3 1421.2,643.7 C1415,647.9 1409.4,650 1401.8,649.3Z" fill="#0f5e36"/>
<path d="M1387.1,651.1 C1399,643.3 1411,641.6 1424.5,638.2 C1412.4,645.8 1400.7,648 1387.1,651.1Z" fill="#0a3a22"/>
<path d="M1414,650.1 C1422,641.2 1431.5,640.2 1442.4,638.5 C1434.3,647 1425.1,648.9 1414,650.1Z" fill="#0f5e36"/>
<path d="M1419.3,638.8 C1428.3,633.2 1436.6,630 1447.3,630 C1438.2,635.2 1430.2,639.2 1419.3,638.8Z" fill="#0f0f0f"/>
<path d="M1397.1,652.1 C1402.9,644.9 1410.7,646.2 1418.4,644.1 C1412.5,651 1404.9,650.3 1397.1,652.1Z" fill="#0a3a22"/>
<path d="M1396.1,638.8 C1404.8,634.5 1412.1,635.2 1420.7,639.2 C1412,642.9 1404.7,643.2 1396.1,638.8Z" fill="#141a16"/>
<path d="M1452.3,638.7 C1460.3,632.8 1467,636.3 1474.8,639.1 C1466.8,644.4 1460.1,641.9 1452.3,638.7Z" fill="#0d4d2c"/>
<path d="M1409,645.7 C1421.9,638 1433.6,633.3 1448.4,630.7 C1435.4,638.1 1423.9,643.4 1409,645.7Z" fill="#a8dc30"/>
<path d="M1441.1,629.1 C1454.5,623.8 1466.4,626 1480.2,626.7 C1466.8,631.6 1454.9,630.2 1441.1,629.1Z" fill="#0d4d2c"/>
<path d="M1447.9,632.7 C1453.8,628.4 1459.1,626.8 1465.9,630.4 C1460,634.1 1454.8,636.7 1447.9,632.7Z" fill="#0f5e36"/>
<path d="M1417.1,634 C1430.1,632.3 1441.1,633.9 1453.8,636.7 C1440.8,638.2 1429.8,637.1 1417.1,634Z" fill="#0d4d2c"/>
<path d="M1420,645 C1424.2,638.6 1429.5,637.3 1436.7,638 C1432.3,643.9 1427.4,646.2 1420,645Z" fill="#141a16"/>
<path d="M1432.6,640.7 C1444.3,639.5 1454.1,639.4 1465.3,643.5 C1453.7,644.4 1443.8,645 1432.6,640.7Z" fill="#f4f6ea"/>
<path d="M1395.9,646.4 C1407.9,640.7 1418.5,637.3 1432,638 C1419.9,643.3 1409.5,647.5 1395.9,646.4Z" fill="#121212"/>
<path d="M1408.1,645 C1421.6,637.8 1434.1,639.6 1448.5,640.4 C1435,647.2 1422.6,646.4 1408.1,645Z" fill="#f4f6ea"/>
<path d="M1430.6,637.3 C1437.5,629.7 1445.1,633.5 1453.2,633.8 C1446.2,640.9 1438.8,638.1 1430.6,637.3Z" fill="#c6e83c"/>
<path d="M1388.7,639.4 C1400.5,636.5 1409.7,641.4 1420.9,643.5 C1409.2,646.1 1399.9,641.8 1388.7,639.4Z" fill="#0c0c0c"/>
<path d="M1424.2,639 C1430.1,635.2 1435,639.1 1440.9,639.4 C1434.9,643 1430,639.6 1424.2,639Z" fill="#c6e83c"/>
<path d="M1432.8,642.5 C1446.4,636.5 1458.8,638.1 1473,637.3 C1459.5,643 1447.1,641.9 1432.8,642.5Z" fill="#fbfbf7"/>
<path d="M1407.5,642.7 C1413.9,637.6 1420.3,638 1427.8,638.7 C1421.3,643.4 1415.1,643.7 1407.5,642.7Z" fill="#fbfbf7"/>
<path d="M1404.4,638.1 C1414.5,633.5 1423.5,632.9 1434.2,636 C1424,640.2 1415.1,641.8 1404.4,638.1Z" fill="#141a16"/>
<path d="M1429.6,640.9 C1436.5,634.5 1444.5,635.3 1452.9,633.6 C1445.9,639.7 1438.1,639.6 1429.6,640.9Z" fill="#0c0c0c"/>
<path d="M1437.8,635.2 C1443.5,631.3 1448.5,628.5 1455.8,629.4 C1450,633 1445.2,636.4 1437.8,635.2Z" fill="#0f5e36"/>
<path d="M1388,644.1 C1396.2,637.2 1404.5,634.3 1414.9,632.4 C1406.5,639 1398.5,642.6 1388,644.1Z" fill="#0f0f0f"/>
<path d="M1454.6,638 C1462.4,632.8 1469.7,634.7 1478.1,635.6 C1470.3,640.5 1463.1,639.3 1454.6,638Z" fill="#0d4d2c"/>
<path d="M1405.7,639.9 C1411.3,638 1416.1,635.7 1422.2,638.4 C1416.5,639.9 1411.8,642.8 1405.7,639.9Z" fill="#0f5e36"/>
<path d="M1408.1,637.3 C1419,634.8 1428,635.3 1438.1,640.7 C1427.2,642.7 1418.1,643.2 1408.1,637.3Z" fill="#141a16"/>
<path d="M1397.1,651.3 C1404,644.1 1410.9,640.1 1421.2,640.7 C1414,647.4 1407.6,652.3 1397.1,651.3Z" fill="#0c0c0c"/>
<path d="M1453.8,631.9 C1459.3,624.2 1466.4,623.9 1474.8,623.6 C1469.2,630.9 1462.4,632.1 1453.8,631.9Z" fill="#0f5e36"/>
<path d="M1398.8,640.7 C1411.2,637.2 1421.8,634.6 1434.8,636.7 C1422.4,639.9 1411.8,643.2 1398.8,640.7Z" fill="#fbfbf7"/>
<path d="M1424.2,635.7 C1436.7,633.1 1447.4,630.4 1460.4,632.6 C1447.8,634.9 1437.2,638.2 1424.2,635.7Z" fill="#0f0f0f"/>
<path d="M1437.7,633.4 C1445.7,630.8 1452.5,627.8 1461.2,629.5 C1453.1,631.8 1446.4,635.3 1437.7,633.4Z" fill="#0d4d2c"/>
<path d="M1429.8,641.5 C1438.7,637.4 1446.1,640.3 1454.7,642.6 C1445.8,646.3 1438.4,644.2 1429.8,641.5Z" fill="#0f5e36"/>
<path d="M1422.5,645.5 C1435.9,639.4 1448.3,641.3 1462.3,639.7 C1448.9,645.5 1436.5,644.1 1422.5,645.5Z" fill="#141a16"/>
<path d="M1447.5,627.4 C1456.6,624.1 1464.2,624.8 1472.8,628.9 C1463.8,631.8 1456.2,631.9 1447.5,627.4Z" fill="#141a16"/>
<path d="M1429.1,634.1 C1435.3,629.8 1441.2,628.9 1448.5,630.4 C1442.2,634.3 1436.5,636 1429.1,634.1Z" fill="#f4f6ea"/>
<path d="M1396.1,641.1 C1407.5,634.1 1418.6,634.1 1431.3,633.1 C1419.9,639.8 1408.9,640.5 1396.1,641.1Z" fill="#0a3a22"/>
<path d="M1429.1,641 C1439.6,635.3 1449.1,632.8 1461.2,634.7 C1450.5,640 1441.2,643.5 1429.1,641Z" fill="#fbfbf7"/>
<path d="M1385.9,648.2 C1395,640.4 1404.4,642.2 1415,642.7 C1405.9,649.9 1396.7,649.2 1385.9,648.2Z" fill="#c6e83c"/>
<path d="M1278,456.7 C1279,449.1 1283.8,446.2 1290,443.3 C1288.7,450.6 1284.6,454.1 1278,456.7Z" fill="#0d4d2c"/>
<path d="M1275.4,467.5 C1273.6,461.5 1276.5,458.1 1280.6,454.5 C1282,460.4 1279.9,464 1275.4,467.5Z" fill="#101010"/>
<path d="M1282.2,448.5 C1285.4,441.5 1290.9,440.2 1297.8,439.5 C1294.4,446.1 1289.3,448.2 1282.2,448.5Z" fill="#101010"/>
<path d="M1282.8,463.1 C1281.9,457.6 1284.9,455.2 1289.2,452.9 C1289.8,458.2 1287.4,461 1282.8,463.1Z" fill="#c6e83c"/>
<path d="M1289.4,465.9 C1290.2,460.3 1293.8,459 1298.6,458.1 C1297.5,463.4 1294.4,465.3 1289.4,465.9Z" fill="#0f5e36"/>
<path d="M1278,645.3 C1285.4,647.1 1287.8,652.2 1290,658.7 C1282.9,656.6 1279.8,652.1 1278,645.3Z" fill="#0d4d2c"/>
<path d="M1275.4,634.5 C1280.8,637.6 1281.1,642 1280.6,647.5 C1275.5,644.3 1274.5,640.1 1275.4,634.5Z" fill="#101010"/>
<path d="M1282.2,653.5 C1289.9,652.8 1293.8,656.9 1297.8,662.5 C1290.3,662.8 1286,659.5 1282.2,653.5Z" fill="#101010"/>
<path d="M1282.8,638.9 C1288.2,640.5 1289,644.3 1289.2,649.1 C1284.1,647.3 1282.7,643.9 1282.8,638.9Z" fill="#c6e83c"/>
<path d="M1289.4,636.1 C1295,636 1296.9,639.3 1298.6,643.9 C1293.2,643.7 1290.8,641 1289.4,636.1Z" fill="#0f5e36"/>
</g>
<g filter="url(#soft)">
<path d="M1375,446 C1368,452 1358,462 1353,468 C1359,520 1359,590 1353,640 C1358,646 1368,654 1373,660 C1380,652 1390,644 1397,638 C1401,590 1401,510 1397,468 C1390,462 1382,452 1375,446Z" fill="url(#org1)"/>
<polygon points="1362,478 1378,470 1374,492" fill="#f0591a" opacity="0.85"/>
<polygon points="1380,500 1394,486 1394,512" fill="#f0591a" opacity="0.85"/>
<polygon points="1364,520 1380,510 1374,536" fill="#f0591a" opacity="0.85"/>
<polygon points="1382,548 1396,536 1394,562" fill="#f0591a" opacity="0.85"/>
<polygon points="1362,566 1378,556 1376,584" fill="#f0591a" opacity="0.85"/>
<polygon points="1380,596 1396,584 1392,612" fill="#f0591a" opacity="0.85"/>
<polygon points="1362,612 1378,604 1374,630" fill="#f0591a" opacity="0.85"/>
<polygon points="1368,640 1380,630 1378,650" fill="#f0591a" opacity="0.85"/>
</g>
<g filter="url(#soft)">
<path d="M1359,663 C1369.6,662.1 1378.6,662.1 1389,665 C1378.4,665.7 1369.3,666.2 1359,663Z" fill="#101010"/>
<path d="M1367.1,670.4 C1376,668 1383.7,666.5 1392.9,667.6 C1384,669.8 1376.4,671.7 1367.1,670.4Z" fill="#0d4d2c"/>
<path d="M1358,671.6 C1366.5,670.5 1373.7,670 1382,672.4 C1373.6,673.3 1366.3,674.2 1358,671.6Z" fill="#c6e83c"/>
</g>
</g>
<g id="ball2">
<g filter="url(#soft)">
<path d="M1385.2,910.9 L1388.5,900.7 L1394.1,909.7Z M1394.1,909.7 L1398.6,900 L1403.2,909.6Z M1403.2,909.6 L1408.7,900.6 L1412.1,910.8Z M1412.1,910.8 L1418.6,902.5 L1420.9,913.1Z M1420.9,913.1 L1428.3,905.8 L1429.4,916.6Z M1429.4,916.6 L1437.7,910.2 L1437.5,921.2Z M1437.5,921.2 L1446.5,915.9 L1445.2,926.9Z M1445.2,926.9 L1454.7,922.7 L1452.2,933.5Z M1452.2,933.5 L1462.2,930.5 L1458.5,941Z M1458.5,941 L1468.9,939.2 L1464.1,949.4Z M1464.1,949.4 L1474.7,948.8 L1468.9,958.4Z M1468.9,958.4 L1479.5,959.1 L1472.7,968Z M1472.7,968 L1483.3,969.9 L1475.6,978Z M1475.6,978 L1486,981.1 L1477.5,988.4Z M1477.5,988.4 L1487.6,992.7 L1478.4,998.9Z M1478.4,998.9 L1488,1004.3 L1478.3,1009.5Z M1478.3,1009.5 L1487.3,1016 L1477.2,1020Z M1477.2,1020 L1485.4,1027.5 L1475,1030.3Z M1475,1030.3 L1482.5,1038.7 L1471.9,1040.3Z M1471.9,1040.3 L1478.5,1049.4 L1467.8,1049.8Z M1467.8,1049.8 L1473.4,1059.5 L1462.9,1058.6Z M1462.9,1058.6 L1467.4,1068.9 L1457.1,1066.8Z M1457.1,1066.8 L1460.5,1077.4 L1450.6,1074.1Z M1450.6,1074.1 L1452.9,1085 L1443.5,1080.5Z M1443.5,1080.5 L1444.5,1091.5 L1435.7,1085.9Z M1435.7,1085.9 L1435.6,1096.9 L1427.5,1090.3Z M1427.5,1090.3 L1426.1,1101.1 L1418.9,1093.5Z M1418.9,1093.5 L1416.4,1104 L1410.1,1095.6Z M1410.1,1095.6 L1406.4,1105.6 L1401.1,1096.5Z M1401.1,1096.5 L1396.3,1106 L1392.1,1096.1Z" fill="#24e0dc"/>
<ellipse cx="1399" cy="1003" rx="81.5" ry="95.5" fill="url(#teal2)"/>
<ellipse cx="1425" cy="948" rx="9" ry="7.5" fill="#1cc2aa"/>
<ellipse cx="1427.5" cy="946.5" rx="5" ry="4.2" fill="#27d4c4"/>
<ellipse cx="1452" cy="977" rx="9" ry="7.5" fill="#1cc2aa"/>
<ellipse cx="1454.5" cy="975.5" rx="5" ry="4.2" fill="#27d4c4"/>
<ellipse cx="1430" cy="1003" rx="9" ry="7.5" fill="#1cc2aa"/>
<ellipse cx="1432.5" cy="1001.5" rx="5" ry="4.2" fill="#27d4c4"/>
<ellipse cx="1470" cy="1002" rx="9" ry="7.5" fill="#1cc2aa"/>
<ellipse cx="1472.5" cy="1000.5" rx="5" ry="4.2" fill="#27d4c4"/>
<ellipse cx="1454" cy="1031" rx="9" ry="7.5" fill="#1cc2aa"/>
<ellipse cx="1456.5" cy="1029.5" rx="5" ry="4.2" fill="#27d4c4"/>
<ellipse cx="1427" cy="1058" rx="9" ry="7.5" fill="#1cc2aa"/>
<ellipse cx="1429.5" cy="1056.5" rx="5" ry="4.2" fill="#27d4c4"/>
<ellipse cx="1460" cy="1050" rx="9" ry="7.5" fill="#1cc2aa"/>
<ellipse cx="1462.5" cy="1048.5" rx="5" ry="4.2" fill="#27d4c4"/>
<ellipse cx="1448" cy="1078" rx="9" ry="7.5" fill="#1cc2aa"/>
<ellipse cx="1450.5" cy="1076.5" rx="5" ry="4.2" fill="#27d4c4"/>
<ellipse cx="1458" cy="945" rx="9" ry="7.5" fill="#1cc2aa"/>
<ellipse cx="1460.5" cy="943.5" rx="5" ry="4.2" fill="#27d4c4"/>
<path d="M1382.3,902.3 L1388.9,898.9 L1386.9,908.2Z M1386.9,908.2 L1393.9,905.6 L1391.3,914.7Z M1391.3,914.7 L1398.5,912.9 L1395.3,922Z M1395.3,922 L1402.8,920.9 L1399,929.8Z M1399,929.8 L1406.7,929.5 L1402.3,938.2Z M1402.3,938.2 L1410.2,938.7 L1405.2,947.1Z M1405.2,947.1 L1413.2,948.4 L1407.7,956.4Z M1407.7,956.4 L1415.7,958.5 L1409.8,966.1Z M1409.8,966.1 L1417.8,968.9 L1411.4,976.1Z M1411.4,976.1 L1419.4,979.6 L1412.6,986.3Z M1412.6,986.3 L1420.4,990.5 L1413.3,996.6Z M1413.3,996.6 L1420.9,1001.5 L1413.5,1007Z M1413.5,1007 L1420.9,1012.5 L1413.3,1017.4Z M1413.3,1017.4 L1420.4,1023.5 L1412.6,1027.7Z M1412.6,1027.7 L1419.4,1034.4 L1411.4,1037.9Z M1411.4,1037.9 L1417.8,1045.1 L1409.8,1047.9Z M1409.8,1047.9 L1415.7,1055.5 L1407.7,1057.6Z M1407.7,1057.6 L1413.2,1065.6 L1405.2,1066.9Z M1405.2,1066.9 L1410.2,1075.3 L1402.3,1075.8Z M1402.3,1075.8 L1406.7,1084.5 L1399,1084.2Z M1399,1084.2 L1402.8,1093.1 L1395.3,1092Z M1395.3,1092 L1398.5,1101.1 L1391.3,1099.3Z M1391.3,1099.3 L1393.9,1108.4 L1386.9,1105.8Z M1386.9,1105.8 L1388.9,1115.1 L1382.3,1111.7Z" fill="#fb6c20"/>
<path d="M1345,912 L1352,898 L1382.1,899.9 L1387,905.8 L1391.5,912.4 L1395.8,919.8 L1399.6,927.8 L1403.1,936.3 L1406.2,945.4 L1408.9,955 L1411,964.9 L1412.8,975.2 L1414,985.7 L1414.8,996.3 L1415,1007 L1414.8,1017.7 L1414,1028.3 L1412.8,1038.8 L1411,1049.1 L1408.9,1059 L1406.2,1068.6 L1403.1,1077.7 L1399.6,1086.2 L1395.8,1094.2 L1391.5,1101.6 L1387,1108.2 L1382.1,1114.1 L1364,1092 L1365.1,1089.6 L1366.8,1083 L1368.2,1076.3 L1369.5,1069.4 L1370.7,1062.2 L1371.6,1055 L1372.4,1047.6 L1373,1040.1 L1373.5,1032.5 L1373.7,1024.9 L1373.8,1017.2 L1373.7,1009.6 L1373.4,1001.9 L1372.9,994.4 L1372.3,986.9 L1371.4,979.5 L1370.4,972.3 L1369.3,965.2 L1367.9,958.3 L1366.4,951.6 L1364.8,945.1 L1363,938.9 L1361,933 L1358.9,927.3 L1356.7,922Z" fill="#ff7a28" />
<polygon points="1345,913 1350,895 1358,908" fill="#fb6c20"/>
<polygon points="1356,908 1362,890 1370,904" fill="#fb6c20"/>
<polygon points="1368,905 1376,889 1382,903" fill="#fb6c20"/>
<polygon points="1364,1094 1362,1110 1372,1104" fill="#fb6c20"/>
<polygon points="1370,1102 1374,1118 1380,1106" fill="#fb6c20"/>
<path d="M1364.6,931.9 L1389.2,917.8 L1400.5,943.4Z" fill="#f2601a" opacity="0.75"/>
<path d="M1400.2,945.7 L1365,936.1 L1372,963.9Z" fill="#ff9a52" opacity="0.7"/>
<path d="M1372.5,961.4 L1399.9,941.6 L1407.3,971.9Z" fill="#f2601a" opacity="0.75"/>
<path d="M1406.6,974.2 L1372.4,966 L1376.1,997.2Z" fill="#ff9a52" opacity="0.7"/>
<path d="M1376.9,994.7 L1406.9,969.9 L1410,1002.8Z" fill="#f2601a" opacity="0.75"/>
<path d="M1409,1004.9 L1376.3,999.5 L1376.5,1031.9Z" fill="#ff9a52" opacity="0.7"/>
<path d="M1377.6,1029.7 L1409.9,1000.7 L1408.4,1034Z" fill="#f2601a" opacity="0.75"/>
<path d="M1407.2,1035.8 L1376.4,1034.2 L1373.1,1065.7Z" fill="#ff9a52" opacity="0.7"/>
<path d="M1374.4,1063.8 L1408.6,1031.9 L1402.6,1063.3Z" fill="#f2601a" opacity="0.75"/>
<path d="M1401.3,1064.7 L1372.8,1067.8 L1366.2,1096.2Z" fill="#ff9a52" opacity="0.7"/>
<path d="M1335.6,919 L1346,918.5 L1356.7,921 L1358.9,927.3 L1361,933 L1363,938.9 L1364.8,945.1 L1366.4,951.6 L1367.9,958.3 L1369.3,965.2 L1370.4,972.3 L1371.4,979.5 L1372.3,986.9 L1372.9,994.4 L1373.4,1001.9 L1373.7,1009.6 L1373.8,1017.2 L1373.7,1024.9 L1373.5,1032.5 L1373,1040.1 L1372.4,1047.6 L1371.6,1055 L1370.7,1062.2 L1369.5,1069.4 L1368.2,1076.3 L1366.8,1083 L1365,1089.6 L1337,1088 L1318,1083 L1302,1074 L1290,1064 L1278,1050 L1268,1036 L1260,1022 L1256,1006 L1258,994 L1266,980 L1274,968 L1285,956 L1299,945 L1316,932Z" fill="url(#yel2)" />
<path d="M1316,932 C1296,946 1276,964 1264,984 C1258,994 1256,1004 1259,1018 C1266,1040 1280,1056 1298,1070 C1290,1040 1290,1000 1298,968 C1302,954 1308,942 1316,932Z" fill="#f8e23c" opacity="0.9"/>
<polygon points="1324,928 1308,920 1316,934" fill="#f8e436"/>
<polygon points="1312,934 1294,928 1304,942" fill="#f8e436"/>
<polygon points="1300,942 1280,938 1292,952" fill="#f8e436"/>
<polygon points="1288,952 1270,950 1280,962" fill="#f8e436"/>
<polygon points="1278,964 1262,964 1272,974" fill="#f8e436"/>
<polygon points="1270,976 1254,980 1264,988" fill="#f8e436"/>
<polygon points="1262,988 1247,993 1260,1000" fill="#f8e436"/>
<polygon points="1257,1002 1246,1010 1258,1016" fill="#f8e436"/>
<polygon points="1259,1018 1250,1028 1264,1030" fill="#f8e436"/>
<polygon points="1266,1034 1258,1046 1274,1046" fill="#f8e436"/>
<polygon points="1276,1050 1270,1062 1286,1060" fill="#f8e436"/>
<polygon points="1288,1062 1286,1076 1300,1072" fill="#f8e436"/>
<path d="M1300,980 L1306,965 L1312,980Z" fill="#eec21a"/>
<path d="M1301,980 L1306,965 L1307.5,980Z" fill="#ffec58"/>
<path d="M1330,978 L1336,963 L1342,978Z" fill="#eec21a"/>
<path d="M1331,978 L1336,963 L1337.5,978Z" fill="#ffec58"/>
<path d="M1345,1013 L1350,1000 L1355,1013Z" fill="#eec21a"/>
<path d="M1346,1013 L1350,1000 L1351.5,1013Z" fill="#ffec58"/>
<path d="M1338,1050 L1344,1035 L1350,1050Z" fill="#eec21a"/>
<path d="M1339,1050 L1344,1035 L1345.5,1050Z" fill="#ffec58"/>
<path d="M1313,1053 L1318,1040 L1323,1053Z" fill="#eec21a"/>
<path d="M1314,1053 L1318,1040 L1319.5,1053Z" fill="#ffec58"/>
<path d="M1295,1027 L1300,1014 L1305,1027Z" fill="#eec21a"/>
<path d="M1296,1027 L1300,1014 L1301.5,1027Z" fill="#ffec58"/>
<path d="M1277,1003 L1282,990 L1287,1003Z" fill="#eec21a"/>
<path d="M1278,1003 L1282,990 L1283.5,1003Z" fill="#ffec58"/>
<ellipse cx="1321" cy="934" rx="9" ry="6" fill="#d2a21c"/>
<ellipse cx="1322" cy="935" rx="5" ry="3.4" fill="#8a6414"/>
</g>
</g>
<g filter="url(#soft)">
<path d="M240,1017.6 L1273,1006.6 L1273,1019.6 L240,1029.8Z" fill="#636063"/>
<path d="M233,1018.6 L294,1017.8 L294,1028.6 L233,1029.2 C228,1029 228,1019 233,1018.6Z" fill="#6e6765"/>
<rect x="760" y="1006" width="61" height="21.5" fill="url(#clip2g)"/>
</g>
<g id="rope2" filter="url(#soft)">
<path d="M1271,1039.3 L1266.5,1060.8 L1264.5,1086.1 L1261,1110.5 L1260.5,1145 L1259.5,1174.1 L1260,1197.1 L1300,1198.9 L1302.5,1175.9 L1301.5,1145 L1299,1109.5 L1291.5,1083.9 L1285.5,1059.2 L1285,1040.7Z" fill="#dfe9bc"/>
<path d="M1264.8,1055.3 C1274.6,1059.9 1279.4,1066.6 1281.4,1077.2 C1272,1072.2 1266.3,1066.3 1264.8,1055.3Z" fill="#f4f6ea"/>
<path d="M1268.9,1062.2 C1276.9,1063.9 1280.9,1068.4 1283.5,1075.8 C1275.9,1073.7 1271.2,1069.9 1268.9,1062.2Z" fill="#c6e83c"/>
<path d="M1274.9,1065.8 C1283.1,1071.1 1288.3,1077 1291.1,1086.5 C1283.3,1081 1277.3,1075.6 1274.9,1065.8Z" fill="#0a3a22"/>
<path d="M1268.5,1120.2 C1275.3,1120.7 1277.8,1124.3 1278.3,1130.6 C1271.9,1129.8 1268.6,1127 1268.5,1120.2Z" fill="#fbfbf7"/>
<path d="M1275.1,1034.8 C1281.8,1039.2 1286.1,1044.2 1288.3,1052.1 C1281.8,1047.5 1277,1042.9 1275.1,1034.8Z" fill="#f4f6ea"/>
<path d="M1264.2,1065.3 C1273.7,1071.2 1276.5,1079.4 1278.5,1089.7 C1269.5,1083.5 1265.8,1075.8 1264.2,1065.3Z" fill="#141a16"/>
<path d="M1289,1147.6 C1296.7,1150.3 1299.5,1155.9 1302.2,1162.9 C1294.8,1159.9 1291.4,1154.9 1289,1147.6Z" fill="#141a16"/>
<path d="M1255.9,1076.9 C1267.2,1080 1271.4,1088.8 1278.1,1096.9 C1267.1,1093.5 1262.3,1085.4 1255.9,1076.9Z" fill="#fbfbf7"/>
<path d="M1258,1146.9 C1264.9,1149 1265.8,1153.7 1265.9,1159.8 C1259.6,1157.6 1257.7,1153.3 1258,1146.9Z" fill="#0d4d2c"/>
<path d="M1262.1,1083.8 C1268.7,1087 1268.8,1092.6 1269.5,1098.7 C1263.3,1095.3 1262.5,1090.1 1262.1,1083.8Z" fill="#0a3a22"/>
<path d="M1279.5,1122.3 C1288.9,1128 1291.4,1136.8 1296.2,1145.8 C1287.1,1139.9 1284,1131.5 1279.5,1122.3Z" fill="#0c0c0c"/>
<path d="M1274.5,1035.9 C1282.1,1041.2 1281.8,1047.7 1279.9,1055.7 C1272.8,1050.1 1272,1044 1274.5,1035.9Z" fill="#d8ee58"/>
<path d="M1274.4,1166.7 C1282.6,1173.9 1285.1,1182.4 1288,1192.3 C1280.1,1185 1276.9,1176.9 1274.4,1166.7Z" fill="#121212"/>
<path d="M1266.8,1099.3 C1273.3,1100.6 1274.8,1105.2 1276.7,1110.4 C1270.5,1109 1268.4,1104.9 1266.8,1099.3Z" fill="#0f0f0f"/>
<path d="M1275.4,1054.4 C1286.4,1059.1 1289.2,1068.2 1293.3,1078.1 C1282.7,1073.1 1279.1,1064.6 1275.4,1054.4Z" fill="#121212"/>
<path d="M1271.4,1179.2 C1282.6,1184.1 1284,1193.7 1287.2,1203.8 C1276.5,1198.5 1274.2,1189.5 1271.4,1179.2Z" fill="#0c0c0c"/>
<path d="M1264.6,1091.8 C1272.1,1094 1275.4,1098.6 1277.3,1105.8 C1270.2,1103.3 1266.1,1099.3 1264.6,1091.8Z" fill="#f4f6ea"/>
<path d="M1270.9,1033.7 C1276.8,1037.5 1280.2,1041.8 1280.6,1049.1 C1275,1045.1 1271,1041.2 1270.9,1033.7Z" fill="#c6e83c"/>
<path d="M1267.8,1101.3 C1274.9,1102 1275.9,1108 1279.4,1112.5 C1272.5,1111.5 1271.1,1106.1 1267.8,1101.3Z" fill="#d8ee58"/>
<path d="M1289,1101.6 C1295.4,1105.9 1295.6,1111.8 1296.2,1118.6 C1290.2,1114.2 1289.2,1108.6 1289,1101.6Z" fill="#e8f27a"/>
<path d="M1271.3,1171.2 C1280.2,1174.4 1279.3,1181.7 1280.8,1188.9 C1272.3,1185.5 1272.3,1178.7 1271.3,1171.2Z" fill="#141a16"/>
<path d="M1260.9,1143.9 C1269.5,1146.6 1271.3,1152.7 1272.3,1160.6 C1264.2,1157.6 1261.4,1152.1 1260.9,1143.9Z" fill="#c6e83c"/>
<path d="M1286.3,1167.2 C1293,1170.6 1294.5,1176.5 1297.1,1182.8 C1290.6,1179.2 1288.6,1173.6 1286.3,1167.2Z" fill="#a8dc30"/>
<path d="M1283.5,1173 C1292.3,1177 1291.9,1184.7 1293.9,1192.3 C1285.5,1188.1 1285.1,1180.9 1283.5,1173Z" fill="#0f5e36"/>
<path d="M1280.5,1123 C1290,1127.4 1290.7,1136 1293.9,1144.4 C1284.8,1139.7 1283.3,1131.7 1280.5,1123Z" fill="#0f0f0f"/>
<path d="M1257.3,1157.4 C1264.3,1163.7 1266.3,1170.9 1267,1180 C1260.3,1173.5 1257.5,1166.6 1257.3,1157.4Z" fill="#0f0f0f"/>
<path d="M1263.3,1128.9 C1270.3,1134.5 1272.6,1141.5 1275.3,1149.6 C1268.6,1143.8 1265.8,1137.1 1263.3,1128.9Z" fill="#a8dc30"/>
<path d="M1279.3,1116.4 C1286.8,1116 1287.6,1121.3 1289.4,1126.7 C1282.2,1126.7 1280.6,1122.1 1279.3,1116.4Z" fill="#121212"/>
<path d="M1279.2,1125.6 C1285.9,1128.5 1288,1133.5 1289.2,1140.3 C1282.8,1137.1 1280,1132.6 1279.2,1125.6Z" fill="#141a16"/>
<path d="M1290,1184.8 C1298.2,1187.4 1300,1193.6 1301.8,1200.9 C1294,1198 1291.4,1192.4 1290,1184.8Z" fill="#0d4d2c"/>
<path d="M1268.3,1130.3 C1277.2,1134.4 1281.9,1140.3 1284.4,1149.7 C1276,1145.2 1270.4,1140 1268.3,1130.3Z" fill="#a8dc30"/>
<path d="M1265.9,1089.9 C1275.4,1095.5 1279.7,1103.6 1285.5,1112.4 C1276.3,1106.6 1271.5,1098.9 1265.9,1089.9Z" fill="#e8f27a"/>
<path d="M1283.3,1092.2 C1291.7,1095.4 1295.3,1101.1 1297.5,1109.4 C1289.5,1105.9 1285.1,1100.8 1283.3,1092.2Z" fill="#c6e83c"/>
<path d="M1258,1186.8 C1263.9,1190.6 1265.5,1195.6 1265.6,1202.3 C1260,1198.3 1257.7,1193.6 1258,1186.8Z" fill="#0d4d2c"/>
<path d="M1260.8,1069 C1270.9,1075.3 1272.7,1084.2 1274.1,1094.9 C1264.6,1088.3 1261.7,1080 1260.8,1069Z" fill="#0f0f0f"/>
<path d="M1264.4,1066.5 C1274,1071.9 1278.4,1079.5 1282.3,1089.3 C1273.1,1083.7 1268,1076.6 1264.4,1066.5Z" fill="#d8ee58"/>
<path d="M1280.3,1078 C1288.8,1077.5 1289.7,1083 1291,1089.3 C1283,1089.4 1281.2,1084.6 1280.3,1078Z" fill="#0f0f0f"/>
<path d="M1261.2,1130.3 C1267.4,1135.6 1270.6,1141.4 1272.6,1149.2 C1266.6,1143.8 1262.9,1138.3 1261.2,1130.3Z" fill="#0c0c0c"/>
<path d="M1278.7,1065.6 C1289,1070.5 1291.7,1079.8 1297.5,1088.4 C1287.5,1083.3 1284.2,1074.5 1278.7,1065.6Z" fill="#c6e83c"/>
<path d="M1267.4,1058.2 C1275.3,1061.5 1278.8,1067.6 1283,1074.4 C1275.4,1070.9 1271.5,1065.2 1267.4,1058.2Z" fill="#f4f6ea"/>
<path d="M1280.3,1116.7 C1291.4,1119.8 1296.2,1127.2 1300.7,1137 C1290,1133.4 1284.4,1126.8 1280.3,1116.7Z" fill="#a8dc30"/>
<path d="M1268.4,1044.1 C1273.1,1048.7 1274,1053.8 1273.8,1060.2 C1269.4,1055.4 1267.9,1050.5 1268.4,1044.1Z" fill="#e8f27a"/>
<path d="M1276.7,1131.5 C1282.8,1134 1285.3,1138.3 1287,1144.3 C1281.2,1141.6 1278.2,1137.7 1276.7,1131.5Z" fill="#fbfbf7"/>
<path d="M1268.2,1031.9 C1277.3,1035.2 1278.4,1042.5 1280.5,1050.3 C1271.9,1046.8 1270,1040 1268.2,1031.9Z" fill="#d8ee58"/>
<path d="M1275.1,1039.3 C1284.7,1043.7 1287.2,1051.9 1291.3,1060.4 C1282.1,1055.8 1278.9,1048.1 1275.1,1039.3Z" fill="#e8f27a"/>
<path d="M1276.8,1087.2 C1286,1090.5 1291.4,1096 1295.5,1104.8 C1286.6,1101.1 1280.6,1096.3 1276.8,1087.2Z" fill="#121212"/>
<path d="M1277.5,1064.9 C1287.3,1066.5 1290.9,1073.3 1295.4,1081 C1285.9,1079 1281.6,1072.9 1277.5,1064.9Z" fill="#0f5e36"/>
<path d="M1258,1105 C1267.9,1109.7 1272.9,1116.7 1276.5,1126.7 C1267,1121.7 1261.2,1115.4 1258,1105Z" fill="#0c0c0c"/>
<path d="M1276.1,1173 C1283.4,1178 1284.4,1184 1282.7,1192.1 C1275.9,1187 1273.7,1181.3 1276.1,1173Z" fill="#fbfbf7"/>
<path d="M1277,1035.2 C1283.4,1038.2 1281.9,1043.4 1282,1048.7 C1276,1045.5 1276.7,1040.7 1277,1035.2Z" fill="#a8dc30"/>
<path d="M1274.3,1180.2 C1282.3,1188.2 1285.1,1196.8 1286,1207.8 C1278.5,1199.6 1274.8,1191.3 1274.3,1180.2Z" fill="#121212"/>
<path d="M1281.2,1169 C1287.6,1175.1 1290.8,1181.5 1291.3,1190.4 C1285.2,1184.1 1281.3,1178.1 1281.2,1169Z" fill="#0d4d2c"/>
<path d="M1256.3,1119.4 C1265.5,1124.9 1268,1132.4 1268.5,1142.5 C1259.9,1136.7 1256.3,1129.8 1256.3,1119.4Z" fill="#a8dc30"/>
<path d="M1271.4,1065.7 C1277.6,1069.5 1279.9,1074.7 1281.5,1081.5 C1275.5,1077.5 1272.6,1072.7 1271.4,1065.7Z" fill="#0f5e36"/>
<path d="M1274.9,1106 C1282.2,1108.5 1284,1113.9 1285.7,1120.5 C1278.7,1117.8 1276.2,1112.9 1274.9,1106Z" fill="#121212"/>
<path d="M1268.7,1071.4 C1278,1076 1280.9,1083.9 1285.1,1092.4 C1276.1,1087.6 1272.5,1080.2 1268.7,1071.4Z" fill="#c6e83c"/>
<path d="M1275.3,1053 C1281.5,1057.5 1284.1,1063.1 1286.3,1070.1 C1280.3,1065.5 1277.2,1060.3 1275.3,1053Z" fill="#121212"/>
<path d="M1255.9,1119.1 C1264.2,1125.8 1267.1,1133.7 1268.7,1143.9 C1260.8,1137 1257,1129.5 1255.9,1119.1Z" fill="#121212"/>
<path d="M1268.4,1033.9 C1275,1039.2 1276.4,1045.6 1276.8,1053.6 C1270.5,1048.1 1268.4,1042.1 1268.4,1033.9Z" fill="#0f0f0f"/>
<path d="M1260.3,1139.2 C1270.3,1142.9 1270.9,1151.3 1273.7,1159.7 C1264.2,1155.6 1262.6,1147.9 1260.3,1139.2Z" fill="#fbfbf7"/>
<path d="M1273.6,1174.3 C1280.3,1176.9 1279.4,1182.5 1280.4,1188 C1274,1185.1 1274.2,1179.9 1273.6,1174.3Z" fill="#141a16"/>
<path d="M1282.4,1162.1 C1291,1165.9 1295.3,1171.8 1298.3,1180.5 C1290.1,1176.4 1285,1171.1 1282.4,1162.1Z" fill="#0f0f0f"/>
<path d="M1292.1,1107.6 C1298.7,1113.1 1299.5,1120.1 1301.7,1127.8 C1295.4,1122.1 1294,1115.3 1292.1,1107.6Z" fill="#e8f27a"/>
<path d="M1259.9,1072.6 C1270.2,1075.8 1275.9,1082.1 1280.8,1091.4 C1270.7,1087.8 1264.4,1082.2 1259.9,1072.6Z" fill="#141a16"/>
<path d="M1277.7,1125.2 C1285.9,1128.5 1286.6,1135 1287.8,1142.4 C1280.1,1138.8 1278.5,1132.8 1277.7,1125.2Z" fill="#0f5e36"/>
<path d="M1263.7,1085.1 C1273.6,1088.8 1275.7,1096.8 1279.5,1105.2 C1270,1101.3 1267.1,1093.9 1263.7,1085.1Z" fill="#f4f6ea"/>
<path d="M1256.8,1163.1 C1267.7,1167.5 1269.5,1176.7 1273.4,1186.2 C1263,1181.4 1260.2,1172.9 1256.8,1163.1Z" fill="#a8dc30"/>
<path d="M1275.6,1035.1 C1282.3,1038 1282.7,1044 1285.3,1049.6 C1278.8,1046.6 1277.8,1041 1275.6,1035.1Z" fill="#fbfbf7"/>
<path d="M1263.6,1131.7 C1271.7,1133.7 1270.9,1140 1272.1,1146.1 C1264.4,1143.8 1264.3,1138.1 1263.6,1131.7Z" fill="#0c0c0c"/>
<path d="M1269.8,1052.2 C1276.3,1055.2 1275,1060.8 1276,1066.2 C1269.8,1063.1 1270.4,1057.8 1269.8,1052.2Z" fill="#0c0c0c"/>
<path d="M1267.5,1062.4 C1276.6,1066.5 1281.3,1072.4 1283.4,1082 C1274.8,1077.6 1269.2,1072.4 1267.5,1062.4Z" fill="#a8dc30"/>
<path d="M1270.8,1160.7 C1276.4,1163.9 1277.6,1168.1 1276.4,1174.1 C1271.2,1170.7 1269.2,1166.9 1270.8,1160.7Z" fill="#f4f6ea"/>
<path d="M1284.9,1120.2 C1293.7,1125.4 1296,1133.5 1299.8,1142.1 C1291.2,1136.7 1288.3,1129.1 1284.9,1120.2Z" fill="#c6e83c"/>
<path d="M1284.2,1159.2 C1292.7,1164.8 1292.2,1173 1294.5,1181.4 C1286.5,1175.7 1286.1,1167.8 1284.2,1159.2Z" fill="#0d4d2c"/>
<path d="M1282.5,1078.4 C1290.5,1079 1291.7,1084.4 1293.2,1090.6 C1285.7,1089.6 1283.7,1084.9 1282.5,1078.4Z" fill="#141a16"/>
<path d="M1267.5,1075 C1276,1077.2 1278.6,1082.8 1279.9,1090.7 C1271.9,1088.1 1268.3,1083.3 1267.5,1075Z" fill="#c6e83c"/>
<path d="M1275.3,1128 C1282.4,1134.3 1285.6,1141.3 1288.3,1150.1 C1281.6,1143.7 1277.7,1137 1275.3,1128Z" fill="#0f0f0f"/>
<path d="M1264.7,1103.1 C1270.5,1105.9 1274.4,1109.3 1276.5,1115.6 C1271,1112.5 1266.6,1109.6 1264.7,1103.1Z" fill="#0f5e36"/>
<path d="M1264.6,1082.2 C1273.5,1088.2 1279.3,1094.9 1283.5,1104.7 C1274.9,1098.5 1268.5,1092.4 1264.6,1082.2Z" fill="#0a3a22"/>
<path d="M1264.8,1060.7 C1273.2,1065 1278.2,1070.7 1281.1,1079.7 C1273,1075.1 1267.4,1070.1 1264.8,1060.7Z" fill="#d8ee58"/>
<path d="M1286.7,1164.4 C1297.4,1166.6 1299.3,1175 1303.6,1183 C1293.3,1180.4 1290.6,1172.7 1286.7,1164.4Z" fill="#141a16"/>
<path d="M1280.2,1141.3 C1288.7,1148.1 1293.1,1155.8 1296.9,1165.8 C1288.7,1158.8 1283.7,1151.5 1280.2,1141.3Z" fill="#141a16"/>
<path d="M1273.9,1073.4 C1283.9,1076.3 1286.9,1084.6 1292.7,1091.8 C1282.9,1088.6 1279.4,1080.9 1273.9,1073.4Z" fill="#a8dc30"/>
<path d="M1274.1,1061.5 C1281.8,1067.7 1284,1075 1284.9,1084.3 C1277.7,1078 1274.6,1071.1 1274.1,1061.5Z" fill="#0a3a22"/>
<path d="M1268.4,1098.8 C1274.7,1104.2 1278.1,1109.9 1280.1,1117.9 C1274.1,1112.4 1270.1,1107 1268.4,1098.8Z" fill="#121212"/>
<path d="M1276.3,1055.8 C1284.4,1060.4 1286.8,1067.6 1290.6,1075.3 C1282.8,1070.6 1279.8,1063.8 1276.3,1055.8Z" fill="#c6e83c"/>
<path d="M1263.4,1099.2 C1274.5,1103.4 1276.6,1112.9 1281.8,1121.9 C1271.1,1117.4 1268.2,1108.5 1263.4,1099.2Z" fill="#0d4d2c"/>
<path d="M1263.8,1095.1 C1270.9,1100.6 1274.7,1106.7 1276.4,1115.5 C1269.6,1109.8 1265.1,1104.2 1263.8,1095.1Z" fill="#f4f6ea"/>
<path d="M1272.4,1055.1 C1278.7,1057.3 1282.5,1060.8 1284.9,1067 C1278.8,1064.6 1274.6,1061.6 1272.4,1055.1Z" fill="#fbfbf7"/>
<path d="M1260.9,1059.6 C1268,1062 1272.3,1065.9 1275.4,1072.7 C1268.6,1070 1263.8,1066.6 1260.9,1059.6Z" fill="#141a16"/>
<path d="M1265.6,1057.6 C1275.5,1061.4 1280.7,1067.9 1284.9,1077.3 C1275.4,1073.1 1269.4,1067.4 1265.6,1057.6Z" fill="#d8ee58"/>
<path d="M1265.5,1046.3 C1272.8,1050 1274.9,1055.3 1274.8,1063.1 C1268,1059.2 1264.9,1054.4 1265.5,1046.3Z" fill="#0f0f0f"/>
<path d="M1261.7,1080 C1268.2,1083.4 1271.9,1087.8 1273.5,1095.1 C1267.2,1091.5 1262.9,1087.6 1261.7,1080Z" fill="#0f0f0f"/>
<path d="M1291.3,1188.2 C1299.7,1192.8 1298.9,1200.1 1299.6,1207.9 C1291.7,1203.1 1291.5,1196.2 1291.3,1188.2Z" fill="#0d4d2c"/>
<path d="M1258.5,1131.4 C1265.1,1133.4 1267.5,1137.3 1267.1,1144.1 C1261,1141.7 1257.6,1138.4 1258.5,1131.4Z" fill="#f4f6ea"/>
<path d="M1272.7,1060 C1279.6,1062.2 1279.5,1066.9 1278.6,1072.8 C1272.1,1070.3 1271.2,1066.1 1272.7,1060Z" fill="#141a16"/>
<path d="M1297.5,1146.7 C1302.6,1150.6 1304.3,1154.9 1302.9,1161.2 C1298.2,1157.2 1295.8,1153.2 1297.5,1146.7Z" fill="#f4f6ea"/>
<path d="M1275.6,1157.1 C1284.8,1158.2 1285,1165.3 1287.3,1171.8 C1278.6,1170.4 1277.5,1164 1275.6,1157.1Z" fill="#0f5e36"/>
<path d="M1287.7,1174.9 C1296.1,1179.1 1298.9,1185.4 1299.9,1194.3 C1292,1189.8 1288.3,1184 1287.7,1174.9Z" fill="#0f0f0f"/>
<path d="M1273.1,1091.5 C1280.3,1093.3 1281.7,1098.9 1284.3,1104.6 C1277.4,1102.6 1275.4,1097.5 1273.1,1091.5Z" fill="#e8f27a"/>
<path d="M1269.6,1165.3 C1276.9,1167.4 1278.7,1172.4 1279.8,1179.1 C1272.9,1176.7 1270.3,1172.3 1269.6,1165.3Z" fill="#141a16"/>
<path d="M1279.6,1107.7 C1286.7,1111.7 1287,1117.5 1286.5,1124.6 C1279.8,1120.4 1278.6,1115 1279.6,1107.7Z" fill="#141a16"/>
<path d="M1290.2,1171.5 C1299.1,1177.7 1300.2,1186.4 1302.7,1195.9 C1294.2,1189.5 1292.2,1181.3 1290.2,1171.5Z" fill="#0f0f0f"/>
<path d="M1287.4,1106.7 C1298.5,1111.6 1299.3,1121.1 1302.6,1130.9 C1292.1,1125.7 1290.3,1116.7 1287.4,1106.7Z" fill="#e8f27a"/>
<path d="M1287.9,1187 C1297.2,1191.7 1296.4,1199.5 1296.7,1208.1 C1288,1203 1287.6,1195.8 1287.9,1187Z" fill="#141a16"/>
<path d="M1275.5,1100.3 C1284.5,1101.5 1286.3,1108.2 1289.7,1114.9 C1280.9,1113.5 1278.5,1107.4 1275.5,1100.3Z" fill="#e8f27a"/>
<path d="M1257.5,1141.4 C1264.4,1147.5 1267,1154.4 1268.5,1163.3 C1261.9,1157 1258.6,1150.4 1257.5,1141.4Z" fill="#0a3a22"/>
<path d="M1281.5,1096.3 C1288.3,1097.5 1289.3,1102.5 1291,1107.9 C1284.5,1106.5 1282.9,1102 1281.5,1096.3Z" fill="#d8ee58"/>
<path d="M1287.2,1094.6 C1294.5,1101.5 1299.5,1108.2 1302.3,1118 C1295.3,1110.9 1289.7,1104.6 1287.2,1094.6Z" fill="#d8ee58"/>
<path d="M1265.8,1058.3 C1275.1,1061.5 1280.7,1066.7 1284.4,1075.9 C1275.4,1072.3 1269.1,1067.9 1265.8,1058.3Z" fill="#0f5e36"/>
<path d="M1276.9,1167 C1285.7,1168.1 1285.8,1174.2 1286.6,1180.9 C1278.3,1179.4 1277.2,1174 1276.9,1167Z" fill="#a8dc30"/>
<path d="M1255.6,1156.4 C1263.4,1159 1266.9,1164 1268.6,1171.8 C1261.1,1168.8 1256.9,1164.5 1255.6,1156.4Z" fill="#0f5e36"/>
<path d="M1283,1091.8 C1291.3,1094.3 1294.6,1100.6 1298.9,1107.2 C1290.8,1104.4 1287.1,1098.7 1283,1091.8Z" fill="#e8f27a"/>
<path d="M1272.7,1049.6 C1280.3,1053.3 1283,1058.8 1283.4,1067 C1276.2,1063 1272.6,1058.1 1272.7,1049.6Z" fill="#a8dc30"/>
<path d="M1292.2,1175.2 C1300.1,1180.1 1300.5,1187.9 1303.5,1195.5 C1296,1190.4 1294.9,1183 1292.2,1175.2Z" fill="#0f5e36"/>
<path d="M1277.5,1160.7 C1285.5,1167.6 1288,1175.3 1288,1185.6 C1280.5,1178.5 1277,1171.2 1277.5,1160.7Z" fill="#0d4d2c"/>
<path d="M1266.1,1095.8 C1276.2,1098.7 1279.2,1106.5 1283.7,1114.7 C1273.9,1111.4 1270.2,1104.3 1266.1,1095.8Z" fill="#141a16"/>
<path d="M1270.4,1120.2 C1278.5,1125.6 1283.7,1131.6 1286.4,1141.2 C1278.7,1135.5 1272.8,1130 1270.4,1120.2Z" fill="#0a3a22"/>
<path d="M1288.8,1175 C1297.7,1178 1296,1185 1296.7,1191.8 C1288.3,1188.6 1289,1182.1 1288.8,1175Z" fill="#141a16"/>
<path d="M1254.7,1128.3 C1264.8,1133.5 1268.8,1141.2 1270.8,1151.8 C1261.3,1146.3 1256.3,1139.3 1254.7,1128.3Z" fill="#0c0c0c"/>
<path d="M1282,1187.8 C1289.3,1189 1291.2,1193.3 1291.2,1200 C1284.4,1198.5 1281.5,1194.9 1282,1187.8Z" fill="#0f0f0f"/>
<path d="M1272,1039.2 C1279.9,1046.7 1283.9,1054.6 1285.2,1065.5 C1277.7,1057.7 1272.8,1050.3 1272,1039.2Z" fill="#a8dc30"/>
<path d="M1289.5,1145.3 C1298.8,1152.5 1298.7,1162 1300.2,1172.4 C1291.3,1164.9 1290.5,1155.8 1289.5,1145.3Z" fill="#f4f6ea"/>
<path d="M1286,1159.7 C1293.7,1160.5 1295.9,1165.3 1297.4,1171.9 C1290,1170.8 1287.1,1166.7 1286,1159.7Z" fill="#c6e83c"/>
<path d="M1267.1,1126.7 C1273.8,1130.2 1274.6,1136.2 1276.8,1142.5 C1270.4,1138.8 1269,1133.2 1267.1,1126.7Z" fill="#0d4d2c"/>
<path d="M1259.1,1182.7 C1268.5,1189.3 1269.1,1198 1269.6,1208.2 C1260.9,1201.4 1259.1,1193.1 1259.1,1182.7Z" fill="#141a16"/>
<path d="M1266.4,1043.2 C1272.3,1045.2 1275.1,1048.5 1274.7,1054.9 C1269.3,1052.6 1265.7,1049.9 1266.4,1043.2Z" fill="#fbfbf7"/>
<path d="M1269.8,1119.4 C1278.3,1121.7 1282.4,1126.7 1284.6,1134.9 C1276.5,1132.3 1271.7,1128 1269.8,1119.4Z" fill="#0a3a22"/>
<path d="M1267.4,1161.6 C1275.6,1163.3 1278.1,1168.6 1279.8,1175.9 C1272,1173.8 1268.8,1169.2 1267.4,1161.6Z" fill="#0f0f0f"/>
<path d="M1279.2,1059.9 C1287.7,1060 1288,1066.5 1290.6,1072 C1282.5,1071.6 1281.5,1065.8 1279.2,1059.9Z" fill="#141a16"/>
<path d="M1271.6,1041.2 C1278.9,1048 1282.3,1055.3 1283.7,1065.1 C1276.8,1058.1 1272.7,1051.2 1271.6,1041.2Z" fill="#c6e83c"/>
<path d="M1271.7,1073 C1280.4,1073.5 1281.4,1079.9 1284,1086 C1275.8,1085.2 1274,1079.5 1271.7,1073Z" fill="#fbfbf7"/>
<path d="M1270.2,1108.5 C1277.9,1110.4 1278.2,1116.2 1279.6,1122.3 C1272.3,1120.2 1271.3,1114.9 1270.2,1108.5Z" fill="#a8dc30"/>
<path d="M1290.6,1178.4 C1298.5,1180.6 1298.6,1186.1 1298.1,1192.8 C1290.7,1190.2 1289.6,1185.3 1290.6,1178.4Z" fill="#0c0c0c"/>
<path d="M1262.6,1128.6 C1271.1,1135.3 1271.6,1144.3 1274.3,1153.7 C1266.1,1146.8 1265,1138.2 1262.6,1128.6Z" fill="#0f0f0f"/>
<path d="M1276.5,1085.9 C1283.2,1090.2 1284.9,1096 1285.7,1103.4 C1279.3,1098.9 1276.9,1093.5 1276.5,1085.9Z" fill="#fbfbf7"/>
<path d="M1259.5,1165 C1267.3,1171.9 1270.6,1179.7 1273,1189.6 C1265.5,1182.5 1261.5,1175.1 1259.5,1165Z" fill="#c6e83c"/>
<path d="M1279.5,1122.5 C1287.8,1125.8 1286.9,1132.8 1288.5,1139.7 C1280.6,1136.2 1280.7,1129.6 1279.5,1122.5Z" fill="#fbfbf7"/>
<path d="M1274.6,1035.8 C1281.3,1041.4 1281.6,1048 1281.2,1056 C1275,1050.2 1273.8,1043.9 1274.6,1035.8Z" fill="#f4f6ea"/>
<path d="M1265.2,1097.7 C1276.3,1102 1279.3,1111.3 1284.6,1120.5 C1273.9,1115.9 1270.2,1107.3 1265.2,1097.7Z" fill="#141a16"/>
<path d="M1270.1,1117.9 C1280.5,1121.9 1284.7,1130 1290.7,1138.4 C1280.6,1134.1 1275.8,1126.6 1270.1,1117.9Z" fill="#0d4d2c"/>
<path d="M1267.9,1105.7 C1275.3,1109.6 1279.2,1114.7 1280.1,1123.2 C1273.1,1119 1268.3,1114.5 1267.9,1105.7Z" fill="#0f0f0f"/>
<path d="M1282.4,1163.3 C1289.1,1171.1 1291.3,1178.9 1290.8,1189 C1284.6,1181 1281.6,1173.5 1282.4,1163.3Z" fill="#d8ee58"/>
<path d="M1275.9,1147.6 C1283,1149.3 1284.8,1154.4 1286.8,1160.3 C1280.1,1158.4 1277.6,1153.8 1275.9,1147.6Z" fill="#0d4d2c"/>
<path d="M1281.6,1121.6 C1289.6,1124 1291.6,1130.2 1294.8,1136.8 C1287.1,1134.1 1284.4,1128.4 1281.6,1121.6Z" fill="#f4f6ea"/>
<path d="M1286.6,1127.6 C1294.1,1131.6 1295.4,1137.7 1295.5,1145.5 C1288.4,1141.2 1286.3,1135.6 1286.6,1127.6Z" fill="#0f0f0f"/>
<path d="M1272.5,1033.1 C1279.7,1038.5 1280.4,1044.9 1279.1,1053.1 C1272.5,1047.5 1270.7,1041.4 1272.5,1033.1Z" fill="#0f0f0f"/>
<path d="M1292.1,1141.7 C1300,1148.8 1302.7,1157.2 1306.1,1166.9 C1298.5,1159.6 1295.2,1151.5 1292.1,1141.7Z" fill="#0a3a22"/>
<path d="M1288.8,1127 C1299.4,1130.8 1300.6,1139.8 1304.4,1148.5 C1294.3,1144.3 1292.3,1136 1288.8,1127Z" fill="#0c0c0c"/>
<path d="M1277.7,1103.8 C1286.3,1110.3 1287.5,1118.4 1287.6,1128.4 C1279.5,1121.6 1277.3,1113.9 1277.7,1103.8Z" fill="#d8ee58"/>
<path d="M1280.7,1129.9 C1289.4,1135.8 1292.5,1143.1 1292.8,1153.4 C1284.6,1147.2 1280.5,1140.5 1280.7,1129.9Z" fill="#fbfbf7"/>
<path d="M1281.1,1113.1 C1289.6,1115.3 1292.1,1121.2 1294.1,1128.8 C1286,1126.2 1282.7,1121 1281.1,1113.1Z" fill="#0a3a22"/>
<path d="M1281.4,1104.2 C1287.8,1107.1 1290,1112 1292.3,1118 C1286.2,1115 1283.5,1110.4 1281.4,1104.2Z" fill="#f4f6ea"/>
<path d="M1261.7,1136.9 C1269.5,1143.5 1271.8,1151.3 1273.8,1160.9 C1266.3,1154.1 1263.3,1146.6 1261.7,1136.9Z" fill="#0a3a22"/>
<path d="M1266,1046.3 C1272.5,1049.5 1275.9,1053.8 1276.7,1061.1 C1270.6,1057.7 1266.5,1053.8 1266,1046.3Z" fill="#0d4d2c"/>
<path d="M1269.7,1034.2 C1277.8,1036.4 1275.6,1041.9 1275,1047.5 C1267.4,1045.1 1268.5,1040.1 1269.7,1034.2Z" fill="#0d4d2c"/>
<path d="M1283,1080.1 C1290.4,1083.6 1290.7,1090.3 1293.1,1096.9 C1286,1093.2 1285.1,1086.8 1283,1080.1Z" fill="#121212"/>
<path d="M1271.2,1177.2 C1279.7,1178.6 1279.8,1185.5 1282.3,1191.6 C1274.1,1189.9 1273.3,1183.6 1271.2,1177.2Z" fill="#0c0c0c"/>
<path d="M1293.8,1156.6 C1301.1,1161.1 1300.1,1168 1301.7,1175 C1294.8,1170.3 1295,1163.7 1293.8,1156.6Z" fill="#141a16"/>
<path d="M1272.1,1090.3 C1279,1093.3 1278.7,1099.2 1280.1,1105.2 C1273.6,1102 1273.2,1096.5 1272.1,1090.3Z" fill="#fbfbf7"/>
<path d="M1288.7,1169.2 C1296.9,1174.5 1297.7,1182.4 1300.3,1190.7 C1292.6,1185.2 1291.1,1177.6 1288.7,1169.2Z" fill="#0c0c0c"/>
<path d="M1270.7,1127.2 C1280.6,1131.1 1285.6,1137.5 1287.9,1147.7 C1278.5,1143.4 1272.6,1137.9 1270.7,1127.2Z" fill="#e8f27a"/>
<path d="M1275.6,1098.5 C1287,1102.5 1289.3,1111.9 1293.8,1121.5 C1282.8,1117.1 1279.6,1108.4 1275.6,1098.5Z" fill="#0f5e36"/>
<path d="M1268.6,1065 C1275.4,1068 1278.4,1072.3 1278.5,1079.7 C1272.1,1076.5 1268.3,1072.7 1268.6,1065Z" fill="#c6e83c"/>
<path d="M1266.9,1172.7 C1275,1178.2 1273.7,1185.8 1274.3,1194 C1266.7,1188.3 1267.1,1181 1266.9,1172.7Z" fill="#0f0f0f"/>
<path d="M1267.4,1068.5 C1273.8,1070.2 1275.8,1073.9 1275.1,1080.2 C1269.2,1078.3 1266.3,1075.2 1267.4,1068.5Z" fill="#f4f6ea"/>
<path d="M1261,1106.8 C1268.5,1107.1 1269.6,1111.8 1270.2,1117.9 C1263.1,1117.2 1261.1,1113.2 1261,1106.8Z" fill="#f4f6ea"/>
<path d="M1257.2,1107.5 C1266.4,1107.9 1267.4,1114.4 1269.6,1121.2 C1260.8,1120.4 1258.9,1114.7 1257.2,1107.5Z" fill="#121212"/>
<path d="M1272.8,1054.1 C1283.2,1056.4 1283.6,1064.6 1286.6,1072.5 C1276.7,1069.8 1275.3,1062.2 1272.8,1054.1Z" fill="#d8ee58"/>
<path d="M1262.6,1122.6 C1268.7,1124.4 1270.6,1128.8 1272.8,1134.1 C1266.9,1132.2 1264.5,1128.1 1262.6,1122.6Z" fill="#141a16"/>
<path d="M1270.2,1175.1 C1278,1181.1 1281.4,1188.3 1284.4,1197.3 C1276.9,1191.2 1272.9,1184.3 1270.2,1175.1Z" fill="#0a3a22"/>
<path d="M1289.4,1094.2 C1296.5,1094.3 1298.5,1098.2 1299.3,1104.4 C1292.6,1104 1289.7,1100.8 1289.4,1094.2Z" fill="#d8ee58"/>
<path d="M1268.3,1075.6 C1278.3,1079.3 1280.2,1087.2 1282.9,1096.1 C1273.4,1092.1 1270.6,1084.8 1268.3,1075.6Z" fill="#d8ee58"/>
<path d="M1271.7,1090.6 C1281.7,1095.1 1283.7,1103.1 1285.5,1112.7 C1276.1,1107.8 1273.1,1100.5 1271.7,1090.6Z" fill="#0f5e36"/>
<path d="M1271.6,1047.4 C1279.5,1050.8 1280.9,1056.6 1280.4,1064.4 C1273,1060.7 1270.6,1055.5 1271.6,1047.4Z" fill="#0f0f0f"/>
<path d="M1287,1096.9 C1294.9,1096.5 1297.5,1100.8 1298.9,1107.7 C1291.3,1107.7 1287.9,1104.3 1287,1096.9Z" fill="#0c0c0c"/>
<path d="M1269.2,1101 C1277.3,1106.8 1282.2,1113.2 1284.8,1123 C1277,1117 1271.4,1111 1269.2,1101Z" fill="#0d4d2c"/>
<path d="M1265.8,1057.6 C1273.6,1060.2 1274.5,1065.6 1273.9,1072.7 C1266.6,1069.8 1264.7,1065 1265.8,1057.6Z" fill="#a8dc30"/>
<path d="M1283.5,1107.1 C1291.7,1112.8 1293.2,1120.6 1295.3,1129.5 C1287.5,1123.6 1285.1,1116.2 1283.5,1107.1Z" fill="#c6e83c"/>
<path d="M1282,1178.6 C1292.9,1182 1294.4,1191 1298.4,1199.8 C1287.9,1196.1 1285.5,1187.8 1282,1178.6Z" fill="#0d4d2c"/>
<path d="M1256.8,1096.4 C1263.3,1104.9 1267.9,1112.5 1269.5,1123.3 C1263.4,1114.7 1258.1,1107.3 1256.8,1096.4Z" fill="#121212"/>
<path d="M1291.5,1104 C1299.4,1105.5 1297.7,1111.1 1297.9,1116.5 C1290.5,1114.8 1291.2,1109.7 1291.5,1104Z" fill="#f4f6ea"/>
<path d="M1287.4,1122.6 C1295.4,1129.3 1297.8,1137.4 1300.2,1147 C1292.5,1140.2 1289.5,1132.4 1287.4,1122.6Z" fill="#0f5e36"/>
<path d="M1281.6,1069.2 C1290.1,1071.2 1291.1,1077.2 1291.9,1084.5 C1283.8,1082.2 1281.8,1076.8 1281.6,1069.2Z" fill="#f4f6ea"/>
<path d="M1264.5,1064.2 C1273.2,1069 1275,1076 1275.2,1085.1 C1267,1080 1264.2,1073.6 1264.5,1064.2Z" fill="#a8dc30"/>
<path d="M1300.1,1031.6 L1301,1060.9 L1301,1086.2 L1304.1,1146.6 L1309,1189.2 L1310,1234.5 L1314,1263.7 L1332,1264.3 L1338,1235.5 L1343,1190.8 L1339.9,1143.4 L1334,1083.8 L1331,1059.1 L1323.9,1028.4Z" fill="#dfe9bc"/>
<path d="M1326.2,1246.8 C1332.2,1250.5 1332.6,1256 1333.7,1262 C1328,1258.2 1327,1253 1326.2,1246.8Z" fill="#0d4d2c"/>
<path d="M1323.2,1225.3 C1330.8,1233 1334.8,1240.9 1337.4,1251.3 C1330.1,1243.5 1325.5,1235.9 1323.2,1225.3Z" fill="#fbfbf7"/>
<path d="M1300.5,1123 C1308.4,1126.7 1313.3,1131.7 1316.7,1139.9 C1309,1135.9 1303.5,1131.4 1300.5,1123Z" fill="#c6e83c"/>
<path d="M1305,1161.8 C1312,1162.6 1312.6,1168.1 1314.8,1173.1 C1308.1,1172.1 1306.9,1167.1 1305,1161.8Z" fill="#a8dc30"/>
<path d="M1300.1,1114.5 C1307.9,1118.1 1311.8,1123.4 1315,1131.1 C1307.5,1127.3 1302.9,1122.5 1300.1,1114.5Z" fill="#e8f27a"/>
<path d="M1317.6,1118.9 C1327.4,1124.2 1330.6,1132.6 1334.5,1142.2 C1325,1136.6 1321,1128.8 1317.6,1118.9Z" fill="#f4f6ea"/>
<path d="M1306.7,1177.4 C1313.2,1181.5 1315.9,1187 1318.4,1194 C1312.2,1189.7 1308.9,1184.5 1306.7,1177.4Z" fill="#0f0f0f"/>
<path d="M1309.4,1148.1 C1317.7,1148.1 1318.6,1153.4 1319.4,1159.8 C1311.5,1159.4 1309.7,1154.9 1309.4,1148.1Z" fill="#f4f6ea"/>
<path d="M1301.4,1118.1 C1308.1,1120.7 1309.2,1126.6 1312.1,1132.2 C1305.6,1129.4 1304,1123.9 1301.4,1118.1Z" fill="#a8dc30"/>
<path d="M1306.5,1028.9 C1316.3,1030.3 1319.6,1037.6 1324.9,1044.4 C1315.3,1042.7 1311.5,1036 1306.5,1028.9Z" fill="#0f0f0f"/>
<path d="M1315.6,1204.9 C1320.6,1208.5 1322.5,1212.6 1321,1218.7 C1316.5,1215 1313.8,1211.2 1315.6,1204.9Z" fill="#0c0c0c"/>
<path d="M1305.9,1131.6 C1311.5,1134.8 1314.2,1138.9 1314.4,1145.4 C1309.2,1142 1305.8,1138.3 1305.9,1131.6Z" fill="#a8dc30"/>
<path d="M1330.1,1128 C1339.7,1133.9 1339.3,1143.1 1341.8,1152.5 C1332.6,1146.3 1332.1,1137.6 1330.1,1128Z" fill="#c6e83c"/>
<path d="M1311.3,1137.1 C1320.6,1141.2 1321.5,1149.2 1324.2,1157.4 C1315.3,1153.1 1313.6,1145.6 1311.3,1137.1Z" fill="#121212"/>
<path d="M1313.3,1039.5 C1323,1040.2 1325.5,1047.7 1330.5,1054 C1321.1,1053 1318,1046.2 1313.3,1039.5Z" fill="#d8ee58"/>
<path d="M1319.7,1196.6 C1326.3,1201.6 1327.7,1207.3 1326.2,1215.1 C1320.1,1209.9 1317.7,1204.6 1319.7,1196.6Z" fill="#0d4d2c"/>
<path d="M1310.8,1031.6 C1319.6,1032.6 1319.2,1039.3 1321.1,1045.5 C1312.7,1044.2 1312.2,1038.1 1310.8,1031.6Z" fill="#c6e83c"/>
<path d="M1325.9,1183.7 C1333.1,1187 1332.7,1192.2 1331,1198.6 C1324.3,1195.1 1323.6,1190.3 1325.9,1183.7Z" fill="#121212"/>
<path d="M1295.6,1064.8 C1304.6,1066.5 1308,1072.5 1311.6,1079.9 C1302.9,1077.9 1298.9,1072.6 1295.6,1064.8Z" fill="#0c0c0c"/>
<path d="M1299.1,1026.8 C1308.4,1031.8 1311.4,1039.5 1314.9,1048.7 C1306,1043.4 1302.2,1036.2 1299.1,1026.8Z" fill="#0a3a22"/>
<path d="M1318.6,1119.7 C1328.6,1123.5 1329.5,1132 1332.5,1140.5 C1322.9,1136.4 1321.2,1128.5 1318.6,1119.7Z" fill="#141a16"/>
<path d="M1307.7,1218.7 C1316.7,1221.6 1316.3,1228.7 1317.4,1236 C1308.8,1232.8 1308.2,1226.4 1307.7,1218.7Z" fill="#0a3a22"/>
<path d="M1320.8,1086.3 C1329.5,1088.6 1332.9,1094.4 1336.4,1101.8 C1328.1,1099.3 1323.9,1094.1 1320.8,1086.3Z" fill="#a8dc30"/>
<path d="M1320.2,1139 C1329.4,1139.9 1331,1146.8 1334.4,1153.4 C1325.5,1152.2 1323.2,1146 1320.2,1139Z" fill="#c6e83c"/>
<path d="M1308.2,1033.7 C1318,1034.7 1320.9,1041.4 1324.5,1049.1 C1315.1,1047.7 1311.4,1041.8 1308.2,1033.7Z" fill="#0f5e36"/>
<path d="M1329.7,1246.8 C1336.6,1249 1337.6,1253.3 1335.9,1259.7 C1329.5,1257.2 1327.4,1253.4 1329.7,1246.8Z" fill="#141a16"/>
<path d="M1330.1,1216 C1336.2,1219.6 1339.5,1223.8 1340.3,1231 C1334.6,1227.2 1330.6,1223.3 1330.1,1216Z" fill="#121212"/>
<path d="M1315.2,1151.9 C1324.9,1158.1 1329.1,1165.9 1330.6,1177.1 C1321.4,1170.6 1316.2,1163.4 1315.2,1151.9Z" fill="#fbfbf7"/>
<path d="M1316.2,1211.6 C1322.6,1212.8 1323.4,1217.6 1325,1222.6 C1318.9,1221.1 1317.6,1216.8 1316.2,1211.6Z" fill="#0f0f0f"/>
<path d="M1305,1226.9 C1316,1230.4 1318.3,1238.9 1321.8,1248.3 C1311.3,1244.4 1308,1236.6 1305,1226.9Z" fill="#0d4d2c"/>
<path d="M1326.9,1111 C1335.8,1115.5 1336.1,1122.9 1336.6,1131.5 C1328.2,1126.7 1326.9,1119.8 1326.9,1111Z" fill="#d8ee58"/>
<path d="M1298.8,1034.3 C1306.3,1035.8 1307.3,1040.8 1307.3,1047.2 C1300.2,1045.4 1298.4,1041.1 1298.8,1034.3Z" fill="#d8ee58"/>
<path d="M1325.2,1126.4 C1331.8,1129.1 1332.6,1134.1 1332.9,1140.3 C1326.6,1137.4 1325.1,1132.8 1325.2,1126.4Z" fill="#121212"/>
<path d="M1311.1,1036.2 C1320.4,1039.5 1321.4,1047.5 1324.9,1055 C1316,1051.4 1314.3,1044 1311.1,1036.2Z" fill="#e8f27a"/>
<path d="M1313.6,1181.8 C1321.4,1185.5 1319.4,1191.7 1319.3,1198.2 C1312,1194.3 1313,1188.4 1313.6,1181.8Z" fill="#fbfbf7"/>
<path d="M1313,1217.3 C1321.9,1221.3 1320.9,1229 1322.5,1236.6 C1314.1,1232.4 1314.2,1225.1 1313,1217.3Z" fill="#0f5e36"/>
<path d="M1317.2,1234.5 C1323.3,1240.9 1325.7,1247.5 1326.4,1256.1 C1320.7,1249.6 1317.6,1243.3 1317.2,1234.5Z" fill="#121212"/>
<path d="M1307.4,1122.9 C1316.9,1129.1 1318.3,1138.2 1321.1,1148.1 C1312,1141.6 1309.7,1133 1307.4,1122.9Z" fill="#e8f27a"/>
<path d="M1311,1225.9 C1317.4,1228.9 1321.3,1232.8 1322.9,1239.9 C1316.8,1236.6 1312.3,1233.2 1311,1225.9Z" fill="#0f5e36"/>
<path d="M1326.9,1163.9 C1336.5,1165.7 1336.8,1172.8 1338.4,1180.2 C1329.3,1178.1 1327.9,1171.7 1326.9,1163.9Z" fill="#141a16"/>
<path d="M1326.4,1116.7 C1335.4,1120.4 1336,1128.1 1338.7,1135.9 C1330.1,1131.9 1328.8,1124.6 1326.4,1116.7Z" fill="#c6e83c"/>
<path d="M1321,1211.5 C1327.7,1214.4 1327.3,1220 1328,1225.9 C1321.6,1222.8 1321.3,1217.5 1321,1211.5Z" fill="#f4f6ea"/>
<path d="M1306.9,1023.2 C1314,1027.5 1317.6,1032.9 1320.1,1040.5 C1313.4,1036.1 1309.2,1031.1 1306.9,1023.2Z" fill="#d8ee58"/>
<path d="M1324.2,1084.5 C1331.4,1085.3 1332.9,1090.1 1334.6,1095.8 C1327.8,1094.7 1325.6,1090.5 1324.2,1084.5Z" fill="#0a3a22"/>
<path d="M1307.4,1124.3 C1316.9,1129.6 1320.1,1137.4 1322.4,1147.4 C1313.3,1141.8 1309.2,1134.6 1307.4,1124.3Z" fill="#d8ee58"/>
<path d="M1327.7,1104.2 C1335.7,1108.7 1339.7,1114.7 1342.5,1123.2 C1334.9,1118.5 1330.2,1113 1327.7,1104.2Z" fill="#f4f6ea"/>
<path d="M1300.8,1075.8 C1309.5,1079 1313.3,1084.8 1316,1093.2 C1307.7,1089.7 1303.1,1084.5 1300.8,1075.8Z" fill="#c6e83c"/>
<path d="M1313.5,1097.4 C1322.2,1101.2 1327.7,1106.3 1331,1115.3 C1322.6,1111.3 1316.5,1106.8 1313.5,1097.4Z" fill="#0c0c0c"/>
<path d="M1319.7,1236.7 C1326.4,1240.7 1327.2,1247.1 1329.7,1253.7 C1323.2,1249.5 1321.9,1243.4 1319.7,1236.7Z" fill="#0c0c0c"/>
<path d="M1304.1,1044.4 C1314,1049.7 1317.7,1058.3 1323.5,1067.2 C1313.9,1061.6 1309.6,1053.4 1304.1,1044.4Z" fill="#fbfbf7"/>
<path d="M1325.8,1118.3 C1331.2,1120.2 1334,1123.4 1335.4,1128.9 C1330.2,1126.8 1326.9,1124 1325.8,1118.3Z" fill="#0c0c0c"/>
<path d="M1315.7,1207.4 C1322.7,1211 1324.9,1216.6 1326.8,1223.7 C1320.1,1219.8 1317.2,1214.7 1315.7,1207.4Z" fill="#0a3a22"/>
<path d="M1324.9,1251.9 C1332,1253.4 1334.3,1257.4 1333.7,1264.3 C1327.1,1262.5 1323.9,1259.2 1324.9,1251.9Z" fill="#121212"/>
<path d="M1334.2,1193.3 C1344.1,1196.6 1343.5,1204.8 1345.4,1212.7 C1335.9,1209.1 1335.6,1201.6 1334.2,1193.3Z" fill="#f4f6ea"/>
<path d="M1315.9,1059 C1323.2,1059.6 1324.5,1065 1327.1,1070.2 C1320.1,1069.4 1318.2,1064.5 1315.9,1059Z" fill="#f4f6ea"/>
<path d="M1314.3,1100.1 C1324.1,1105.7 1327.7,1113.6 1330.1,1124 C1320.8,1118.1 1316.3,1110.9 1314.3,1100.1Z" fill="#0a3a22"/>
<path d="M1300.3,1052.5 C1306.6,1053.9 1309.7,1057.6 1311.7,1063.6 C1305.6,1061.8 1302,1058.8 1300.3,1052.5Z" fill="#121212"/>
<path d="M1306,1103.3 C1315.8,1107 1317.2,1115 1320.2,1123.5 C1310.9,1119.5 1308.6,1112.1 1306,1103.3Z" fill="#0c0c0c"/>
<path d="M1326.4,1166.8 C1338.6,1169.3 1341.3,1178.9 1346.6,1188 C1334.8,1185 1331.2,1176.3 1326.4,1166.8Z" fill="#121212"/>
<path d="M1315.2,1137.3 C1324,1138.3 1322.4,1144.7 1323,1150.6 C1314.7,1149.2 1315.4,1143.4 1315.2,1137.3Z" fill="#0d4d2c"/>
<path d="M1314.6,1169.6 C1322.6,1173.5 1324.5,1180.4 1328,1187.5 C1320.3,1183.5 1317.9,1177 1314.6,1169.6Z" fill="#f4f6ea"/>
<path d="M1326.7,1092.5 C1335,1098.4 1337.3,1106 1339.4,1115.3 C1331.5,1109.3 1328.5,1102 1326.7,1092.5Z" fill="#0c0c0c"/>
<path d="M1297.6,1106.4 C1306.8,1110.4 1309.8,1117.5 1312.2,1126.4 C1303.5,1122.1 1299.6,1115.7 1297.6,1106.4Z" fill="#0f0f0f"/>
<path d="M1310.6,1027.3 C1318.3,1030.2 1320.8,1035.9 1323.4,1043 C1316,1039.8 1312.9,1034.6 1310.6,1027.3Z" fill="#f4f6ea"/>
<path d="M1300.7,1108 C1308.3,1111.8 1308.4,1118.8 1310.8,1125.5 C1303.4,1121.6 1302.8,1115 1300.7,1108Z" fill="#fbfbf7"/>
<path d="M1309.4,1091.8 C1317.4,1094 1318.5,1100.5 1321.7,1106.6 C1314,1104.2 1312.3,1098.1 1309.4,1091.8Z" fill="#f4f6ea"/>
<path d="M1301.3,1083.8 C1310.8,1088.3 1314.1,1096.2 1318.8,1104.7 C1309.6,1099.9 1305.7,1092.6 1301.3,1083.8Z" fill="#fbfbf7"/>
<path d="M1311.6,1085.5 C1318.9,1092.2 1321.6,1099.4 1322.2,1109.1 C1315.4,1102.3 1311.8,1095.4 1311.6,1085.5Z" fill="#141a16"/>
<path d="M1313.1,1076.1 C1320.8,1079.8 1324.8,1084.8 1326,1093.3 C1318.7,1089.4 1313.9,1085 1313.1,1076.1Z" fill="#0f0f0f"/>
<path d="M1306.8,1126.7 C1314.2,1131.6 1316.5,1137.8 1316.4,1146.4 C1309.5,1141.2 1306.2,1135.5 1306.8,1126.7Z" fill="#c6e83c"/>
<path d="M1309.7,1149 C1318.8,1152.1 1321.5,1159 1324.7,1167.1 C1315.9,1163.7 1312.4,1157.4 1309.7,1149Z" fill="#f4f6ea"/>
<path d="M1325,1198.6 C1332.3,1204 1331.3,1211.4 1332.6,1219 C1325.7,1213.4 1325.9,1206.4 1325,1198.6Z" fill="#e8f27a"/>
<path d="M1310.8,1246 C1320.5,1249.4 1324.6,1256.1 1327.7,1265.2 C1318.4,1261.4 1313.5,1255.5 1310.8,1246Z" fill="#141a16"/>
<path d="M1315.5,1087.5 C1321.8,1091.2 1326.1,1095.2 1327.8,1102.7 C1321.8,1098.7 1316.9,1095.2 1315.5,1087.5Z" fill="#f4f6ea"/>
<path d="M1329.7,1105.7 C1334.3,1109.3 1337.5,1112.8 1337.6,1119 C1333.3,1115.3 1329.5,1112.1 1329.7,1105.7Z" fill="#0f0f0f"/>
<path d="M1318.7,1193.4 C1327.9,1199.2 1328.4,1208.1 1331.1,1217.3 C1322.2,1211.3 1321,1202.9 1318.7,1193.4Z" fill="#141a16"/>
<path d="M1330.9,1141.8 C1339.5,1148.9 1343.9,1156.6 1344.9,1167.7 C1336.8,1160.4 1331.5,1153.2 1330.9,1141.8Z" fill="#121212"/>
<path d="M1325.8,1212.9 C1335.4,1215 1336.7,1222.5 1339.7,1229.9 C1330.6,1227.4 1328.5,1220.6 1325.8,1212.9Z" fill="#0f5e36"/>
<path d="M1317.6,1087.1 C1326.3,1089.9 1329.2,1096.5 1333.1,1103.8 C1324.7,1100.7 1321.1,1094.7 1317.6,1087.1Z" fill="#0c0c0c"/>
<path d="M1322.3,1117.6 C1329.3,1117.7 1330.3,1123.1 1333,1127.8 C1326.2,1127.4 1324.7,1122.5 1322.3,1117.6Z" fill="#121212"/>
<path d="M1316.1,1237.9 C1324.1,1240.7 1325.9,1246.6 1327.3,1254 C1319.7,1250.9 1317.1,1245.6 1316.1,1237.9Z" fill="#f4f6ea"/>
<path d="M1328.2,1161.7 C1336.2,1163.9 1339.9,1169.2 1344,1175.8 C1336.3,1173.4 1332,1168.6 1328.2,1161.7Z" fill="#a8dc30"/>
<path d="M1329.1,1195.3 C1337.8,1200.2 1341.7,1207 1344.1,1216.4 C1335.7,1211.2 1331.1,1205 1329.1,1195.3Z" fill="#0f5e36"/>
<path d="M1297.6,1110.1 C1308.2,1115.4 1311.2,1124.3 1314.4,1134.7 C1304.2,1129 1300.3,1120.8 1297.6,1110.1Z" fill="#0c0c0c"/>
<path d="M1302.6,1153.5 C1312.4,1156.6 1316.7,1163.7 1322.4,1171.3 C1312.9,1168 1308.1,1161.4 1302.6,1153.5Z" fill="#121212"/>
<path d="M1297.9,1030.6 C1305,1036.8 1309,1043.4 1311.6,1052.4 C1304.9,1046 1300.2,1039.8 1297.9,1030.6Z" fill="#f4f6ea"/>
<path d="M1324.9,1167.7 C1333.2,1172.8 1336.1,1179.7 1337.4,1188.9 C1329.5,1183.5 1325.8,1177.2 1324.9,1167.7Z" fill="#0a3a22"/>
<path d="M1305.7,1231.1 C1314.6,1237.2 1318,1245.2 1320.7,1255.1 C1312.2,1248.8 1308,1241.3 1305.7,1231.1Z" fill="#0d4d2c"/>
<path d="M1313.7,1220 C1320.3,1225.1 1323.2,1231 1324.6,1239.1 C1318.3,1233.8 1314.8,1228.2 1313.7,1220Z" fill="#fbfbf7"/>
<path d="M1312.6,1091.5 C1322,1093.5 1324.7,1100.2 1327.9,1108 C1318.9,1105.6 1315.4,1099.6 1312.6,1091.5Z" fill="#a8dc30"/>
<path d="M1312.3,1189.4 C1320.1,1193 1322.4,1198.8 1322.4,1207 C1315,1203 1311.7,1197.9 1312.3,1189.4Z" fill="#f4f6ea"/>
<path d="M1305.9,1031.1 C1312.1,1033.5 1313.1,1038.5 1314.9,1043.9 C1309,1041.4 1307.6,1036.7 1305.9,1031.1Z" fill="#a8dc30"/>
<path d="M1316.9,1123.8 C1325.7,1125.6 1328,1132 1331.2,1139 C1322.9,1136.8 1319.8,1131.1 1316.9,1123.8Z" fill="#a8dc30"/>
<path d="M1302.3,1032.7 C1310.5,1039.3 1314.3,1046.9 1316.2,1057.1 C1308.4,1050.3 1303.9,1043.1 1302.3,1032.7Z" fill="#d8ee58"/>
<path d="M1304.7,1032.9 C1313,1034.2 1313.2,1040.8 1315.7,1046.7 C1307.8,1045.1 1306.8,1039.1 1304.7,1032.9Z" fill="#c6e83c"/>
<path d="M1321.3,1240 C1329,1243.7 1329.2,1250.3 1330.5,1257.4 C1323.2,1253.5 1322.2,1247.3 1321.3,1240Z" fill="#0d4d2c"/>
<path d="M1316.2,1119.6 C1322.3,1122.8 1324.9,1127.1 1324.7,1134.1 C1319,1130.6 1315.6,1126.8 1316.2,1119.6Z" fill="#e8f27a"/>
<path d="M1313.4,1143.4 C1322.1,1148.8 1321.4,1157.1 1323.7,1165.4 C1315.4,1159.9 1315.3,1151.9 1313.4,1143.4Z" fill="#e8f27a"/>
<path d="M1313,1127.8 C1320.7,1130 1320.8,1135.2 1320.1,1141.7 C1312.9,1139.2 1311.7,1134.5 1313,1127.8Z" fill="#f4f6ea"/>
<path d="M1328.2,1137.9 C1335.6,1140.9 1335,1146.7 1335.3,1153 C1328.4,1149.8 1328.2,1144.4 1328.2,1137.9Z" fill="#d8ee58"/>
<path d="M1317.7,1105.9 C1324.4,1112.3 1328.4,1118.8 1330.7,1127.8 C1324.4,1121.2 1319.7,1115.1 1317.7,1105.9Z" fill="#0c0c0c"/>
<path d="M1310.3,1070.7 C1318.4,1072.8 1318,1078.7 1318.3,1085.1 C1310.7,1082.7 1310.2,1077.4 1310.3,1070.7Z" fill="#c6e83c"/>
<path d="M1315.3,1023.5 C1322.5,1024.2 1322.8,1030 1325.4,1034.7 C1318.6,1033.7 1317.7,1028.5 1315.3,1023.5Z" fill="#a8dc30"/>
<path d="M1308,1170.5 C1316.8,1175.1 1319.3,1181.9 1319.8,1191.2 C1311.5,1186.4 1308,1180.1 1308,1170.5Z" fill="#d8ee58"/>
<path d="M1309.7,1096.4 C1319.6,1099.5 1325,1105.7 1329.9,1114.5 C1320.3,1111 1314.3,1105.5 1309.7,1096.4Z" fill="#0f5e36"/>
<path d="M1323,1136.3 C1332.3,1140.9 1338.5,1146.8 1344.4,1155.2 C1335.3,1150.3 1328.7,1144.9 1323,1136.3Z" fill="#141a16"/>
<path d="M1298.6,1091.1 C1309.6,1091.2 1311.5,1099.4 1315.7,1106.8 C1305.2,1106.2 1302.5,1098.9 1298.6,1091.1Z" fill="#e8f27a"/>
<path d="M1317.7,1184.1 C1325.2,1190.1 1327.2,1197.1 1327,1206.4 C1320,1200.1 1317,1193.5 1317.7,1184.1Z" fill="#0d4d2c"/>
<path d="M1331.3,1232.3 C1338.7,1236 1337.9,1241.5 1336.6,1248.1 C1329.7,1244.2 1329.5,1239 1331.3,1232.3Z" fill="#fbfbf7"/>
<path d="M1309.3,1136.4 C1316,1139.4 1320.5,1143.2 1322.9,1150.3 C1316.5,1147 1311.5,1143.8 1309.3,1136.4Z" fill="#fbfbf7"/>
<path d="M1312.7,1033.4 C1320.7,1033.8 1321.4,1040.3 1324.6,1045.5 C1316.8,1044.8 1315.5,1038.9 1312.7,1033.4Z" fill="#0c0c0c"/>
<path d="M1314.4,1029.8 C1323.9,1035.5 1324.8,1044.1 1326.9,1053.6 C1317.9,1047.7 1316.1,1039.6 1314.4,1029.8Z" fill="#d8ee58"/>
<path d="M1321.6,1188.9 C1327.7,1191.7 1330.8,1195.9 1333,1202.1 C1327.1,1199.2 1323.5,1195.3 1321.6,1188.9Z" fill="#f4f6ea"/>
<path d="M1307,1029.7 C1315.4,1036.3 1319.9,1043.7 1323.3,1053.7 C1315.2,1046.9 1310.1,1039.9 1307,1029.7Z" fill="#fbfbf7"/>
<path d="M1320.9,1059.2 C1328.7,1061 1331.6,1066 1333.1,1073.3 C1325.7,1071.1 1322,1066.8 1320.9,1059.2Z" fill="#a8dc30"/>
<path d="M1309.5,1147.7 C1314.4,1150.1 1317.8,1153 1319,1158.7 C1314.3,1156 1310.4,1153.6 1309.5,1147.7Z" fill="#c6e83c"/>
<path d="M1306.1,1062.7 C1313.3,1064.8 1314.7,1070 1315.9,1076.4 C1309,1074 1306.9,1069.3 1306.1,1062.7Z" fill="#0c0c0c"/>
<path d="M1325.1,1198.6 C1334.1,1202.9 1335.6,1210.2 1336.8,1219 C1328.2,1214.4 1325.8,1207.7 1325.1,1198.6Z" fill="#121212"/>
<path d="M1316.2,1211 C1323,1213.3 1321.4,1218.8 1322.5,1223.9 C1316,1221.4 1317,1216.2 1316.2,1211Z" fill="#d8ee58"/>
<path d="M1318.8,1187.3 C1325.4,1189.6 1328.1,1193.8 1329,1200.4 C1322.9,1197.8 1319.4,1194.2 1318.8,1187.3Z" fill="#fbfbf7"/>
<path d="M1329.6,1117.3 C1338.2,1122 1339.7,1129.5 1341.9,1138.1 C1333.7,1133.1 1331.4,1126.1 1329.6,1117.3Z" fill="#a8dc30"/>
<path d="M1328.1,1239.6 C1333.3,1245.3 1334.5,1251.4 1334.5,1258.9 C1329.6,1253 1327.8,1247.2 1328.1,1239.6Z" fill="#0f0f0f"/>
<path d="M1320.9,1034.7 C1329.4,1036 1328.4,1042.5 1329.8,1048.4 C1321.7,1046.9 1321.9,1040.9 1320.9,1034.7Z" fill="#f4f6ea"/>
<path d="M1309.3,1201.9 C1317.2,1207.4 1318,1214.9 1319.4,1223.4 C1311.9,1217.7 1310.3,1210.6 1309.3,1201.9Z" fill="#0f5e36"/>
<path d="M1314.5,1060.5 C1323.3,1064.3 1326,1071.4 1328.8,1079.7 C1320.3,1075.6 1316.9,1069.1 1314.5,1060.5Z" fill="#f4f6ea"/>
<path d="M1304.2,1027.7 C1311.7,1032.8 1315.9,1038.7 1319,1047.1 C1311.8,1041.8 1307.1,1036.3 1304.2,1027.7Z" fill="#c6e83c"/>
<path d="M1295.4,1067.4 C1305.4,1069.4 1308.5,1076.6 1312.7,1084.5 C1303.1,1082.1 1299.3,1075.6 1295.4,1067.4Z" fill="#d8ee58"/>
<path d="M1321.2,1205.9 C1331.7,1211.8 1330.8,1221.2 1332.5,1231 C1322.5,1224.9 1322.4,1215.9 1321.2,1205.9Z" fill="#0a3a22"/>
<path d="M1309.4,1127.6 C1318,1133.5 1320.2,1141.5 1322.8,1150.8 C1314.6,1144.7 1311.6,1137.2 1309.4,1127.6Z" fill="#fbfbf7"/>
<path d="M1320.6,1231.1 C1327.4,1234.5 1329.6,1239.6 1330.3,1246.7 C1324,1243.1 1321,1238.4 1320.6,1231.1Z" fill="#a8dc30"/>
<path d="M1322.9,1225.5 C1331.8,1230.5 1336.3,1237.3 1340,1246.5 C1331.4,1241.3 1326.2,1235 1322.9,1225.5Z" fill="#0f0f0f"/>
<path d="M1305.4,1137.2 C1312.5,1138.4 1314.5,1143.5 1317.4,1149.1 C1310.6,1147.6 1308,1143 1305.4,1137.2Z" fill="#0a3a22"/>
<path d="M1322,1135.2 C1332.7,1139.1 1337,1147.6 1343.8,1155.6 C1333.3,1151.5 1328.5,1143.5 1322,1135.2Z" fill="#0f0f0f"/>
<path d="M1319.2,1041.9 C1327.3,1047.3 1331.9,1053.6 1335.3,1062.6 C1327.5,1057.1 1322.2,1051.2 1319.2,1041.9Z" fill="#0c0c0c"/>
<path d="M1309.1,1091.8 C1315.6,1094 1318.6,1097.9 1319.7,1104.5 C1313.5,1102.1 1309.8,1098.8 1309.1,1091.8Z" fill="#121212"/>
<path d="M1312,1232.3 C1317.1,1238.7 1318.7,1245.1 1319,1253.1 C1314.2,1246.6 1312,1240.4 1312,1232.3Z" fill="#0a3a22"/>
<path d="M1311.2,1083.2 C1318.7,1085.4 1321.5,1091 1325.2,1097.1 C1317.9,1094.6 1314.6,1089.6 1311.2,1083.2Z" fill="#f4f6ea"/>
<path d="M1326.4,1088.8 C1334.9,1091.5 1336.8,1098.3 1340,1105.4 C1331.8,1102.3 1329.3,1096.1 1326.4,1088.8Z" fill="#a8dc30"/>
<path d="M1322.7,1097.7 C1331.2,1100 1333.4,1105.8 1334.5,1113.7 C1326.4,1111 1323.3,1105.9 1322.7,1097.7Z" fill="#e8f27a"/>
<path d="M1316.3,1133.6 C1325.2,1137.1 1330.3,1142.7 1334.4,1151.2 C1325.8,1147.4 1320.1,1142.3 1316.3,1133.6Z" fill="#a8dc30"/>
<path d="M1307.1,1154.6 C1316,1161.7 1320,1169.8 1321.3,1180.9 C1312.9,1173.6 1308,1166.1 1307.1,1154.6Z" fill="#0a3a22"/>
<path d="M1311.4,1056.3 C1317.2,1059.3 1318.9,1063.6 1318.9,1069.7 C1313.5,1066.6 1311.1,1062.7 1311.4,1056.3Z" fill="#f4f6ea"/>
<path d="M1315.8,1197.5 C1322.1,1200.9 1325.2,1205.7 1327.7,1212.3 C1321.6,1208.6 1317.9,1204.3 1315.8,1197.5Z" fill="#0c0c0c"/>
<path d="M1303.8,1066.8 C1313.5,1069.5 1315.5,1076.6 1317.7,1085 C1308.6,1081.9 1305.6,1075.5 1303.8,1066.8Z" fill="#c6e83c"/>
<path d="M1314.3,1235.8 C1322.7,1241.5 1322.5,1250 1325.1,1258.4 C1317.1,1252.5 1316.7,1244.4 1314.3,1235.8Z" fill="#141a16"/>
<path d="M1316.8,1108.8 C1323.4,1111.3 1325.2,1116.4 1327,1122.5 C1320.7,1119.7 1318.2,1115.2 1316.8,1108.8Z" fill="#e8f27a"/>
<path d="M1309.1,1181.1 C1314.9,1186.1 1319,1190.9 1320.1,1198.8 C1314.6,1193.7 1309.9,1189.2 1309.1,1181.1Z" fill="#c6e83c"/>
<path d="M1308.8,1064 C1315.8,1064.9 1316.6,1069.9 1317.9,1075.3 C1311.3,1074.1 1309.8,1069.8 1308.8,1064Z" fill="#f4f6ea"/>
<path d="M1335.2,1194.9 C1340.9,1200.4 1343.3,1206.3 1344.7,1214 C1339.3,1208.4 1336.3,1202.7 1335.2,1194.9Z" fill="#0f0f0f"/>
<path d="M1311.7,1240.2 C1318.7,1242.5 1317.7,1248.4 1319.5,1253.7 C1312.8,1251.3 1313.1,1245.7 1311.7,1240.2Z" fill="#fbfbf7"/>
<path d="M1312.3,1086.7 C1321.3,1087.8 1323.1,1094.3 1326,1101.2 C1317.4,1099.7 1314.8,1094 1312.3,1086.7Z" fill="#f4f6ea"/>
<path d="M1309.5,1039.1 C1318.5,1043.1 1322.2,1049.5 1324.2,1058.7 C1315.6,1054.4 1311.1,1048.6 1309.5,1039.1Z" fill="#a8dc30"/>
<path d="M1332.8,1214 C1341.5,1218.5 1341.6,1225.6 1341.3,1234 C1333.1,1229.2 1331.8,1222.7 1332.8,1214Z" fill="#0f5e36"/>
<path d="M1316.6,1032.8 C1323.8,1034.7 1326.8,1039.2 1328.6,1045.9 C1321.8,1043.7 1318.2,1039.8 1316.6,1032.8Z" fill="#c6e83c"/>
<path d="M1299.8,1075.2 C1307.2,1075.5 1307.4,1080.9 1308.8,1086.1 C1301.8,1085.5 1300.8,1080.8 1299.8,1075.2Z" fill="#e8f27a"/>
<path d="M1304.1,1169.6 C1311.6,1169.4 1312,1175.3 1314.4,1180.1 C1307.2,1180 1306.2,1174.7 1304.1,1169.6Z" fill="#141a16"/>
<path d="M1306.1,1038 C1312.7,1040 1316.3,1043.5 1317.1,1050.6 C1310.9,1048.3 1306.6,1045.3 1306.1,1038Z" fill="#fbfbf7"/>
<path d="M1330.2,1197.6 C1341,1199.9 1341.6,1208.5 1344.8,1216.7 C1334.4,1214 1332.9,1206.1 1330.2,1197.6Z" fill="#0f0f0f"/>
<path d="M1297.6,1098.5 C1306.9,1104.4 1308.7,1112.6 1310,1122.6 C1301.2,1116.5 1298.4,1108.8 1297.6,1098.5Z" fill="#0f0f0f"/>
<path d="M1305.2,1039.3 C1315.1,1044.1 1316.2,1052.4 1318,1061.9 C1308.6,1056.8 1306.5,1049 1305.2,1039.3Z" fill="#d8ee58"/>
<path d="M1316.4,1232.8 C1324.5,1240.7 1326.5,1249.6 1327.9,1260.4 C1320.2,1252.3 1317.4,1243.7 1316.4,1232.8Z" fill="#0d4d2c"/>
<path d="M1320.4,1081.9 C1329.5,1086 1333.5,1092.7 1336.7,1101.7 C1328,1097.3 1323.2,1091.2 1320.4,1081.9Z" fill="#f4f6ea"/>
<path d="M1328.7,1240.5 C1335,1242.5 1338.1,1246.1 1338.9,1252.7 C1332.9,1250.5 1329.1,1247.4 1328.7,1240.5Z" fill="#0f0f0f"/>
<path d="M1310.1,1136.9 C1316.2,1138.2 1319.1,1141.7 1321,1147.4 C1315.2,1145.9 1311.7,1142.9 1310.1,1136.9Z" fill="#0c0c0c"/>
<path d="M1310.2,1052.2 C1318.7,1056.6 1323.4,1062.3 1325.7,1071.7 C1317.6,1067 1312.1,1061.9 1310.2,1052.2Z" fill="#f4f6ea"/>
<path d="M1317,1082.3 C1327.8,1086.7 1329.5,1095.5 1332.2,1105.4 C1321.9,1100.6 1319.2,1092.4 1317,1082.3Z" fill="#fbfbf7"/>
<path d="M1304.3,1021.3 C1313.8,1024.1 1317.2,1031.6 1322.7,1038.6 C1313.4,1035.5 1309.5,1028.6 1304.3,1021.3Z" fill="#f4f6ea"/>
<path d="M1297.9,1122.4 C1306.4,1127.1 1311.6,1133 1314.9,1142.2 C1306.7,1137.2 1300.9,1131.9 1297.9,1122.4Z" fill="#141a16"/>
<path d="M1300.7,1162 C1310,1167.6 1315.3,1174.8 1319.9,1184.4 C1310.9,1178.6 1305,1172 1300.7,1162Z" fill="#f4f6ea"/>
<path d="M1325.8,1070.1 C1334.2,1073.7 1333.8,1081 1335.8,1088.1 C1327.8,1084.3 1327.4,1077.5 1325.8,1070.1Z" fill="#f4f6ea"/>
<path d="M1320.5,1116 C1327.4,1121.3 1332,1126.6 1334,1135.3 C1327.4,1129.9 1322.2,1124.9 1320.5,1116Z" fill="#0f0f0f"/>
<path d="M1307.9,1106.6 C1315,1109.8 1315.5,1115.8 1317,1122.2 C1310.3,1118.8 1309.2,1113.2 1307.9,1106.6Z" fill="#141a16"/>
<path d="M1320.3,1131.8 C1328.6,1134.5 1327.7,1141.3 1329.4,1147.8 C1321.5,1144.9 1321.5,1138.5 1320.3,1131.8Z" fill="#e8f27a"/>
<path d="M1334.8,1180.6 C1343.2,1179 1343.8,1184.9 1345.6,1190.4 C1337.6,1191.7 1336.2,1186.7 1334.8,1180.6Z" fill="#e8f27a"/>
<path d="M1325.3,1078.4 C1333.9,1085 1334.6,1093.9 1337.2,1103.3 C1329,1096.5 1327.5,1088.1 1325.3,1078.4Z" fill="#121212"/>
<path d="M1318.5,1032.8 C1326.3,1033.7 1328.2,1038.3 1328.7,1045.1 C1321.4,1043.9 1318.7,1040 1318.5,1032.8Z" fill="#e8f27a"/>
<path d="M1295.5,1060.2 C1302.6,1064.9 1307.2,1070.1 1310,1078.3 C1303.1,1073.4 1298,1068.6 1295.5,1060.2Z" fill="#d8ee58"/>
<path d="M1306.6,1099.6 C1314,1102.4 1314.5,1108 1314.8,1114.7 C1307.9,1111.6 1306.5,1106.5 1306.6,1099.6Z" fill="#d8ee58"/>
<path d="M1305.3,1179.6 C1315.8,1185.1 1319,1193.6 1321.5,1204.3 C1311.5,1198.5 1307.3,1190.7 1305.3,1179.6Z" fill="#f4f6ea"/>
<path d="M1317.8,1152.4 C1324.7,1155.8 1329,1160.2 1331.9,1167.3 C1325.3,1163.7 1320.4,1159.8 1317.8,1152.4Z" fill="#c6e83c"/>
<path d="M1323.1,1179.3 C1328.7,1183.2 1331.2,1187.6 1330.9,1194.5 C1325.7,1190.4 1322.5,1186.3 1323.1,1179.3Z" fill="#c6e83c"/>
<path d="M1314.4,1187.1 C1323.5,1192.8 1326.9,1200.2 1328.6,1210.4 C1320,1204.5 1315.6,1197.6 1314.4,1187.1Z" fill="#c6e83c"/>
<path d="M1310.3,1111.3 C1320.8,1115.4 1323.6,1123.4 1326.3,1133.2 C1316.3,1128.8 1312.4,1121.5 1310.3,1111.3Z" fill="#121212"/>
<path d="M1315.4,1028.1 C1325.5,1032.5 1327.6,1041.3 1332.3,1049.8 C1322.6,1045.2 1319.8,1036.9 1315.4,1028.1Z" fill="#fbfbf7"/>
<path d="M1317,1152 C1323.3,1154.9 1322.3,1160.4 1323.6,1165.7 C1317.6,1162.7 1317.9,1157.5 1317,1152Z" fill="#c6e83c"/>
<path d="M1308.7,1106.4 C1317.3,1111.3 1323.1,1117.1 1327.6,1126 C1319.2,1120.9 1313,1115.5 1308.7,1106.4Z" fill="#0d4d2c"/>
<path d="M1309,1080.7 C1317.2,1087.5 1318,1096.6 1322,1105.7 C1314,1098.7 1312.7,1089.9 1309,1080.7Z" fill="#fbfbf7"/>
<path d="M1316.1,1112.1 C1323.9,1113.9 1325.8,1119.5 1327.6,1126.3 C1320.1,1124.1 1317.5,1119.1 1316.1,1112.1Z" fill="#fbfbf7"/>
<path d="M1298.9,1020 C1306.4,1027 1310.9,1034.1 1313,1044.3 C1305.7,1037.1 1300.6,1030.3 1298.9,1020Z" fill="#0a3a22"/>
<path d="M1308.1,1035.5 C1317.4,1036.8 1317.1,1043.9 1318.8,1050.6 C1310,1048.9 1309.3,1042.5 1308.1,1035.5Z" fill="#f4f6ea"/>
<path d="M1317.9,1033.6 C1326.6,1038.2 1330.2,1045.2 1333.7,1053.8 C1325.4,1048.9 1321.2,1042.5 1317.9,1033.6Z" fill="#e8f27a"/>
<path d="M1305.2,1128.6 C1315.4,1130.6 1317.9,1138.4 1322.4,1145.9 C1312.6,1143.6 1309.4,1136.5 1305.2,1128.6Z" fill="#121212"/>
<path d="M1310,1020.7 C1319.4,1023.9 1319.9,1031.5 1321.8,1039.5 C1312.8,1036 1311.4,1029 1310,1020.7Z" fill="#0f5e36"/>
<path d="M1326.5,1199.8 C1334.2,1205.2 1336.6,1211.6 1335.6,1220.8 C1328.4,1215.2 1325,1209.2 1326.5,1199.8Z" fill="#141a16"/>
<path d="M1310.6,1212.4 C1319.5,1215.7 1323,1222 1325.3,1230.7 C1316.8,1227 1312.5,1221.4 1310.6,1212.4Z" fill="#e8f27a"/>
<path d="M1315.6,1047.5 C1323.8,1050 1325.1,1057.1 1329.3,1063 C1321.4,1060.3 1319.6,1053.7 1315.6,1047.5Z" fill="#a8dc30"/>
<path d="M1312.3,1060.9 C1318.7,1064.5 1320.7,1070 1323.1,1076.3 C1316.9,1072.6 1314.4,1067.5 1312.3,1060.9Z" fill="#e8f27a"/>
<path d="M1318.5,1249.4 C1327.5,1255.9 1326.3,1264.5 1326.8,1273.9 C1318.3,1267.2 1318.4,1259 1318.5,1249.4Z" fill="#0d4d2c"/>
<path d="M1304.2,1139.1 C1313,1139.8 1313.1,1146.1 1314.4,1152.4 C1306.1,1151.4 1305.1,1145.8 1304.2,1139.1Z" fill="#0f5e36"/>
<path d="M1325.7,1192.4 C1335.4,1197.9 1337.5,1206.2 1339.6,1216.1 C1330.4,1210.4 1327.3,1202.6 1325.7,1192.4Z" fill="#fbfbf7"/>
<path d="M1310.4,1068.2 C1319.5,1071.8 1323.9,1078 1327.2,1086.8 C1318.5,1082.9 1313.3,1077.4 1310.4,1068.2Z" fill="#c6e83c"/>
<path d="M1314.7,1047.8 C1324.3,1052.7 1325.5,1061.3 1328.7,1070.2 C1319.5,1065 1317.5,1056.9 1314.7,1047.8Z" fill="#0d4d2c"/>
<path d="M1303.6,1103.3 C1312.3,1105.1 1312.8,1111.7 1314.5,1118.6 C1306.2,1116.5 1304.8,1110.5 1303.6,1103.3Z" fill="#e8f27a"/>
<path d="M1321.1,1245.5 C1327.6,1250.7 1328.9,1256.8 1328.8,1264.7 C1322.7,1259.3 1320.5,1253.5 1321.1,1245.5Z" fill="#0f5e36"/>
<path d="M1321.4,1076.8 C1331.2,1081.5 1336.8,1088.2 1341.3,1098 C1331.8,1092.9 1325.5,1086.9 1321.4,1076.8Z" fill="#121212"/>
<path d="M1325.8,1102.9 C1332.9,1104.8 1336.3,1108.9 1337.9,1115.8 C1331.2,1113.6 1327.1,1110.1 1325.8,1102.9Z" fill="#e8f27a"/>
<path d="M1300.6,1110.4 C1308.5,1110.5 1311.4,1114.8 1312.9,1121.8 C1305.3,1121.3 1301.6,1117.9 1300.6,1110.4Z" fill="#d8ee58"/>
<path d="M1324.3,1251.1 C1331.7,1253.8 1331.7,1260.3 1334.2,1266.2 C1327.1,1263.3 1326.5,1257.2 1324.3,1251.1Z" fill="#0c0c0c"/>
<path d="M1305.9,1175 C1312.3,1177.2 1314.9,1181.4 1316.5,1187.6 C1310.4,1185.2 1307.2,1181.4 1305.9,1175Z" fill="#0a3a22"/>
<path d="M1316.5,1159.5 C1322.2,1162.4 1324.5,1166.7 1326.1,1172.6 C1320.7,1169.5 1317.9,1165.6 1316.5,1159.5Z" fill="#fbfbf7"/>
<path d="M1322.1,1064.9 C1329.7,1066.4 1330.9,1071.4 1331.1,1078 C1324,1076.1 1321.8,1071.8 1322.1,1064.9Z" fill="#0c0c0c"/>
<path d="M1328.2,1115.4 C1336.2,1122.9 1340.6,1130.6 1341.7,1141.7 C1334,1134 1328.8,1126.7 1328.2,1115.4Z" fill="#e8f27a"/>
<path d="M1312.6,1219.5 C1320.9,1224.7 1325.5,1231.3 1329.8,1239.9 C1321.8,1234.5 1316.6,1228.3 1312.6,1219.5Z" fill="#0d4d2c"/>
<path d="M1332.6,1204.4 C1338.3,1211.3 1341.2,1218 1340.8,1227.2 C1335.4,1220.1 1331.7,1213.7 1332.6,1204.4Z" fill="#121212"/>
<path d="M1311.8,1228.2 C1316.4,1234.4 1319.1,1240.1 1318.6,1248 C1314.4,1241.7 1310.9,1236.3 1311.8,1228.2Z" fill="#141a16"/>
<path d="M1302,1117.5 C1310.7,1123.2 1315.4,1129.9 1317.1,1140.3 C1308.8,1134.3 1303.2,1128.2 1302,1117.5Z" fill="#141a16"/>
<path d="M1335.3,1205.4 C1342,1208.6 1341.4,1214.4 1342.5,1220.3 C1336.1,1216.9 1336,1211.4 1335.3,1205.4Z" fill="#0f5e36"/>
<path d="M1312.9,1233.2 C1320.8,1237.9 1325.2,1243.7 1327.9,1252.5 C1320.3,1247.6 1315.3,1242.2 1312.9,1233.2Z" fill="#0f5e36"/>
<path d="M1324,1169 C1333.3,1174.5 1335.3,1183.2 1339.7,1192 C1330.7,1186.3 1328.1,1178 1324,1169Z" fill="#141a16"/>
<path d="M1309.2,1202.2 C1319.9,1206.9 1320.5,1216 1322.6,1225.6 C1312.4,1220.6 1310.8,1212.2 1309.2,1202.2Z" fill="#e8f27a"/>
<path d="M1310.5,1047.6 C1320.4,1050.9 1325.4,1057.2 1329,1066.5 C1319.5,1062.9 1313.8,1057.4 1310.5,1047.6Z" fill="#c6e83c"/>
<path d="M1319.5,1230.5 C1329.1,1233.7 1330.8,1241.1 1333.1,1249.5 C1324,1246 1321.4,1239.2 1319.5,1230.5Z" fill="#0f0f0f"/>
<path d="M1318.8,1179 C1327.7,1179.4 1328.4,1185.7 1330.1,1192.2 C1321.7,1191.4 1320.1,1185.9 1318.8,1179Z" fill="#0f5e36"/>
<path d="M1321.4,1060.2 C1330.2,1062.8 1334,1068.6 1337.7,1076.3 C1329.3,1073.4 1324.8,1068.2 1321.4,1060.2Z" fill="#e8f27a"/>
<path d="M1313.4,1217.7 C1321.5,1221.1 1319.4,1226.9 1318.5,1233.3 C1310.9,1229.7 1311.8,1224.2 1313.4,1217.7Z" fill="#0f0f0f"/>
<ellipse cx="1314" cy="1012" rx="22.5" ry="19" fill="#2a7a3e"/>
<path d="M1297.8,1005.3 C1301.1,999.2 1305.7,997.4 1312.3,997.4 C1308.8,1003.1 1304.6,1005.7 1297.8,1005.3Z" fill="#e8f0c0"/>
<path d="M1322.4,1014.1 C1317.1,1017.4 1312.7,1016.1 1307.7,1013.6 C1312.9,1010.7 1317.3,1011.2 1322.4,1014.1Z" fill="#0a3a22"/>
<path d="M1319.1,1005.8 C1324.7,1008.7 1324,1012.4 1321.8,1017.1 C1316.7,1014.1 1316.4,1010.6 1319.1,1005.8Z" fill="#101010"/>
<path d="M1320.7,1004.7 C1323,1013.1 1317.4,1016 1312.1,1020.2 C1310.3,1012.1 1315,1008.6 1320.7,1004.7Z" fill="#c6e83c"/>
<path d="M1318.1,1019 C1312.1,1020.5 1309.2,1018.3 1307.9,1012.5 C1313.5,1011.5 1317,1012.8 1318.1,1019Z" fill="#e8f0c0"/>
<path d="M1313.3,1000.2 C1320.3,1002.6 1324.4,1006.7 1327.4,1013.4 C1320.6,1010.7 1316,1007.1 1313.3,1000.2Z" fill="#0f5e36"/>
<path d="M1301.8,1010.7 C1299.4,1004 1303.8,1002 1308.4,999.4 C1310.3,1005.8 1306.9,1008.3 1301.8,1010.7Z" fill="#b4e23a"/>
<path d="M1303.8,1022.1 C1298.7,1016.2 1298.8,1010.2 1299.9,1003 C1304.6,1009 1305.2,1014.9 1303.8,1022.1Z" fill="#0d4d2c"/>
<path d="M1308.6,1020.1 C1304.1,1016.9 1306.4,1013.5 1307.4,1009.7 C1311.5,1012.9 1310,1016.3 1308.6,1020.1Z" fill="#9ad62e"/>
<path d="M1308.2,995.5 C1312.4,989.3 1317.3,990.7 1323,992.8 C1318.7,998.4 1314,998.1 1308.2,995.5Z" fill="#a8dc30"/>
<path d="M1301.7,1008.3 C1296.9,1003.6 1300.2,1001.1 1303.8,998.2 C1308.1,1002.8 1305.8,1005.5 1301.7,1008.3Z" fill="#0a3a22"/>
<path d="M1299.6,1006.3 C1297.2,1000.2 1301.7,997.9 1304.8,994.3 C1306.9,1000.2 1303.1,1002.8 1299.6,1006.3Z" fill="#0d4d2c"/>
<path d="M1330.1,1017 C1326.2,1022.2 1322,1025.2 1315.4,1026 C1319.5,1021.1 1323.3,1017.5 1330.1,1017Z" fill="#c6e83c"/>
<path d="M1327.2,1006.6 C1331.3,1011 1332.2,1015.3 1329.9,1020.9 C1326.2,1016.4 1324.6,1012.3 1327.2,1006.6Z" fill="#0a3a22"/>
<path d="M1323.6,1003.2 C1327.9,1009.7 1328.4,1015.6 1325.8,1022.9 C1321.9,1016.3 1320.5,1010.5 1323.6,1003.2Z" fill="#c6e83c"/>
<path d="M1316,1021.1 C1310.2,1017.2 1306.7,1012.9 1305.9,1005.7 C1311.4,1009.8 1315.5,1013.7 1316,1021.1Z" fill="#0d4d2c"/>
<path d="M1317.9,993.3 C1324.9,992.3 1328.8,996 1333.2,1000.5 C1326.3,1001.1 1322.2,998.1 1317.9,993.3Z" fill="#9ad62e"/>
<path d="M1312.4,1000.8 C1320.4,1003.6 1321.8,1009.8 1323.8,1016.8 C1316.2,1013.8 1314.1,1008.1 1312.4,1000.8Z" fill="#8ccc2a"/>
<path d="M1325.3,1009.6 C1325,1016.2 1321.3,1018.2 1315.5,1019.1 C1316.1,1012.9 1319.2,1010.2 1325.3,1009.6Z" fill="#8ccc2a"/>
<path d="M1298.6,1000 C1304.6,996 1310.1,995.9 1316.8,997.8 C1310.8,1001.4 1305.3,1002.2 1298.6,1000Z" fill="#0a3a22"/>
<path d="M1319.1,1002.3 C1326.2,1004.8 1325.4,1010 1325.2,1015.7 C1318.6,1013 1318.5,1008.2 1319.1,1002.3Z" fill="#0d4d2c"/>
<path d="M1318.6,1023.6 C1312.7,1025.1 1309.3,1022.9 1306.5,1017.8 C1312.3,1016.7 1316.1,1018.1 1318.6,1023.6Z" fill="#a8dc30"/>
<path d="M1312.3,1026.9 C1305.7,1028.6 1303.2,1024 1299.5,1020.2 C1305.9,1018.8 1308.8,1022.7 1312.3,1026.9Z" fill="#e8f0c0"/>
<path d="M1320.3,1003.9 C1323.5,1008.5 1321.8,1012.3 1320,1016.8 C1317,1012.2 1318.1,1008.4 1320.3,1003.9Z" fill="#101010"/>
<path d="M1296.7,1002.8 C1298.3,996.4 1303,996.8 1308.1,996.4 C1306.3,1002.5 1302,1002.9 1296.7,1002.8Z" fill="#9ad62e"/>
<path d="M1321.3,1002.7 C1323.7,1008.9 1322.2,1013.7 1319,1019 C1316.9,1012.9 1317.7,1008 1321.3,1002.7Z" fill="#8ccc2a"/>
<path d="M1330.1,1006.1 C1328.6,1013.3 1324,1016.9 1318.3,1020.9 C1320.1,1013.8 1324.2,1009.9 1330.1,1006.1Z" fill="#0d4d2c"/>
<path d="M1301.9,1014.7 C1301.7,1007.5 1307.3,1005.8 1311.6,1002.1 C1311.6,1009.1 1306.5,1011.2 1301.9,1014.7Z" fill="#0d4d2c"/>
<path d="M1311.2,1022.9 C1305.9,1017.9 1306.5,1012.6 1308.1,1006.3 C1312.9,1011.4 1313.2,1016.5 1311.2,1022.9Z" fill="#0d4d2c"/>
<path d="M1319.3,1017.4 C1314.8,1021.4 1310.9,1019.5 1306.4,1017.4 C1310.9,1013.7 1314.8,1014.8 1319.3,1017.4Z" fill="#8ccc2a"/>
<path d="M1299.5,1012.4 C1301.1,1006 1304.5,1002.6 1311,1001.3 C1309.1,1007.4 1306.3,1011.4 1299.5,1012.4Z" fill="#c6e83c"/>
<path d="M1303.1,1009.7 C1305.4,1004 1309.7,1003.1 1315.1,1002.7 C1312.6,1008.1 1308.7,1009.6 1303.1,1009.7Z" fill="#b4e23a"/>
<path d="M1314.5,1027.3 C1309,1028.4 1304.7,1027.6 1300.8,1023.2 C1306.3,1022.5 1310.7,1022.6 1314.5,1027.3Z" fill="#9ad62e"/>
<path d="M1308.7,1027.7 C1301.1,1028.6 1299,1023.4 1296,1018.1 C1303.3,1017.6 1306,1022 1308.7,1027.7Z" fill="#8ccc2a"/>
<path d="M1333.5,1007.6 C1334.5,1012 1334.2,1015.5 1330.5,1018.6 C1329.8,1014.3 1329.5,1010.7 1333.5,1007.6Z" fill="#0a3a22"/>
<path d="M1320,1012.5 C1317.3,1016.7 1314.4,1017.4 1310.1,1014.8 C1312.9,1011 1315.7,1009.5 1320,1012.5Z" fill="#101010"/>
<path d="M1307.7,1003.5 C1314.2,1002 1319.3,1002.5 1324.6,1006.8 C1318.3,1008 1313,1008.2 1307.7,1003.5Z" fill="#0f5e36"/>
<path d="M1299.7,1014.3 C1296.5,1010.9 1296.8,1007.9 1298.9,1004.1 C1301.7,1007.5 1302.1,1010.5 1299.7,1014.3Z" fill="#b4e23a"/>
<path d="M1299.8,1006.8 C1299.1,999.3 1304.7,999.2 1309.5,997.3 C1309.8,1004.4 1304.9,1005.2 1299.8,1006.8Z" fill="#0a3a22"/>
<path d="M1322.3,1022.3 C1316.3,1024 1312.2,1021.3 1307.4,1018.3 C1313.4,1016.9 1317.6,1019 1322.3,1022.3Z" fill="#e8f0c0"/>
</g>
</svg>
</body></html>
